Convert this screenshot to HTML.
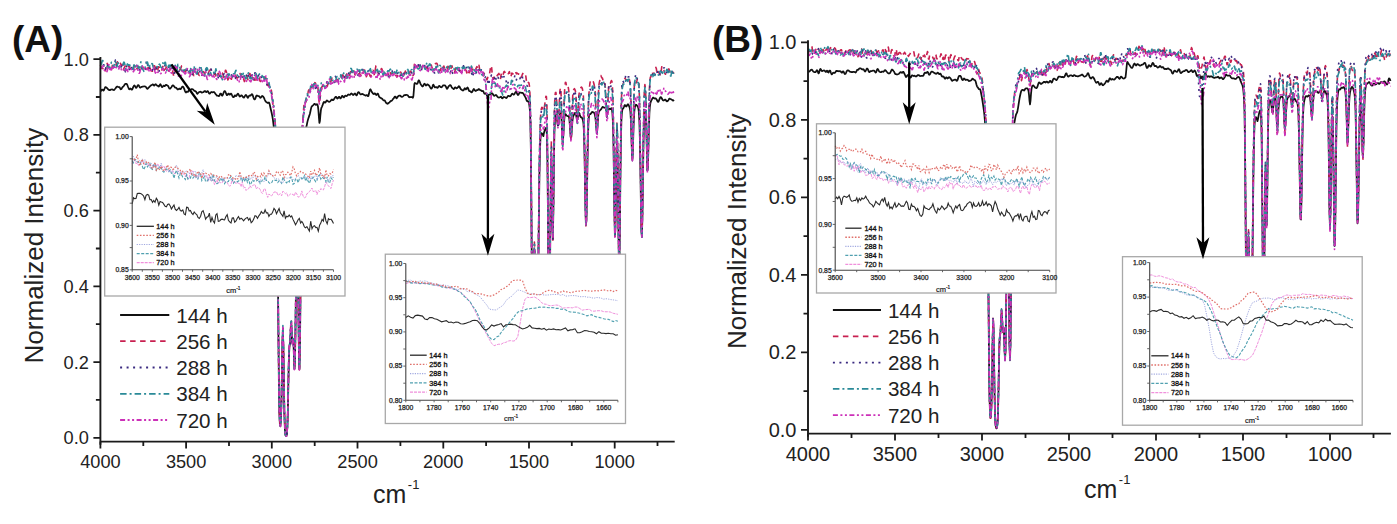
<!DOCTYPE html>
<html><head><meta charset="utf-8"><style>
html,body{margin:0;padding:0;background:#fff;}
body{width:1397px;height:524px;overflow:hidden;}
svg{display:block;}
text{font-family:"Liberation Sans",sans-serif;}
</style></head><body>
<svg width="1397" height="524" viewBox="0 0 1397 524">
<rect width="1397" height="524" fill="#fff"/>
<path d="M100.4,91.2 100.9,91.1 101.4,90.3 101.9,89.5 102.4,89.5 102.9,90.1 103.4,90.6 103.9,90.2 104.4,89.0 104.9,87.8 105.4,87.1 105.9,87.2 106.4,87.6 106.9,88.0 107.4,88.4 107.9,89.1 108.4,89.6 108.9,89.9 109.4,90.1 109.9,90.1 110.4,89.9 110.9,89.6 111.4,89.5 111.9,89.4 112.4,89.4 112.9,89.7 113.4,90.0 113.9,90.1 114.4,89.6 114.9,89.0 115.4,88.5 115.9,87.9 116.4,87.0 116.9,86.5 117.4,86.5 117.9,86.9 118.4,87.0 118.9,87.0 119.4,87.1 119.9,87.8 120.4,88.8 120.9,89.3 121.4,89.0 121.9,88.1 122.4,87.4 122.9,86.8 123.4,86.4 123.9,85.8 124.4,85.0 124.9,84.3 125.4,83.9 125.9,83.8 126.4,83.8 126.9,84.2 127.4,85.2 127.9,86.5 128.4,87.7 128.9,88.8 129.4,89.3 129.9,89.0 130.4,88.5 130.9,88.7 131.4,89.4 131.9,89.7 132.4,89.1 132.9,87.9 133.4,86.7 133.9,85.8 134.4,85.5 134.9,85.9 135.4,86.9 135.9,87.8 136.4,87.8 136.9,87.0 137.4,85.9 137.9,85.2 138.4,85.1 138.9,85.6 139.4,86.6 139.9,87.5 140.4,87.7 140.9,87.2 141.4,86.9 141.9,86.8 142.4,86.7 142.9,86.6 143.4,86.5 143.9,86.4 144.4,86.4 144.9,86.5 145.4,86.6 145.9,86.9 146.4,87.7 146.9,88.5 147.4,88.9 147.9,88.5 148.4,87.9 148.9,87.4 149.4,86.9 149.9,86.4 150.4,85.8 150.9,85.4 151.4,85.3 151.9,85.0 152.4,84.5 152.9,84.3 153.4,84.8 153.9,85.5 154.4,85.5 154.9,84.8 155.4,84.2 155.9,84.4 156.4,85.0 156.9,85.5 157.4,85.5 157.9,85.9 158.4,86.5 158.9,86.6 159.4,85.8 159.9,84.7 160.4,84.3 160.9,85.0 161.4,86.2 161.9,87.1 162.4,87.1 162.9,86.4 163.4,85.7 163.9,85.7 164.4,86.1 164.9,86.1 165.4,85.4 165.9,84.8 166.4,84.9 166.9,85.2 167.4,85.5 167.9,85.8 168.4,86.5 168.9,87.6 169.4,88.5 169.9,88.7 170.4,88.4 170.9,87.8 171.4,87.2 171.9,86.3 172.4,85.6 172.9,85.4 173.4,85.6 173.9,86.1 174.4,86.8 174.9,87.4 175.4,87.6 175.9,87.6 176.4,88.0 176.9,88.6 177.4,89.2 177.9,89.5 178.4,89.3 178.9,88.8 179.4,88.6 179.9,88.9 180.4,89.2 180.9,88.9 181.4,88.0 181.9,87.2 182.4,86.7 182.9,86.6 183.4,87.1 183.9,88.1 184.4,89.4 184.9,90.8 185.4,92.0 185.9,92.5 186.4,92.1 186.9,91.5 187.4,91.7 187.9,91.9 188.4,91.2 188.9,90.1 189.4,89.6 189.9,89.8 190.4,89.9 190.9,89.6 191.4,89.2 191.9,89.1 192.4,89.2 192.9,89.4 193.4,89.7 193.9,90.3 194.4,90.8 194.9,91.1 195.4,91.2 195.9,91.5 196.4,92.3 196.9,93.3 197.4,93.8 197.9,93.4 198.4,92.6 198.9,92.2 199.4,92.0 199.9,91.8 200.4,91.7 200.9,91.9 201.4,92.4 201.9,92.6 202.4,92.5 202.9,92.3 203.4,92.1 203.9,91.7 204.4,91.2 204.9,91.0 205.4,91.4 205.9,92.0 206.4,92.1 206.9,91.7 207.4,91.2 207.9,91.2 208.4,92.0 208.9,93.1 209.4,93.7 209.9,93.6 210.4,92.9 210.9,92.2 211.4,92.0 211.9,92.1 212.4,92.3 212.9,92.3 213.4,92.1 213.9,92.0 214.4,92.4 214.9,93.1 215.4,93.8 215.9,94.3 216.4,95.0 216.9,95.6 217.4,95.7 217.9,95.7 218.4,95.9 218.9,96.1 219.4,95.6 219.9,94.5 220.4,93.5 220.9,93.5 221.4,94.5 221.9,95.5 222.4,95.7 222.9,94.7 223.4,93.3 223.9,92.0 224.4,91.2 224.9,91.1 225.4,91.7 225.9,93.0 226.4,94.4 226.9,95.2 227.4,95.0 227.9,94.2 228.4,93.6 228.9,93.7 229.4,94.4 229.9,94.7 230.4,94.2 230.9,93.6 231.4,93.9 231.9,95.0 232.4,96.1 232.9,96.9 233.4,97.2 233.9,97.0 234.4,96.0 234.9,95.3 235.4,95.5 235.9,96.1 236.4,95.9 236.9,95.0 237.4,94.1 237.9,93.7 238.4,94.2 238.9,95.1 239.4,96.1 239.9,96.6 240.4,96.3 240.9,95.7 241.4,95.3 241.9,95.5 242.4,96.2 242.9,96.9 243.4,97.5 243.9,97.6 244.4,97.0 244.9,96.1 245.4,95.3 245.9,95.0 246.4,95.3 246.9,96.2 247.4,97.3 247.9,97.8 248.4,97.1 248.9,96.0 249.4,95.5 249.9,95.6 250.4,95.7 250.9,95.3 251.4,94.6 251.9,94.1 252.4,94.5 252.9,95.8 253.4,97.5 253.9,98.8 254.4,99.4 254.9,99.4 255.4,98.4 255.9,96.9 256.4,95.7 256.9,95.4 257.4,95.7 257.9,96.0 258.4,96.1 258.9,96.2 259.4,96.7 259.9,97.3 260.4,97.8 260.9,97.5 261.4,96.7 261.9,96.1 262.4,96.0 262.9,96.4 263.4,96.9 263.9,97.7 264.4,98.8 264.9,100.0 265.4,101.1 265.9,101.8 266.4,102.1 266.9,102.3 267.4,102.8 267.9,103.1 268.4,102.8 268.9,102.5 269.4,103.3 269.9,105.2 270.4,107.5 270.9,109.7 271.4,111.8 271.9,114.1 272.4,116.6 272.9,119.6 273.4,123.6 273.9,128.2 274.4,132.9 274.9,138.2 275.4,144.8 275.9,153.5 276.4,165.6 276.9,184.9 277.4,217.9 277.9,269.9 278.4,332.8 278.9,384.7 279.4,413.5 279.9,424.6 280.4,426.3 280.9,420.6 281.4,404.4 281.9,375.4 282.4,344.4 282.9,332.2 283.4,348.8 283.9,383.2 284.4,413.6 284.9,429.4 285.4,434.8 285.9,436.2 286.4,436.0 286.9,433.9 287.4,426.8 287.9,409.3 288.4,382.1 288.9,357.7 289.4,347.0 289.9,343.9 290.4,336.2 290.9,326.1 291.4,325.8 291.9,336.4 292.4,343.7 292.9,340.1 293.4,340.8 293.9,355.4 294.4,368.8 294.9,364.1 295.4,336.6 295.9,294.5 296.4,256.9 296.9,236.6 297.4,237.2 297.9,263.6 298.4,310.9 298.9,353.1 299.4,369.2 299.9,353.0 300.4,304.6 300.9,240.4 301.4,190.4 301.9,164.5 302.4,152.7 302.9,146.2 303.4,141.8 303.9,138.3 304.4,135.2 304.9,132.3 305.4,130.1 305.9,128.7 306.4,126.8 306.9,124.3 307.4,121.9 307.9,119.9 308.4,118.3 308.9,116.9 309.4,115.4 309.9,113.7 310.4,111.5 310.9,109.1 311.4,107.1 311.9,106.3 312.4,105.8 312.9,105.5 313.4,105.0 313.9,104.3 314.4,103.8 314.9,103.9 315.4,104.6 315.9,104.9 316.4,104.5 316.9,104.1 317.4,104.5 317.9,106.2 318.4,110.2 318.9,117.1 319.4,122.9 319.9,121.1 320.4,114.9 320.9,110.1 321.4,107.8 321.9,106.8 322.4,105.7 322.9,104.2 323.4,102.7 323.9,101.9 324.4,102.0 324.9,102.6 325.4,102.6 325.9,101.8 326.4,100.9 326.9,100.5 327.4,100.6 327.9,101.1 328.4,101.5 328.9,101.8 329.4,101.8 329.9,101.5 330.4,101.1 330.9,100.4 331.4,99.7 331.9,99.5 332.4,99.8 332.9,100.2 333.4,100.0 333.9,99.3 334.4,98.5 334.9,97.7 335.4,97.1 335.9,96.8 336.4,97.2 336.9,98.1 337.4,98.6 337.9,98.3 338.4,97.5 338.9,96.8 339.4,96.9 339.9,97.7 340.4,98.4 340.9,98.2 341.4,97.2 341.9,96.1 342.4,95.9 342.9,96.4 343.4,97.2 343.9,97.4 344.4,96.8 344.9,96.0 345.4,95.6 345.9,95.8 346.4,96.1 346.9,96.0 347.4,95.5 347.9,94.8 348.4,94.5 348.9,94.6 349.4,94.8 349.9,94.8 350.4,94.3 350.9,93.7 351.4,93.4 351.9,93.7 352.4,94.4 352.9,94.9 353.4,95.0 353.9,94.4 354.4,93.7 354.9,93.5 355.4,93.9 355.9,94.8 356.4,95.4 356.9,95.1 357.4,93.8 357.9,92.6 358.4,92.1 358.9,92.3 359.4,92.9 359.9,93.7 360.4,94.3 360.9,94.4 361.4,94.2 361.9,93.9 362.4,93.9 362.9,94.2 363.4,94.4 363.9,94.7 364.4,95.0 364.9,95.2 365.4,95.5 365.9,95.5 366.4,95.2 366.9,95.0 367.4,95.5 367.9,96.2 368.4,95.9 368.9,94.1 369.4,91.8 369.9,89.9 370.4,89.3 370.9,90.0 371.4,91.2 371.9,92.1 372.4,92.7 372.9,93.4 373.4,94.0 373.9,94.1 374.4,93.6 374.9,93.3 375.4,93.8 375.9,94.7 376.4,95.0 376.9,94.4 377.4,93.6 377.9,93.6 378.4,94.8 378.9,96.3 379.4,97.1 379.9,97.4 380.4,97.7 380.9,98.1 381.4,98.4 381.9,98.6 382.4,99.0 382.9,99.7 383.4,100.3 383.9,100.4 384.4,100.3 384.9,100.7 385.4,101.7 385.9,102.7 386.4,103.2 386.9,103.4 387.4,103.8 387.9,103.6 388.4,103.2 388.9,102.8 389.4,102.4 389.9,101.9 390.4,101.4 390.9,100.9 391.4,100.9 391.9,100.6 392.4,99.9 392.9,99.1 393.4,98.6 393.9,98.1 394.4,97.3 394.9,96.5 395.4,96.5 395.9,97.4 396.4,98.3 396.9,98.2 397.4,97.3 397.9,96.5 398.4,96.1 398.9,95.8 399.4,95.5 399.9,95.5 400.4,95.8 400.9,96.3 401.4,96.7 401.9,96.9 402.4,96.7 402.9,96.5 403.4,96.0 403.9,95.4 404.4,95.1 404.9,95.2 405.4,95.1 405.9,94.9 406.4,94.9 406.9,95.0 407.4,95.1 407.9,95.5 408.4,96.3 408.9,97.0 409.4,97.3 409.9,97.0 410.4,97.0 410.9,97.2 411.4,97.1 411.9,97.0 412.4,97.4 412.9,97.8 413.4,96.0 413.9,89.9 414.4,83.8 414.9,82.9 415.4,83.2 415.9,83.5 416.4,83.8 416.9,83.9 417.4,83.6 417.9,82.4 418.4,80.9 418.9,80.3 419.4,81.0 419.9,82.3 420.4,83.6 420.9,84.5 421.4,85.2 421.9,86.0 422.4,86.5 422.9,86.3 423.4,85.4 423.9,84.3 424.4,83.7 424.9,84.0 425.4,84.8 425.9,85.5 426.4,85.4 426.9,84.7 427.4,84.3 427.9,84.5 428.4,85.0 428.9,85.4 429.4,86.0 429.9,86.9 430.4,87.8 430.9,88.4 431.4,88.7 431.9,88.2 432.4,86.8 432.9,85.2 433.4,84.7 433.9,85.6 434.4,86.8 434.9,87.4 435.4,87.3 435.9,87.1 436.4,87.2 436.9,87.6 437.4,87.9 437.9,87.5 438.4,86.6 438.9,86.0 439.4,85.9 439.9,86.4 440.4,86.9 440.9,87.2 441.4,87.3 441.9,87.0 442.4,86.4 442.9,85.6 443.4,85.3 443.9,85.3 444.4,85.3 444.9,85.4 445.4,85.8 445.9,86.7 446.4,87.9 446.9,88.8 447.4,88.7 447.9,87.7 448.4,86.6 448.9,86.0 449.4,85.6 449.9,85.2 450.4,85.1 450.9,85.6 451.4,86.7 451.9,87.6 452.4,88.0 452.9,88.5 453.4,89.0 453.9,89.0 454.4,88.2 454.9,87.4 455.4,87.4 455.9,87.9 456.4,88.3 456.9,88.2 457.4,87.8 457.9,87.4 458.4,86.7 458.9,86.2 459.4,86.5 459.9,87.5 460.4,88.5 460.9,89.2 461.4,89.6 461.9,89.9 462.4,90.2 462.9,90.5 463.4,90.4 463.9,89.7 464.4,88.7 464.9,88.3 465.4,89.0 465.9,89.5 466.4,89.0 466.9,88.1 467.4,87.5 467.9,87.9 468.4,89.1 468.9,90.5 469.4,91.2 469.9,91.2 470.4,91.3 470.9,91.8 471.4,92.3 471.9,92.2 472.4,91.5 472.9,90.5 473.4,89.4 473.9,89.0 474.4,89.6 474.9,90.5 475.4,91.0 475.9,90.9 476.4,90.4 476.9,90.1 477.4,90.2 477.9,90.0 478.4,89.2 478.9,89.1 479.4,89.4 479.9,89.9 480.4,90.2 480.9,90.3 481.4,90.7 481.9,91.1 482.4,91.0 482.9,90.9 483.4,91.5 483.9,92.6 484.4,93.6 484.9,93.8 485.4,93.7 485.9,93.1 486.4,93.6 486.9,95.6 487.4,96.3 487.9,95.7 488.4,95.1 488.9,94.6 489.4,94.6 489.9,94.6 490.4,94.4 490.9,93.9 491.4,93.4 491.9,93.2 492.4,93.5 492.9,94.3 493.4,95.1 493.9,95.7 494.4,95.8 494.9,95.5 495.4,95.1 495.9,95.0 496.4,95.3 496.9,96.0 497.4,96.7 497.9,97.2 498.4,97.5 498.9,97.6 499.4,97.5 499.9,97.3 500.4,97.0 500.9,96.7 501.4,97.2 501.9,98.1 502.4,98.3 502.9,97.8 503.4,97.3 503.9,97.0 504.4,97.1 504.9,97.3 505.4,97.5 505.9,97.9 506.4,98.0 506.9,97.6 507.4,96.8 507.9,96.0 508.4,95.8 508.9,96.0 509.4,96.2 509.9,96.3 510.4,96.2 510.9,95.7 511.4,94.7 511.9,93.8 512.4,93.7 512.9,94.1 513.4,94.5 513.9,94.5 514.4,94.1 514.9,93.2 515.4,92.3 515.9,91.7 516.4,92.1 516.9,93.1 517.4,94.3 517.9,95.0 518.4,94.9 518.9,93.9 519.4,92.9 519.9,92.5 520.4,92.6 520.9,92.7 521.4,92.8 521.9,92.8 522.4,92.9 522.9,93.1 523.4,93.7 523.9,94.5 524.4,95.5 524.9,96.4 525.4,97.2 525.9,98.4 526.4,99.8 526.9,101.0 527.4,101.3 527.9,101.1 528.4,101.5 528.9,103.0 529.4,105.6 529.9,110.3 530.4,122.1 530.9,152.6 531.4,211.6 531.9,282.5 532.4,331.1 532.9,341.6 533.4,316.5 533.9,273.1 534.4,249.3 534.9,266.2 535.4,304.7 535.9,339.4 536.4,358.8 536.9,360.2 537.4,343.5 537.9,309.5 538.4,262.7 538.9,214.7 539.4,175.9 539.9,151.5 540.4,139.4 540.9,134.7 541.4,133.2 541.9,133.3 542.4,134.1 542.9,135.2 543.4,136.2 543.9,133.2 544.4,131.2 544.9,129.9 545.4,128.9 545.9,128.0 546.4,128.3 546.9,134.9 547.4,158.5 547.9,208.9 548.4,272.8 548.9,316.5 549.4,321.3 549.9,286.1 550.4,226.4 550.9,175.1 551.4,160.1 551.9,184.9 552.4,225.1 552.9,238.8 553.4,208.1 553.9,163.0 554.4,133.3 554.9,121.3 555.4,116.7 555.9,114.8 556.4,115.2 556.9,118.1 557.4,122.4 557.9,125.6 558.4,124.5 558.9,119.9 559.4,115.8 559.9,113.7 560.4,113.1 560.9,113.8 561.4,117.5 561.9,126.2 562.4,137.7 562.9,141.8 563.4,134.5 563.9,124.6 564.4,117.9 564.9,114.9 565.4,114.1 565.9,114.5 566.4,115.3 566.9,115.8 567.4,116.0 567.9,116.0 568.4,116.1 568.9,116.8 569.4,119.7 569.9,125.9 570.4,133.9 570.9,138.9 571.4,136.1 571.9,128.4 572.4,121.3 572.9,117.4 573.4,115.8 573.9,114.9 574.4,113.8 574.9,113.0 575.4,113.1 575.9,114.3 576.4,116.7 576.9,119.0 577.4,119.3 577.9,117.1 578.4,114.3 578.9,112.8 579.4,113.3 579.9,115.1 580.4,116.6 580.9,117.3 581.4,117.3 581.9,117.7 582.4,118.7 582.9,120.2 583.4,123.0 583.9,130.8 584.4,148.3 584.9,175.9 585.4,205.9 585.9,224.8 586.4,221.0 586.9,197.2 587.4,166.2 587.9,139.8 588.4,123.7 588.9,116.6 589.4,114.5 589.9,114.2 590.4,114.2 590.9,113.7 591.4,112.8 591.9,112.0 592.4,111.9 592.9,112.3 593.4,112.4 593.9,112.4 594.4,113.2 594.9,114.9 595.4,117.8 595.9,122.7 596.4,129.0 596.9,131.8 597.4,127.4 597.9,119.9 598.4,114.2 598.9,111.7 599.4,110.9 599.9,110.5 600.4,110.0 600.9,109.4 601.4,108.7 601.9,107.9 602.4,107.1 602.9,106.9 603.4,107.2 603.9,107.6 604.4,107.6 604.9,107.6 605.4,107.9 605.9,108.9 606.4,110.7 606.9,112.6 607.4,112.9 607.9,111.8 608.4,110.2 608.9,109.0 609.4,108.7 609.9,109.0 610.4,109.1 610.9,108.5 611.4,108.2 611.9,109.4 612.4,113.2 612.9,121.7 613.4,140.4 613.9,173.2 614.4,212.1 614.9,236.4 615.4,228.3 615.9,195.3 616.4,160.9 616.9,143.7 617.4,150.8 617.9,182.7 618.4,228.0 618.9,262.1 619.4,261.5 619.9,225.8 620.4,177.8 620.9,140.6 621.4,120.8 621.9,112.5 622.4,109.5 622.9,108.6 623.4,108.1 623.9,107.0 624.4,105.6 624.9,105.0 625.4,105.5 625.9,106.4 626.4,106.5 626.9,105.7 627.4,104.7 627.9,104.3 628.4,104.6 628.9,105.7 629.4,107.0 629.9,108.5 630.4,111.9 630.9,120.5 631.4,135.8 631.9,152.8 632.4,159.5 632.9,149.2 633.4,131.7 633.9,117.7 634.4,110.4 634.9,107.1 635.4,105.4 635.9,104.7 636.4,104.9 636.9,105.5 637.4,106.1 637.9,106.8 638.4,108.4 638.9,112.5 639.4,121.9 639.9,140.1 640.4,169.1 640.9,203.7 641.4,231.1 641.9,236.9 642.4,216.9 642.9,182.2 643.4,147.9 643.9,124.4 644.4,113.1 644.9,109.8 645.4,111.0 645.9,117.6 646.4,132.4 646.9,153.5 647.4,170.0 647.9,167.6 648.4,148.4 648.9,127.2 649.4,113.1 649.9,106.2 650.4,103.1 650.9,101.4 651.4,100.3 651.9,99.4 652.4,98.4 652.9,97.7 653.4,97.6 653.9,98.1 654.4,98.5 654.9,98.4 655.4,98.3 655.9,98.6 656.4,99.2 656.9,100.0 657.4,101.0 657.9,101.8 658.4,101.8 658.9,100.8 659.4,99.4 659.9,98.1 660.4,97.3 660.9,97.1 661.4,97.7 661.9,98.5 662.4,99.5 662.9,100.2 663.4,100.5 663.9,100.4 664.4,100.0 664.9,99.7 665.4,99.6 665.9,100.2 666.4,101.0 666.9,101.4 667.4,101.2 667.9,100.8 668.4,100.2 668.9,99.3 669.4,98.6 669.9,98.7 670.4,99.0 670.9,99.2 671.4,99.4 671.9,99.7 672.4,100.1 672.9,100.5 673.4,100.5 673.9,99.8" fill="none" stroke="#111" stroke-width="1.75" stroke-linejoin="round"/>
<path d="M100.4,65.1 100.9,66.6 101.4,67.9 101.9,68.2 102.4,68.1 102.9,68.6 103.4,69.6 103.9,69.0 104.4,67.5 104.9,69.1 105.4,70.8 105.9,68.0 106.4,64.0 106.9,62.7 107.4,64.0 107.9,66.6 108.4,67.5 108.9,67.3 109.4,68.2 109.9,68.6 110.4,68.8 110.9,69.9 111.4,70.4 111.9,68.1 112.4,65.2 112.9,64.4 113.4,65.5 113.9,66.0 114.4,65.3 114.9,65.4 115.4,65.3 115.9,64.7 116.4,64.0 116.9,62.6 117.4,61.8 117.9,62.7 118.4,63.8 118.9,65.0 119.4,65.6 119.9,64.7 120.4,63.3 120.9,64.3 121.4,66.2 121.9,65.4 122.4,64.8 122.9,67.9 123.4,69.8 123.9,68.2 124.4,67.5 124.9,66.7 125.4,65.2 125.9,65.4 126.4,65.9 126.9,65.0 127.4,64.7 127.9,65.5 128.4,66.3 128.9,65.5 129.4,66.1 129.9,68.3 130.4,68.7 130.9,67.3 131.4,66.0 131.9,66.1 132.4,66.5 132.9,67.3 133.4,68.8 133.9,67.3 134.4,65.0 134.9,64.6 135.4,64.7 135.9,65.8 136.4,67.4 136.9,68.8 137.4,69.3 137.9,68.2 138.4,66.6 138.9,65.6 139.4,67.4 139.9,68.9 140.4,68.5 140.9,68.1 141.4,68.5 141.9,68.7 142.4,67.4 142.9,67.0 143.4,69.0 143.9,71.0 144.4,71.0 144.9,70.1 145.4,70.1 145.9,69.7 146.4,68.8 146.9,68.3 147.4,68.4 147.9,68.9 148.4,67.6 148.9,65.5 149.4,65.3 149.9,66.8 150.4,69.2 150.9,70.7 151.4,70.7 151.9,71.1 152.4,71.2 152.9,69.3 153.4,66.6 153.9,65.7 154.4,65.8 154.9,66.5 155.4,67.8 155.9,69.4 156.4,70.7 156.9,72.0 157.4,72.2 157.9,69.6 158.4,66.7 158.9,67.0 159.4,67.3 159.9,66.9 160.4,68.0 160.9,70.0 161.4,70.8 161.9,69.9 162.4,67.4 162.9,66.4 163.4,69.4 163.9,71.3 164.4,70.0 164.9,69.0 165.4,69.0 165.9,68.2 166.4,66.6 166.9,66.2 167.4,66.9 167.9,67.4 168.4,69.6 168.9,71.1 169.4,70.9 169.9,69.3 170.4,68.5 170.9,69.4 171.4,69.0 171.9,67.8 172.4,69.8 172.9,72.5 173.4,74.7 173.9,76.7 174.4,75.8 174.9,72.3 175.4,69.8 175.9,68.8 176.4,69.0 176.9,70.0 177.4,70.3 177.9,70.3 178.4,70.9 178.9,71.3 179.4,70.6 179.9,69.7 180.4,69.5 180.9,68.1 181.4,66.4 181.9,65.9 182.4,65.8 182.9,66.0 183.4,67.1 183.9,68.5 184.4,69.8 184.9,71.5 185.4,71.9 185.9,70.9 186.4,70.4 186.9,70.4 187.4,70.7 187.9,70.9 188.4,70.1 188.9,68.9 189.4,69.8 189.9,72.8 190.4,74.6 190.9,73.5 191.4,71.2 191.9,70.3 192.4,70.0 192.9,71.9 193.4,74.7 193.9,75.6 194.4,74.9 194.9,73.2 195.4,72.9 195.9,72.9 196.4,72.3 196.9,72.5 197.4,72.2 197.9,72.2 198.4,73.6 198.9,75.1 199.4,75.5 199.9,74.6 200.4,73.9 200.9,73.7 201.4,72.9 201.9,72.8 202.4,72.6 202.9,72.0 203.4,71.7 203.9,72.7 204.4,73.5 204.9,73.2 205.4,72.5 205.9,71.3 206.4,70.1 206.9,70.2 207.4,71.4 207.9,72.2 208.4,72.4 208.9,71.6 209.4,70.5 209.9,70.2 210.4,69.8 210.9,69.5 211.4,70.7 211.9,72.6 212.4,72.9 212.9,72.5 213.4,73.4 213.9,74.0 214.4,74.4 214.9,73.8 215.4,73.8 215.9,76.4 216.4,77.7 216.9,75.9 217.4,74.5 217.9,73.5 218.4,73.4 218.9,75.1 219.4,75.9 219.9,74.2 220.4,72.5 220.9,72.4 221.4,73.0 221.9,73.2 222.4,73.0 222.9,74.1 223.4,76.0 223.9,77.4 224.4,76.7 224.9,73.2 225.4,70.4 225.9,70.4 226.4,71.9 226.9,74.5 227.4,77.8 227.9,80.0 228.4,79.0 228.9,76.2 229.4,75.6 229.9,76.7 230.4,77.5 230.9,78.8 231.4,79.2 231.9,77.2 232.4,75.2 232.9,75.5 233.4,76.5 233.9,76.7 234.4,75.7 234.9,75.1 235.4,75.0 235.9,75.8 236.4,77.3 236.9,77.9 237.4,78.0 237.9,77.6 238.4,75.1 238.9,73.1 239.4,72.9 239.9,73.3 240.4,74.5 240.9,75.6 241.4,75.2 241.9,76.7 242.4,79.8 242.9,79.5 243.4,78.5 243.9,80.1 244.4,81.6 244.9,80.2 245.4,78.3 245.9,78.7 246.4,77.4 246.9,75.6 247.4,77.4 247.9,79.8 248.4,78.7 248.9,75.9 249.4,73.8 249.9,73.5 250.4,76.4 250.9,79.2 251.4,80.1 251.9,79.5 252.4,78.1 252.9,77.7 253.4,77.9 253.9,78.1 254.4,79.9 254.9,81.9 255.4,83.0 255.9,80.7 256.4,76.9 256.9,76.5 257.4,78.1 257.9,78.4 258.4,77.1 258.9,76.8 259.4,78.2 259.9,80.8 260.4,81.5 260.9,80.2 261.4,78.5 261.9,77.8 262.4,77.7 262.9,77.2 263.4,77.4 263.9,78.0 264.4,77.5 264.9,77.2 265.4,78.0 265.9,77.9 266.4,79.5 266.9,83.2 267.4,85.4 267.9,84.1 268.4,83.9 268.9,86.5 269.4,89.0 269.9,89.5 270.4,89.3 270.9,89.2 271.4,90.6 271.9,94.6 272.4,100.0 272.9,104.2 273.4,107.6 273.9,110.6 274.4,114.8 274.9,119.8 275.4,125.3 275.9,134.8 276.4,149.9 276.9,171.6 277.4,207.1 277.9,262.1 278.4,328.3 278.9,382.8 279.4,412.8 279.9,424.4 280.4,426.1 280.9,420.3 281.4,403.2 281.9,372.6 282.4,340.3 282.9,327.4 283.4,344.3 283.9,380.4 284.4,412.7 284.9,429.2 285.4,434.8 285.9,436.2 286.4,436.0 286.9,433.8 287.4,426.3 287.9,408.0 288.4,379.5 288.9,354.9 289.4,345.7 289.9,344.0 290.4,335.0 290.9,321.9 291.4,321.1 291.9,334.2 292.4,342.6 292.9,337.9 293.4,337.8 293.9,353.8 294.4,368.7 294.9,363.8 295.4,333.8 295.9,287.3 296.4,245.5 296.9,223.0 297.4,225.1 297.9,256.6 298.4,308.4 298.9,353.0 299.4,369.7 299.9,352.3 300.4,299.3 300.9,226.7 301.4,169.6 301.9,140.0 302.4,126.1 302.9,118.4 303.4,112.1 303.9,105.8 304.4,101.8 304.9,101.7 305.4,103.0 305.9,101.8 306.4,98.7 306.9,96.3 307.4,94.6 307.9,93.0 308.4,90.9 308.9,89.8 309.4,91.5 309.9,92.5 310.4,90.1 310.9,87.5 311.4,87.2 311.9,87.1 312.4,86.4 312.9,87.8 313.4,89.0 313.9,86.5 314.4,83.8 314.9,82.7 315.4,83.0 315.9,84.7 316.4,86.3 316.9,85.9 317.4,85.9 317.9,87.6 318.4,92.9 318.9,100.1 319.4,103.7 319.9,100.6 320.4,95.3 320.9,91.7 321.4,89.1 321.9,86.8 322.4,85.8 322.9,86.1 323.4,85.7 323.9,84.5 324.4,84.2 324.9,84.5 325.4,84.6 325.9,84.7 326.4,85.7 326.9,86.6 327.4,86.1 327.9,83.1 328.4,80.5 328.9,81.1 329.4,82.0 329.9,81.7 330.4,81.4 330.9,81.4 331.4,79.7 331.9,78.3 332.4,78.3 332.9,78.5 333.4,78.6 333.9,79.8 334.4,81.3 334.9,81.8 335.4,81.7 335.9,81.1 336.4,80.1 336.9,79.4 337.4,79.5 337.9,79.8 338.4,80.6 338.9,80.7 339.4,78.6 339.9,77.2 340.4,77.2 340.9,77.3 341.4,76.7 341.9,76.0 342.4,75.0 342.9,75.1 343.4,76.4 343.9,78.7 344.4,79.9 344.9,78.7 345.4,76.4 345.9,75.9 346.4,75.2 346.9,73.8 347.4,75.2 347.9,76.8 348.4,76.9 348.9,76.0 349.4,75.2 349.9,73.9 350.4,72.1 350.9,70.8 351.4,71.7 351.9,72.6 352.4,71.8 352.9,71.6 353.4,71.5 353.9,70.9 354.4,72.5 354.9,74.8 355.4,74.9 355.9,74.9 356.4,75.0 356.9,74.4 357.4,75.5 357.9,75.8 358.4,74.0 358.9,73.8 359.4,73.7 359.9,73.8 360.4,75.2 360.9,75.7 361.4,73.2 361.9,71.0 362.4,71.5 362.9,72.7 363.4,73.0 363.9,71.7 364.4,70.1 364.9,70.2 365.4,71.5 365.9,74.5 366.4,76.7 366.9,75.3 367.4,72.9 367.9,71.3 368.4,72.1 368.9,73.7 369.4,74.2 369.9,75.6 370.4,76.5 370.9,76.0 371.4,74.3 371.9,72.0 372.4,70.9 372.9,70.4 373.4,70.6 373.9,73.0 374.4,75.3 374.9,73.0 375.4,68.9 375.9,65.9 376.4,65.6 376.9,68.1 377.4,70.6 377.9,72.2 378.4,73.8 378.9,74.5 379.4,74.1 379.9,73.7 380.4,72.6 380.9,70.1 381.4,68.5 381.9,68.9 382.4,70.4 382.9,71.0 383.4,71.9 383.9,73.0 384.4,73.5 384.9,74.9 385.4,75.6 385.9,75.5 386.4,74.8 386.9,74.2 387.4,73.4 387.9,73.7 388.4,74.6 388.9,73.1 389.4,70.9 389.9,71.2 390.4,73.2 390.9,74.3 391.4,73.7 391.9,73.2 392.4,73.4 392.9,73.6 393.4,74.3 393.9,73.7 394.4,72.6 394.9,73.2 395.4,75.3 395.9,75.4 396.4,75.4 396.9,77.0 397.4,76.2 397.9,74.6 398.4,74.7 398.9,75.2 399.4,74.8 399.9,73.2 400.4,72.1 400.9,72.2 401.4,73.9 401.9,75.1 402.4,73.9 402.9,72.1 403.4,72.0 403.9,73.8 404.4,74.4 404.9,72.5 405.4,71.1 405.9,72.9 406.4,74.1 406.9,73.6 407.4,73.1 407.9,73.0 408.4,72.9 408.9,73.7 409.4,74.0 409.9,72.5 410.4,71.2 410.9,71.4 411.4,71.8 411.9,71.3 412.4,72.4 412.9,75.6 413.4,75.3 413.9,69.4 414.4,64.4 414.9,65.0 415.4,67.2 415.9,68.7 416.4,69.0 416.9,68.8 417.4,68.0 417.9,66.1 418.4,65.5 418.9,66.1 419.4,65.3 419.9,66.2 420.4,69.0 420.9,70.6 421.4,69.4 421.9,67.3 422.4,66.3 422.9,66.2 423.4,65.8 423.9,63.9 424.4,63.7 424.9,65.4 425.4,66.9 425.9,67.9 426.4,68.0 426.9,67.6 427.4,68.4 427.9,68.9 428.4,67.0 428.9,64.9 429.4,65.4 429.9,65.8 430.4,64.9 430.9,64.7 431.4,65.4 431.9,67.0 432.4,68.0 432.9,67.1 433.4,65.4 433.9,64.4 434.4,64.0 434.9,63.7 435.4,63.5 435.9,63.6 436.4,63.3 436.9,63.3 437.4,64.5 437.9,67.3 438.4,70.4 438.9,71.7 439.4,70.9 439.9,70.9 440.4,70.6 440.9,68.4 441.4,68.6 441.9,70.7 442.4,69.9 442.9,68.0 443.4,66.6 443.9,66.1 444.4,67.9 444.9,70.5 445.4,70.7 445.9,69.7 446.4,69.5 446.9,69.5 447.4,68.2 447.9,66.4 448.4,66.5 448.9,68.1 449.4,69.5 449.9,70.2 450.4,70.3 450.9,68.8 451.4,66.9 451.9,65.8 452.4,67.5 452.9,70.2 453.4,70.9 453.9,71.1 454.4,72.4 454.9,71.7 455.4,68.1 455.9,66.9 456.4,66.8 456.9,66.0 457.4,67.2 457.9,68.8 458.4,69.3 458.9,70.2 459.4,71.0 459.9,71.3 460.4,70.7 460.9,70.0 461.4,69.8 461.9,69.6 462.4,69.7 462.9,69.3 463.4,69.5 463.9,69.5 464.4,68.7 464.9,69.0 465.4,69.6 465.9,70.2 466.4,71.3 466.9,73.6 467.4,75.4 467.9,75.0 468.4,72.8 468.9,72.1 469.4,72.7 469.9,71.3 470.4,67.9 470.9,65.7 471.4,66.9 471.9,69.6 472.4,70.0 472.9,67.8 473.4,67.4 473.9,68.8 474.4,69.7 474.9,70.0 475.4,69.9 475.9,69.0 476.4,67.6 476.9,66.6 477.4,67.5 477.9,68.7 478.4,66.6 478.9,65.2 479.4,67.9 479.9,70.8 480.4,71.1 480.9,71.1 481.4,71.6 481.9,71.7 482.4,72.9 482.9,75.1 483.4,75.8 483.9,74.5 484.4,73.4 484.9,73.7 485.4,74.7 485.9,75.7 486.4,77.8 486.9,79.9 487.4,78.7 487.9,76.8 488.4,75.8 488.9,76.2 489.4,74.9 489.9,71.6 490.4,68.3 490.9,65.9 491.4,65.5 491.9,70.4 492.4,76.8 492.9,78.7 493.4,79.4 493.9,78.3 494.4,76.5 494.9,77.1 495.4,78.2 495.9,77.4 496.4,76.5 496.9,75.9 497.4,75.1 497.9,74.7 498.4,74.1 498.9,73.4 499.4,75.4 499.9,78.8 500.4,79.3 500.9,75.9 501.4,73.3 501.9,74.0 502.4,75.8 502.9,75.7 503.4,73.8 503.9,71.8 504.4,71.4 504.9,72.2 505.4,73.4 505.9,73.7 506.4,73.0 506.9,72.8 507.4,72.1 507.9,72.4 508.4,73.8 508.9,72.6 509.4,71.7 509.9,74.0 510.4,77.0 510.9,77.1 511.4,74.7 511.9,73.1 512.4,73.4 512.9,74.0 513.4,73.5 513.9,72.4 514.4,72.0 514.9,71.1 515.4,70.8 515.9,72.6 516.4,73.8 516.9,73.6 517.4,73.2 517.9,73.7 518.4,74.2 518.9,74.0 519.4,75.0 519.9,76.6 520.4,78.0 520.9,78.0 521.4,76.6 521.9,75.6 522.4,74.4 522.9,73.3 523.4,72.5 523.9,72.6 524.4,73.6 524.9,74.3 525.4,74.3 525.9,76.6 526.4,80.8 526.9,81.2 527.4,79.7 527.9,81.0 528.4,82.7 528.9,82.8 529.4,85.6 529.9,93.1 530.4,108.7 530.9,142.5 531.4,205.5 531.9,280.6 532.4,331.2 532.9,342.1 533.4,315.8 533.9,268.8 534.4,242.1 534.9,260.7 535.4,302.2 535.9,338.9 536.4,359.2 536.9,360.6 537.4,342.7 537.9,306.4 538.4,255.1 538.9,201.1 539.4,159.5 539.9,133.7 540.4,119.2 540.9,112.1 541.4,108.6 541.9,107.3 542.4,107.7 542.9,109.3 543.4,110.9 543.9,109.3 544.4,106.9 544.9,103.6 545.4,99.8 545.9,96.4 546.4,96.5 546.9,105.9 547.4,136.3 547.9,195.1 548.4,265.9 548.9,314.3 549.4,320.6 549.9,283.3 550.4,216.7 550.9,156.8 551.4,141.2 551.9,174.5 552.4,223.8 552.9,240.3 553.4,204.2 553.9,148.6 554.4,110.9 554.9,96.6 555.4,92.7 555.9,92.4 556.4,96.0 556.9,104.6 557.4,116.9 557.9,126.7 558.4,125.1 558.9,113.3 559.4,100.2 559.9,91.1 560.4,87.7 560.9,90.6 561.4,101.3 561.9,120.6 562.4,142.6 562.9,147.8 563.4,129.0 563.9,106.9 564.4,93.8 564.9,86.5 565.4,82.4 565.9,82.6 566.4,85.4 566.9,86.7 567.4,85.9 567.9,85.5 568.4,88.1 568.9,92.0 569.4,99.4 569.9,113.1 570.4,129.1 570.9,138.4 571.4,133.0 571.9,118.0 572.4,102.5 572.9,92.8 573.4,90.1 573.9,89.3 574.4,88.7 574.9,89.6 575.4,91.1 575.9,94.3 576.4,104.1 576.9,117.5 577.4,122.3 577.9,115.3 578.4,104.1 578.9,95.4 579.4,91.4 579.9,90.5 580.4,89.2 580.9,87.6 581.4,87.1 581.9,87.6 582.4,88.9 582.9,91.4 583.4,96.7 583.9,109.0 584.4,132.8 584.9,167.8 585.4,204.3 585.9,226.0 586.4,219.7 586.9,189.6 587.4,152.2 587.9,121.9 588.4,103.9 588.9,94.1 589.4,88.3 589.9,83.3 590.4,80.9 590.9,80.8 591.4,80.8 591.9,81.9 592.4,82.8 592.9,82.3 593.4,81.9 593.9,83.8 594.4,86.0 594.9,87.7 595.4,93.8 595.9,108.4 596.4,126.7 596.9,133.2 597.4,123.8 597.9,107.9 598.4,93.4 598.9,85.2 599.4,82.1 599.9,79.9 600.4,77.2 600.9,75.5 601.4,76.8 601.9,77.9 602.4,78.0 602.9,80.0 603.4,83.1 603.9,84.3 604.4,83.3 604.9,83.8 605.4,88.1 605.9,96.0 606.4,108.2 606.9,116.9 607.4,113.2 607.9,102.1 608.4,91.3 608.9,84.7 609.4,82.4 609.9,82.8 610.4,83.1 610.9,81.8 611.4,80.6 611.9,81.3 612.4,86.1 612.9,96.6 613.4,119.3 613.9,159.2 614.4,205.8 614.9,235.1 615.4,226.1 615.9,187.0 616.4,145.3 616.9,123.0 617.4,130.8 617.9,169.9 618.4,223.0 618.9,260.7 619.4,259.8 619.9,220.4 620.4,165.6 620.9,121.7 621.4,98.7 621.9,89.8 622.4,86.0 622.9,84.4 623.4,83.2 623.9,81.1 624.4,79.1 624.9,78.3 625.4,78.8 625.9,80.6 626.4,80.5 626.9,78.8 627.4,78.0 627.9,78.6 628.4,80.0 628.9,80.2 629.4,79.6 629.9,82.2 630.4,87.4 630.9,99.5 631.4,123.3 631.9,149.9 632.4,159.1 632.9,143.2 633.4,118.1 633.9,96.8 634.4,84.1 634.9,81.5 635.4,83.3 635.9,83.5 636.4,82.7 636.9,80.8 637.4,78.6 637.9,78.4 638.4,79.8 638.9,84.2 639.4,96.4 639.9,120.2 640.4,155.4 640.9,195.8 641.4,227.1 641.9,235.0 642.4,214.0 642.9,174.0 643.4,134.1 643.9,105.2 644.4,89.1 644.9,84.6 645.4,87.9 645.9,98.8 646.4,120.2 646.9,149.3 647.4,171.1 647.9,167.4 648.4,140.8 648.9,110.8 649.4,90.2 649.9,80.2 650.4,77.2 650.9,76.8 651.4,74.3 651.9,71.9 652.4,72.3 652.9,74.3 653.4,75.2 653.9,74.0 654.4,72.2 654.9,71.6 655.4,69.9 655.9,67.4 656.4,68.8 656.9,72.9 657.4,74.6 657.9,74.5 658.4,73.3 658.9,71.9 659.4,72.9 659.9,74.5 660.4,75.7 660.9,74.5 661.4,69.4 661.9,66.0 662.4,67.4 662.9,68.8 663.4,69.7 663.9,70.4 664.4,72.0 664.9,73.6 665.4,74.2 665.9,74.0 666.4,73.9 666.9,73.5 667.4,72.2 667.9,70.6 668.4,69.2 668.9,68.9 669.4,70.3 669.9,71.8 670.4,72.8 670.9,73.5 671.4,74.6 671.9,74.9 672.4,73.5 672.9,72.2 673.4,72.6 673.9,73.6" fill="none" stroke="#c82050" stroke-width="1.6" stroke-dasharray="5.5,4.5" stroke-linejoin="round"/>
<path d="M100.4,67.7 100.9,67.4 101.4,68.5 101.9,69.4 102.4,68.9 102.9,66.5 103.4,64.8 103.9,64.9 104.4,65.7 104.9,68.0 105.4,69.4 105.9,67.2 106.4,64.3 106.9,64.0 107.4,64.3 107.9,65.6 108.4,67.4 108.9,67.2 109.4,66.3 109.9,67.5 110.4,69.3 110.9,69.2 111.4,69.1 111.9,70.3 112.4,70.3 112.9,68.6 113.4,67.6 113.9,66.9 114.4,65.2 114.9,62.2 115.4,60.1 115.9,62.3 116.4,65.9 116.9,66.2 117.4,64.7 117.9,63.9 118.4,64.8 118.9,66.0 119.4,67.5 119.9,69.6 120.4,69.2 120.9,67.7 121.4,66.5 121.9,64.3 122.4,62.7 122.9,62.7 123.4,65.6 123.9,68.2 124.4,69.0 124.9,70.2 125.4,71.8 125.9,70.7 126.4,67.4 126.9,65.3 127.4,66.2 127.9,67.5 128.4,68.2 128.9,69.2 129.4,69.5 129.9,68.4 130.4,67.1 130.9,65.5 131.4,66.4 131.9,69.9 132.4,71.7 132.9,70.6 133.4,69.1 133.9,68.7 134.4,67.9 134.9,67.1 135.4,67.9 135.9,67.5 136.4,65.6 136.9,65.3 137.4,67.0 137.9,68.7 138.4,69.7 138.9,70.1 139.4,70.0 139.9,68.9 140.4,67.2 140.9,65.9 141.4,67.0 141.9,68.4 142.4,68.3 142.9,67.1 143.4,66.2 143.9,66.3 144.4,66.9 144.9,68.4 145.4,68.9 145.9,65.9 146.4,61.9 146.9,60.6 147.4,63.6 147.9,67.2 148.4,68.6 148.9,69.6 149.4,68.5 149.9,66.9 150.4,68.0 150.9,69.1 151.4,69.1 151.9,70.1 152.4,70.4 152.9,68.5 153.4,66.4 153.9,67.1 154.4,69.0 154.9,70.2 155.4,69.4 155.9,66.9 156.4,66.8 156.9,69.9 157.4,72.3 157.9,72.1 158.4,71.4 158.9,71.3 159.4,70.8 159.9,70.7 160.4,70.6 160.9,70.9 161.4,71.8 161.9,71.8 162.4,70.4 162.9,68.5 163.4,66.3 163.9,64.6 164.4,64.2 164.9,65.2 165.4,67.0 165.9,68.2 166.4,68.4 166.9,67.9 167.4,68.0 167.9,68.1 168.4,67.1 168.9,67.8 169.4,69.7 169.9,69.7 170.4,67.1 170.9,64.4 171.4,64.2 171.9,67.3 172.4,69.9 172.9,70.3 173.4,69.8 173.9,70.8 174.4,73.5 174.9,74.3 175.4,72.5 175.9,71.3 176.4,70.7 176.9,71.0 177.4,73.3 177.9,74.4 178.4,72.8 178.9,71.2 179.4,70.8 179.9,70.2 180.4,69.7 180.9,69.2 181.4,68.6 181.9,69.3 182.4,70.4 182.9,70.8 183.4,70.8 183.9,71.1 184.4,71.7 184.9,71.8 185.4,71.0 185.9,70.8 186.4,71.6 186.9,70.9 187.4,68.0 187.9,68.0 188.4,70.9 188.9,73.0 189.4,75.0 189.9,75.3 190.4,73.4 190.9,70.7 191.4,70.7 191.9,73.5 192.4,74.6 192.9,73.1 193.4,71.4 193.9,70.5 194.4,70.0 194.9,71.3 195.4,74.2 195.9,74.9 196.4,74.7 196.9,75.1 197.4,73.5 197.9,70.7 198.4,70.0 198.9,71.1 199.4,71.8 199.9,71.3 200.4,70.3 200.9,71.2 201.4,74.0 201.9,75.2 202.4,74.7 202.9,73.7 203.4,72.3 203.9,72.5 204.4,74.4 204.9,75.9 205.4,74.7 205.9,72.0 206.4,69.8 206.9,70.5 207.4,73.8 207.9,74.6 208.4,72.9 208.9,71.6 209.4,70.7 209.9,70.1 210.4,69.5 210.9,68.9 211.4,70.0 211.9,71.5 212.4,72.3 212.9,72.5 213.4,72.4 213.9,72.0 214.4,72.0 214.9,73.7 215.4,74.6 215.9,74.0 216.4,74.6 216.9,75.1 217.4,75.3 217.9,76.5 218.4,78.3 218.9,79.9 219.4,79.4 219.9,76.3 220.4,74.0 220.9,75.7 221.4,77.4 221.9,75.4 222.4,72.9 222.9,73.7 223.4,74.7 223.9,73.9 224.4,73.7 224.9,75.1 225.4,75.7 225.9,75.0 226.4,74.8 226.9,74.5 227.4,74.2 227.9,74.5 228.4,74.9 228.9,74.4 229.4,73.9 229.9,74.6 230.4,76.4 230.9,76.4 231.4,75.6 231.9,74.1 232.4,72.5 232.9,74.0 233.4,77.4 233.9,78.2 234.4,76.8 234.9,77.2 235.4,78.3 235.9,77.2 236.4,75.2 236.9,74.3 237.4,74.8 237.9,75.0 238.4,75.6 238.9,77.0 239.4,78.5 239.9,78.0 240.4,77.0 240.9,77.6 241.4,77.8 241.9,76.8 242.4,77.3 242.9,79.4 243.4,79.5 243.9,77.1 244.4,75.1 244.9,75.2 245.4,76.8 245.9,77.6 246.4,76.2 246.9,73.5 247.4,73.3 247.9,76.2 248.4,76.1 248.9,73.4 249.4,73.7 249.9,76.0 250.4,79.1 250.9,79.4 251.4,77.3 251.9,75.0 252.4,74.8 252.9,77.8 253.4,79.8 253.9,78.5 254.4,75.5 254.9,72.8 255.4,72.7 255.9,73.7 256.4,74.5 256.9,74.6 257.4,75.1 257.9,76.5 258.4,75.5 258.9,74.5 259.4,75.4 259.9,75.4 260.4,74.6 260.9,75.9 261.4,78.1 261.9,80.1 262.4,80.5 262.9,79.5 263.4,79.1 263.9,79.2 264.4,78.8 264.9,78.9 265.4,79.8 265.9,81.0 266.4,82.9 266.9,84.6 267.4,85.6 267.9,85.5 268.4,84.6 268.9,84.2 269.4,85.2 269.9,87.7 270.4,89.8 270.9,90.9 271.4,92.7 271.9,95.7 272.4,98.8 272.9,101.0 273.4,103.5 273.9,108.5 274.4,115.2 274.9,120.9 275.4,127.2 275.9,137.6 276.4,151.5 276.9,170.8 277.4,205.2 277.9,260.7 278.4,327.7 278.9,382.8 279.4,412.8 279.9,424.4 280.4,426.1 280.9,420.2 281.4,403.3 281.9,372.7 282.4,339.4 282.9,326.1 283.4,344.0 283.9,380.7 284.4,412.9 284.9,429.3 285.4,434.8 285.9,436.2 286.4,436.0 286.9,433.8 287.4,426.4 287.9,408.0 288.4,379.2 288.9,354.2 289.4,345.0 289.9,343.9 290.4,336.0 290.9,323.9 291.4,322.8 291.9,335.0 292.4,343.2 292.9,338.8 293.4,338.8 293.9,355.0 294.4,369.9 294.9,364.8 295.4,334.7 295.9,288.1 296.4,245.6 296.9,223.7 297.4,225.2 297.9,254.2 298.4,305.6 298.9,351.5 299.4,368.8 299.9,351.1 300.4,297.6 300.9,225.7 301.4,169.3 301.9,140.4 302.4,128.5 302.9,122.3 303.4,117.7 303.9,113.7 304.4,110.3 304.9,106.6 305.4,102.7 305.9,98.5 306.4,96.7 306.9,97.3 307.4,96.6 307.9,93.9 308.4,93.0 308.9,93.9 309.4,93.4 309.9,92.2 310.4,91.2 310.9,90.5 311.4,90.0 311.9,88.3 312.4,85.8 312.9,84.2 313.4,84.3 313.9,85.5 314.4,86.1 314.9,86.1 315.4,88.4 315.9,90.9 316.4,89.6 316.9,86.6 317.4,87.0 317.9,89.7 318.4,91.8 318.9,96.4 319.4,101.1 319.9,98.9 320.4,92.7 320.9,89.7 321.4,88.4 321.9,86.8 322.4,86.6 322.9,86.7 323.4,84.6 323.9,83.9 324.4,84.3 324.9,83.9 325.4,82.8 325.9,82.4 326.4,82.8 326.9,81.8 327.4,82.2 327.9,85.2 328.4,85.4 328.9,81.8 329.4,80.4 329.9,81.8 330.4,82.9 330.9,83.1 331.4,83.5 331.9,84.9 332.4,84.9 332.9,84.4 333.4,84.8 333.9,83.0 334.4,81.0 334.9,78.7 335.4,76.4 335.9,77.0 336.4,79.7 336.9,81.6 337.4,81.9 337.9,81.8 338.4,80.7 338.9,79.8 339.4,79.5 339.9,78.4 340.4,76.3 340.9,76.0 341.4,75.8 341.9,75.4 342.4,76.2 342.9,77.0 343.4,78.5 343.9,78.5 344.4,76.7 344.9,76.2 345.4,75.7 345.9,74.3 346.4,75.9 346.9,78.5 347.4,78.3 347.9,76.3 348.4,74.3 348.9,73.0 349.4,72.7 349.9,72.4 350.4,71.3 350.9,70.2 351.4,70.3 351.9,72.0 352.4,72.8 352.9,73.0 353.4,73.7 353.9,73.3 354.4,73.2 354.9,73.4 355.4,72.3 355.9,72.0 356.4,72.4 356.9,74.6 357.4,77.0 357.9,76.0 358.4,73.1 358.9,70.8 359.4,70.6 359.9,72.4 360.4,73.1 360.9,71.9 361.4,71.5 361.9,72.1 362.4,70.9 362.9,69.4 363.4,70.5 363.9,72.6 364.4,72.3 364.9,71.8 365.4,72.7 365.9,73.2 366.4,74.0 366.9,74.6 367.4,74.4 367.9,73.5 368.4,71.8 368.9,70.6 369.4,70.3 369.9,70.2 370.4,69.6 370.9,69.2 371.4,70.2 371.9,72.0 372.4,72.7 372.9,72.0 373.4,72.0 373.9,73.0 374.4,72.1 374.9,70.7 375.4,72.0 375.9,72.6 376.4,72.1 376.9,71.7 377.4,70.8 377.9,70.9 378.4,71.1 378.9,72.6 379.4,75.3 379.9,75.7 380.4,74.4 380.9,72.5 381.4,71.9 381.9,71.5 382.4,72.4 382.9,73.7 383.4,73.4 383.9,72.7 384.4,72.3 384.9,73.1 385.4,74.9 385.9,75.4 386.4,75.4 386.9,76.7 387.4,76.9 387.9,76.0 388.4,76.3 388.9,78.7 389.4,79.1 389.9,76.5 390.4,74.3 390.9,73.0 391.4,71.1 391.9,70.5 392.4,71.7 392.9,73.7 393.4,74.8 393.9,73.3 394.4,72.1 394.9,72.2 395.4,72.8 395.9,74.3 396.4,75.5 396.9,74.6 397.4,73.0 397.9,73.0 398.4,75.0 398.9,75.9 399.4,74.8 399.9,74.9 400.4,75.1 400.9,75.2 401.4,75.3 401.9,74.1 402.4,74.1 402.9,75.7 403.4,75.1 403.9,72.2 404.4,70.6 404.9,70.5 405.4,71.2 405.9,72.0 406.4,72.8 406.9,73.8 407.4,75.1 407.9,75.1 408.4,72.7 408.9,70.1 409.4,69.6 409.9,70.1 410.4,70.0 410.9,70.2 411.4,71.9 411.9,73.9 412.4,74.6 412.9,75.6 413.4,76.2 413.9,72.4 414.4,66.3 414.9,64.0 415.4,64.0 415.9,65.4 416.4,66.6 416.9,66.5 417.4,64.1 417.9,63.0 418.4,65.2 418.9,66.0 419.4,64.0 419.9,63.0 420.4,65.8 420.9,70.0 421.4,70.4 421.9,67.3 422.4,66.2 422.9,67.0 423.4,67.2 423.9,66.3 424.4,65.7 424.9,65.5 425.4,66.6 425.9,68.5 426.4,68.6 426.9,67.6 427.4,66.8 427.9,66.2 428.4,66.2 428.9,65.9 429.4,66.5 429.9,68.5 430.4,69.6 430.9,69.2 431.4,69.5 431.9,69.2 432.4,68.5 432.9,69.7 433.4,70.9 433.9,71.8 434.4,73.0 434.9,72.7 435.4,70.3 435.9,68.1 436.4,67.1 436.9,67.6 437.4,68.2 437.9,67.6 438.4,67.3 438.9,69.3 439.4,71.9 439.9,71.7 440.4,70.7 440.9,70.8 441.4,70.4 441.9,69.9 442.4,68.3 442.9,66.9 443.4,66.2 443.9,66.3 444.4,66.8 444.9,68.7 445.4,71.7 445.9,72.2 446.4,71.2 446.9,71.6 447.4,72.4 447.9,71.1 448.4,69.5 448.9,69.2 449.4,70.3 449.9,71.7 450.4,71.9 450.9,70.6 451.4,69.0 451.9,70.0 452.4,72.8 452.9,73.8 453.4,72.7 453.9,71.7 454.4,71.5 454.9,70.7 455.4,70.7 455.9,72.6 456.4,73.5 456.9,72.5 457.4,71.9 457.9,71.8 458.4,70.7 458.9,70.4 459.4,70.4 459.9,69.6 460.4,68.4 460.9,68.9 461.4,71.5 461.9,72.4 462.4,70.6 462.9,67.7 463.4,65.9 463.9,65.8 464.4,66.8 464.9,68.3 465.4,69.2 465.9,68.7 466.4,67.4 466.9,68.2 467.4,69.7 467.9,69.2 468.4,68.1 468.9,67.2 469.4,68.1 469.9,71.1 470.4,72.0 470.9,72.1 471.4,72.8 471.9,74.6 472.4,77.1 472.9,76.6 473.4,73.5 473.9,72.1 474.4,71.8 474.9,71.3 475.4,72.1 475.9,73.3 476.4,72.1 476.9,70.1 477.4,69.7 477.9,69.1 478.4,68.5 478.9,70.2 479.4,72.6 479.9,72.8 480.4,72.7 480.9,71.6 481.4,68.7 481.9,69.1 482.4,71.2 482.9,71.7 483.4,73.2 483.9,76.2 484.4,78.2 484.9,77.6 485.4,76.9 485.9,77.9 486.4,79.2 486.9,79.0 487.4,79.2 487.9,82.1 488.4,85.0 488.9,84.2 489.4,80.9 489.9,78.2 490.4,77.3 490.9,76.6 491.4,75.1 491.9,76.5 492.4,77.9 492.9,78.6 493.4,79.0 493.9,78.9 494.4,78.2 494.9,75.9 495.4,75.4 495.9,78.6 496.4,80.6 496.9,79.4 497.4,77.4 497.9,77.2 498.4,78.3 498.9,79.0 499.4,79.6 499.9,79.7 500.4,78.7 500.9,78.2 501.4,77.3 501.9,76.6 502.4,77.7 502.9,79.7 503.4,79.0 503.9,76.5 504.4,76.9 504.9,77.1 505.4,76.8 505.9,79.6 506.4,82.8 506.9,85.0 507.4,85.0 507.9,83.0 508.4,81.8 508.9,81.3 509.4,81.9 509.9,81.9 510.4,81.6 510.9,81.6 511.4,80.9 511.9,81.0 512.4,81.6 512.9,80.0 513.4,79.4 513.9,79.9 514.4,77.4 514.9,75.1 515.4,75.9 515.9,78.6 516.4,79.9 516.9,78.3 517.4,77.2 517.9,77.8 518.4,78.4 518.9,78.4 519.4,78.3 519.9,78.7 520.4,77.6 520.9,75.7 521.4,75.1 521.9,75.0 522.4,76.8 522.9,80.9 523.4,82.0 523.9,80.9 524.4,81.9 524.9,84.5 525.4,85.6 525.9,85.2 526.4,85.3 526.9,85.5 527.4,86.3 527.9,89.1 528.4,91.6 528.9,91.0 529.4,90.8 529.9,96.3 530.4,108.7 530.9,141.4 531.4,207.1 531.9,283.1 532.4,332.9 532.9,342.7 533.4,315.3 533.9,268.9 534.4,244.5 534.9,262.6 535.4,302.2 535.9,338.0 536.4,358.4 536.9,360.2 537.4,342.7 537.9,306.7 538.4,256.5 538.9,204.3 539.4,162.5 539.9,135.7 540.4,121.0 540.9,113.9 541.4,111.0 541.9,110.6 542.4,112.4 542.9,114.2 543.4,115.3 543.9,112.5 544.4,109.1 544.9,105.9 545.4,104.3 545.9,104.1 546.4,105.8 546.9,113.5 547.4,140.3 547.9,197.2 548.4,267.8 548.9,315.4 549.4,320.7 549.9,282.7 550.4,217.8 550.9,162.1 551.4,147.0 551.9,178.3 552.4,225.6 552.9,240.3 553.4,203.8 553.9,149.6 554.4,113.6 554.9,99.8 555.4,95.6 555.9,96.3 556.4,100.8 556.9,108.4 557.4,118.5 557.9,127.3 558.4,127.7 558.9,118.3 559.4,106.2 559.9,96.5 560.4,91.9 560.9,94.0 561.4,103.1 561.9,122.0 562.4,142.9 562.9,146.5 563.4,129.4 563.9,109.7 564.4,97.7 564.9,93.6 565.4,93.8 565.9,94.3 566.4,92.5 566.9,91.1 567.4,92.0 567.9,93.3 568.4,93.3 568.9,95.3 569.4,101.8 569.9,113.9 570.4,128.6 570.9,136.5 571.4,130.2 571.9,116.3 572.4,104.0 572.9,97.9 573.4,96.1 573.9,93.3 574.4,90.5 574.9,91.0 575.4,93.7 575.9,98.4 576.4,108.5 576.9,120.6 577.4,124.2 577.9,116.2 578.4,105.1 578.9,97.2 579.4,94.5 579.9,93.5 580.4,92.3 580.9,93.2 581.4,95.6 581.9,97.0 582.4,96.7 582.9,97.9 583.4,102.2 583.9,113.1 584.4,134.5 584.9,167.2 585.4,202.4 585.9,224.0 586.4,218.3 586.9,188.8 587.4,151.4 587.9,121.1 588.4,104.0 588.9,95.8 589.4,91.8 589.9,89.6 590.4,89.4 590.9,91.0 591.4,92.4 591.9,92.7 592.4,91.4 592.9,88.9 593.4,87.1 593.9,85.7 594.4,86.2 594.9,90.0 595.4,98.9 595.9,113.5 596.4,129.4 596.9,135.9 597.4,126.5 597.9,109.2 598.4,94.7 598.9,87.3 599.4,84.7 599.9,85.0 600.4,85.9 600.9,85.1 601.4,83.5 601.9,82.8 602.4,82.9 602.9,82.5 603.4,82.0 603.9,81.5 604.4,81.5 604.9,84.8 605.4,91.0 605.9,99.5 606.4,110.5 606.9,118.4 607.4,114.5 607.9,101.8 608.4,90.0 608.9,84.4 609.4,84.6 609.9,86.3 610.4,86.5 610.9,86.1 611.4,86.1 611.9,86.1 612.4,89.3 612.9,99.4 613.4,121.1 613.9,159.8 614.4,205.2 614.9,233.7 615.4,226.0 615.9,188.6 616.4,148.1 616.9,126.6 617.4,132.2 617.9,168.7 618.4,222.4 618.9,261.0 619.4,260.4 619.9,220.6 620.4,164.2 620.9,118.7 621.4,95.3 621.9,85.7 622.4,81.9 622.9,80.9 623.4,82.0 623.9,82.4 624.4,80.6 624.9,79.1 625.4,77.2 625.9,74.6 626.4,74.6 626.9,76.3 627.4,76.8 627.9,76.9 628.4,77.0 628.9,76.9 629.4,78.3 629.9,81.4 630.4,86.6 630.9,99.9 631.4,123.9 631.9,150.0 632.4,160.7 632.9,146.7 633.4,120.0 633.9,97.4 634.4,85.4 634.9,79.5 635.4,76.1 635.9,74.2 636.4,74.8 636.9,77.9 637.4,79.4 637.9,79.7 638.4,82.5 638.9,88.7 639.4,98.3 639.9,118.4 640.4,154.8 640.9,197.5 641.4,229.8 641.9,236.9 642.4,214.4 642.9,176.0 643.4,136.9 643.9,108.2 644.4,93.7 644.9,87.8 645.4,89.1 645.9,99.5 646.4,120.4 646.9,148.5 647.4,170.4 647.9,168.2 648.4,144.0 648.9,115.8 649.4,94.9 649.9,83.0 650.4,77.5 650.9,75.5 651.4,75.2 651.9,75.2 652.4,74.3 652.9,74.1 653.4,73.7 653.9,72.3 654.4,73.0 654.9,75.0 655.4,73.7 655.9,70.9 656.4,70.8 656.9,72.2 657.4,72.2 657.9,71.5 658.4,72.3 658.9,74.3 659.4,75.5 659.9,73.9 660.4,71.0 660.9,70.0 661.4,70.9 661.9,72.6 662.4,72.9 662.9,72.0 663.4,69.9 663.9,67.7 664.4,67.9 664.9,69.4 665.4,69.2 665.9,69.1 666.4,72.0 666.9,74.9 667.4,75.0 667.9,72.8 668.4,71.1 668.9,71.2 669.4,72.5 669.9,73.2 670.4,73.1 670.9,72.8 671.4,73.4 671.9,73.0 672.4,71.6 672.9,71.8 673.4,72.4 673.9,71.8" fill="none" stroke="#3a2a80" stroke-width="1.6" stroke-dasharray="2,4.5" stroke-linejoin="round"/>
<path d="M100.4,64.9 100.9,64.6 101.4,63.9 101.9,62.2 102.4,60.6 102.9,60.6 103.4,62.9 103.9,65.6 104.4,66.5 104.9,66.4 105.4,67.1 105.9,67.5 106.4,66.6 106.9,66.6 107.4,67.7 107.9,68.3 108.4,67.5 108.9,66.8 109.4,67.2 109.9,67.5 110.4,66.5 110.9,64.3 111.4,62.3 111.9,62.4 112.4,63.4 112.9,65.8 113.4,67.7 113.9,66.2 114.4,63.5 114.9,61.5 115.4,61.3 115.9,63.7 116.4,66.5 116.9,66.7 117.4,64.5 117.9,62.7 118.4,64.1 118.9,65.2 119.4,64.5 119.9,65.4 120.4,66.8 120.9,66.4 121.4,65.9 121.9,66.1 122.4,66.2 122.9,65.2 123.4,63.2 123.9,62.1 124.4,62.8 124.9,64.6 125.4,67.1 125.9,69.2 126.4,68.5 126.9,65.6 127.4,63.9 127.9,64.5 128.4,65.3 128.9,64.7 129.4,64.9 129.9,65.7 130.4,65.3 130.9,65.5 131.4,66.7 131.9,69.2 132.4,71.3 132.9,70.7 133.4,67.5 133.9,65.0 134.4,65.3 134.9,67.5 135.4,68.3 135.9,66.5 136.4,65.4 136.9,64.2 137.4,64.1 137.9,66.8 138.4,68.2 138.9,67.8 139.4,67.9 139.9,67.2 140.4,64.0 140.9,61.9 141.4,63.3 141.9,66.5 142.4,68.9 142.9,69.4 143.4,70.4 143.9,71.3 144.4,70.4 144.9,68.6 145.4,66.1 145.9,63.7 146.4,62.9 146.9,62.4 147.4,62.0 147.9,64.0 148.4,66.8 148.9,68.0 149.4,67.2 149.9,65.5 150.4,65.5 150.9,66.3 151.4,65.3 151.9,63.6 152.4,63.7 152.9,66.0 153.4,67.4 153.9,67.7 154.4,67.7 154.9,67.0 155.4,66.5 155.9,66.8 156.4,67.4 156.9,66.6 157.4,66.8 157.9,67.7 158.4,66.7 158.9,65.0 159.4,64.1 159.9,64.6 160.4,66.3 160.9,67.2 161.4,67.6 161.9,67.1 162.4,64.7 162.9,62.8 163.4,63.6 163.9,65.5 164.4,65.2 164.9,62.4 165.4,62.4 165.9,64.9 166.4,68.1 166.9,70.6 167.4,69.7 167.9,67.7 168.4,65.9 168.9,65.1 169.4,65.6 169.9,66.5 170.4,65.0 170.9,63.0 171.4,63.9 171.9,65.0 172.4,65.4 172.9,66.3 173.4,68.1 173.9,69.2 174.4,67.5 174.9,65.6 175.4,65.3 175.9,67.6 176.4,72.2 176.9,72.7 177.4,68.0 177.9,64.3 178.4,64.7 178.9,65.4 179.4,66.0 179.9,67.5 180.4,69.9 180.9,71.2 181.4,70.3 181.9,69.9 182.4,71.0 182.9,71.6 183.4,70.7 183.9,70.0 184.4,70.8 184.9,72.1 185.4,71.7 185.9,69.6 186.4,68.5 186.9,68.7 187.4,69.4 187.9,69.9 188.4,70.3 188.9,71.5 189.4,72.1 189.9,72.1 190.4,70.4 190.9,67.5 191.4,67.4 191.9,69.8 192.4,71.4 192.9,73.0 193.4,73.4 193.9,70.4 194.4,66.7 194.9,65.7 195.4,67.1 195.9,70.6 196.4,74.0 196.9,73.4 197.4,71.0 197.9,70.1 198.4,71.1 198.9,71.2 199.4,68.9 199.9,66.6 200.4,65.7 200.9,66.7 201.4,68.9 201.9,70.8 202.4,72.0 202.9,72.7 203.4,74.0 203.9,75.4 204.4,75.7 204.9,74.2 205.4,70.9 205.9,68.5 206.4,68.0 206.9,67.7 207.4,68.5 207.9,70.5 208.4,71.7 208.9,73.9 209.4,76.4 209.9,75.0 210.4,72.3 210.9,73.6 211.4,75.3 211.9,73.7 212.4,72.2 212.9,72.0 213.4,72.2 213.9,73.2 214.4,74.5 214.9,74.2 215.4,70.9 215.9,68.8 216.4,71.2 216.9,74.7 217.4,75.2 217.9,74.4 218.4,74.0 218.9,73.7 219.4,73.7 219.9,73.9 220.4,75.0 220.9,76.4 221.4,77.5 221.9,78.5 222.4,79.7 222.9,79.3 223.4,77.4 223.9,76.4 224.4,76.5 224.9,76.9 225.4,76.6 225.9,75.8 226.4,75.2 226.9,75.6 227.4,77.0 227.9,77.1 228.4,75.1 228.9,73.7 229.4,74.8 229.9,75.5 230.4,74.5 230.9,74.2 231.4,75.2 231.9,76.4 232.4,77.0 232.9,75.7 233.4,73.9 233.9,73.7 234.4,73.9 234.9,73.2 235.4,71.3 235.9,70.3 236.4,72.2 236.9,74.4 237.4,75.2 237.9,75.9 238.4,75.5 238.9,74.8 239.4,75.1 239.9,76.1 240.4,77.2 240.9,75.8 241.4,73.7 241.9,74.4 242.4,76.3 242.9,75.4 243.4,73.0 243.9,72.6 244.4,74.2 244.9,76.4 245.4,78.5 245.9,78.8 246.4,77.9 246.9,77.9 247.4,76.3 247.9,74.0 248.4,72.8 248.9,73.9 249.4,76.8 249.9,78.3 250.4,78.8 250.9,78.6 251.4,77.8 251.9,77.9 252.4,78.9 252.9,78.3 253.4,77.5 253.9,77.5 254.4,76.6 254.9,74.2 255.4,72.3 255.9,73.2 256.4,75.0 256.9,75.8 257.4,76.9 257.9,78.5 258.4,78.0 258.9,75.4 259.4,73.9 259.9,75.0 260.4,75.9 260.9,75.3 261.4,75.1 261.9,75.5 262.4,76.0 262.9,77.2 263.4,77.2 263.9,76.7 264.4,77.3 264.9,78.8 265.4,80.7 265.9,80.7 266.4,79.2 266.9,78.9 267.4,79.0 267.9,79.6 268.4,80.8 268.9,82.2 269.4,84.9 269.9,88.2 270.4,89.3 270.9,91.0 271.4,95.1 271.9,98.4 272.4,99.5 272.9,100.6 273.4,104.4 273.9,110.3 274.4,116.5 274.9,120.7 275.4,125.4 275.9,134.3 276.4,147.7 276.9,168.4 277.4,204.2 277.9,260.4 278.4,327.3 278.9,382.2 279.4,412.6 279.9,424.5 280.4,426.3 280.9,420.5 281.4,403.7 281.9,373.1 282.4,339.6 282.9,325.6 283.4,342.9 283.9,379.9 284.4,412.4 284.9,429.1 285.4,434.8 285.9,436.2 286.4,436.0 286.9,433.8 287.4,426.3 287.9,407.7 288.4,378.6 288.9,353.8 289.4,344.9 289.9,343.0 290.4,334.0 290.9,321.6 291.4,321.0 291.9,334.0 292.4,343.1 292.9,338.9 293.4,338.7 293.9,354.2 294.4,368.5 294.9,363.2 295.4,333.2 295.9,286.9 296.4,244.3 296.9,221.0 297.4,221.9 297.9,253.3 298.4,307.2 298.9,352.6 299.4,369.0 299.9,351.4 300.4,298.6 300.9,225.3 301.4,167.3 301.9,139.1 302.4,127.9 302.9,122.4 303.4,117.6 303.9,110.7 304.4,105.0 304.9,103.2 305.4,102.2 305.9,99.7 306.4,96.6 306.9,94.3 307.4,93.9 307.9,94.8 308.4,94.0 308.9,92.2 309.4,91.2 309.9,90.0 310.4,87.7 310.9,84.8 311.4,83.8 311.9,86.5 312.4,88.9 312.9,87.6 313.4,85.1 313.9,83.7 314.4,83.8 314.9,84.0 315.4,84.0 315.9,84.6 316.4,85.6 316.9,86.3 317.4,85.8 317.9,85.3 318.4,88.0 318.9,94.7 319.4,98.9 319.9,95.7 320.4,89.9 320.9,85.0 321.4,82.7 321.9,82.7 322.4,82.9 322.9,84.2 323.4,85.4 323.9,85.6 324.4,86.5 324.9,87.6 325.4,88.1 325.9,87.1 326.4,84.8 326.9,84.0 327.4,84.4 327.9,83.3 328.4,82.4 328.9,82.7 329.4,82.8 329.9,80.6 330.4,76.7 330.9,76.9 331.4,80.4 331.9,81.4 332.4,80.6 332.9,80.2 333.4,80.6 333.9,80.2 334.4,79.7 334.9,81.2 335.4,81.7 335.9,79.7 336.4,77.4 336.9,76.8 337.4,76.3 337.9,76.1 338.4,78.1 338.9,79.1 339.4,77.3 339.9,75.4 340.4,75.0 340.9,74.9 341.4,76.2 341.9,78.3 342.4,78.8 342.9,76.3 343.4,73.8 343.9,72.9 344.4,72.3 344.9,72.4 345.4,73.7 345.9,75.0 346.4,76.5 346.9,78.0 347.4,77.7 347.9,76.5 348.4,75.2 348.9,74.5 349.4,74.9 349.9,73.8 350.4,70.9 350.9,68.4 351.4,68.7 351.9,70.7 352.4,71.0 352.9,70.7 353.4,71.5 353.9,72.7 354.4,74.5 354.9,74.4 355.4,72.7 355.9,70.7 356.4,69.4 356.9,69.3 357.4,69.3 357.9,70.0 358.4,71.3 358.9,70.8 359.4,69.9 359.9,71.1 360.4,72.3 360.9,70.9 361.4,69.6 361.9,70.2 362.4,70.9 362.9,71.3 363.4,72.0 363.9,72.0 364.4,71.0 364.9,70.7 365.4,72.9 365.9,75.3 366.4,75.0 366.9,73.9 367.4,72.5 367.9,70.9 368.4,70.6 368.9,71.5 369.4,71.8 369.9,69.6 370.4,68.6 370.9,70.9 371.4,73.5 371.9,74.7 372.4,73.3 372.9,71.1 373.4,71.2 373.9,71.9 374.4,71.8 374.9,71.6 375.4,71.4 375.9,71.0 376.4,70.5 376.9,69.8 377.4,69.4 377.9,71.3 378.4,73.6 378.9,73.3 379.4,71.5 379.9,71.1 380.4,71.2 380.9,71.1 381.4,71.2 381.9,71.4 382.4,72.4 382.9,74.5 383.4,75.3 383.9,73.0 384.4,70.9 384.9,71.8 385.4,74.1 385.9,75.0 386.4,74.5 386.9,73.7 387.4,71.8 387.9,70.7 388.4,70.8 388.9,71.1 389.4,70.9 389.9,69.4 390.4,69.1 390.9,70.4 391.4,72.5 391.9,73.2 392.4,71.6 392.9,71.7 393.4,73.2 393.9,73.6 394.4,72.9 394.9,72.4 395.4,73.1 395.9,73.0 396.4,72.1 396.9,70.3 397.4,69.3 397.9,70.2 398.4,71.7 398.9,72.9 399.4,73.5 399.9,72.7 400.4,72.3 400.9,72.7 401.4,72.9 401.9,74.6 402.4,75.6 402.9,76.3 403.4,76.0 403.9,74.0 404.4,72.5 404.9,72.6 405.4,72.6 405.9,72.7 406.4,73.8 406.9,72.8 407.4,69.8 407.9,69.4 408.4,72.2 408.9,73.8 409.4,73.5 409.9,72.2 410.4,71.2 410.9,70.6 411.4,69.7 411.9,69.6 412.4,71.2 412.9,73.2 413.4,73.3 413.9,70.3 414.4,66.3 414.9,64.9 415.4,66.1 415.9,68.3 416.4,69.0 416.9,68.0 417.4,67.8 417.9,68.8 418.4,69.0 418.9,68.7 419.4,68.3 419.9,66.0 420.4,65.1 420.9,67.3 421.4,67.9 421.9,65.7 422.4,64.9 422.9,66.1 423.4,66.2 423.9,66.1 424.4,67.4 424.9,69.1 425.4,69.4 425.9,67.4 426.4,64.2 426.9,62.5 427.4,62.6 427.9,64.1 428.4,65.8 428.9,65.9 429.4,64.1 429.9,63.9 430.4,64.9 430.9,66.1 431.4,66.8 431.9,69.3 432.4,72.1 432.9,71.9 433.4,70.3 433.9,68.9 434.4,69.0 434.9,69.1 435.4,68.9 435.9,67.5 436.4,65.3 436.9,64.4 437.4,64.9 437.9,68.8 438.4,72.9 438.9,71.4 439.4,67.7 439.9,65.3 440.4,65.7 440.9,65.9 441.4,65.3 441.9,66.9 442.4,68.5 442.9,67.8 443.4,68.9 443.9,71.0 444.4,71.0 444.9,69.9 445.4,69.7 445.9,69.3 446.4,67.8 446.9,66.8 447.4,67.7 447.9,68.9 448.4,69.7 448.9,69.3 449.4,67.4 449.9,65.9 450.4,65.6 450.9,66.2 451.4,67.2 451.9,67.4 452.4,67.2 452.9,67.0 453.4,67.3 453.9,68.6 454.4,70.3 454.9,70.6 455.4,69.1 455.9,67.9 456.4,67.8 456.9,69.1 457.4,69.8 457.9,67.5 458.4,65.6 458.9,66.8 459.4,68.2 459.9,67.3 460.4,66.7 460.9,66.5 461.4,66.0 461.9,66.6 462.4,68.3 462.9,68.7 463.4,68.3 463.9,67.3 464.4,66.9 464.9,68.0 465.4,69.0 465.9,69.2 466.4,68.5 466.9,68.0 467.4,67.7 467.9,67.1 468.4,67.5 468.9,67.3 469.4,66.6 469.9,67.6 470.4,69.4 470.9,68.6 471.4,66.1 471.9,67.5 472.4,71.7 472.9,73.2 473.4,71.4 473.9,69.7 474.4,70.1 474.9,71.0 475.4,71.2 475.9,71.7 476.4,71.0 476.9,69.6 477.4,69.7 477.9,70.4 478.4,70.4 478.9,69.8 479.4,69.6 479.9,69.8 480.4,69.9 480.9,70.5 481.4,72.7 481.9,74.7 482.4,75.4 482.9,74.9 483.4,73.6 483.9,74.8 484.4,78.3 484.9,80.3 485.4,80.9 485.9,85.4 486.4,90.7 486.9,93.1 487.4,95.6 487.9,100.3 488.4,100.2 488.9,96.3 489.4,93.9 489.9,93.4 490.4,92.6 490.9,91.9 491.4,88.0 491.9,84.3 492.4,83.4 492.9,84.6 493.4,85.2 493.9,84.8 494.4,82.9 494.9,80.8 495.4,83.6 495.9,86.3 496.4,85.6 496.9,86.0 497.4,85.8 497.9,84.6 498.4,85.1 498.9,85.9 499.4,87.0 499.9,89.7 500.4,90.2 500.9,89.2 501.4,90.1 501.9,92.3 502.4,94.2 502.9,95.2 503.4,94.7 503.9,92.4 504.4,89.5 504.9,87.7 505.4,86.8 505.9,85.9 506.4,85.2 506.9,86.2 507.4,86.7 507.9,85.9 508.4,87.3 508.9,89.0 509.4,89.3 509.9,89.5 510.4,88.5 510.9,84.3 511.4,80.5 511.9,80.4 512.4,81.9 512.9,82.1 513.4,82.7 513.9,83.6 514.4,84.2 514.9,84.8 515.4,85.9 515.9,87.2 516.4,87.5 516.9,87.4 517.4,86.8 517.9,85.6 518.4,85.6 518.9,85.2 519.4,85.2 519.9,85.5 520.4,85.4 520.9,85.2 521.4,85.2 521.9,84.9 522.4,84.6 522.9,86.5 523.4,88.3 523.9,86.8 524.4,85.6 524.9,86.0 525.4,87.0 525.9,89.4 526.4,91.6 526.9,91.7 527.4,92.2 527.9,93.3 528.4,93.3 528.9,91.5 529.4,92.6 529.9,100.0 530.4,113.8 530.9,145.1 531.4,207.4 531.9,281.8 532.4,331.6 532.9,341.5 533.4,314.6 533.9,269.2 534.4,244.2 534.9,262.3 535.4,302.6 535.9,338.4 536.4,358.6 536.9,360.0 537.4,341.8 537.9,305.4 538.4,256.5 538.9,206.8 539.4,165.4 539.9,137.9 540.4,123.7 540.9,116.9 541.4,115.0 541.9,116.2 542.4,116.9 542.9,116.9 543.4,118.1 543.9,115.4 544.4,110.7 544.9,106.5 545.4,105.3 545.9,105.6 546.4,108.6 546.9,118.1 547.4,143.5 547.9,198.1 548.4,268.6 548.9,316.0 549.4,321.5 549.9,284.4 550.4,219.8 550.9,163.3 551.4,147.8 551.9,176.9 552.4,221.8 552.9,237.4 553.4,204.0 553.9,152.2 554.4,117.1 554.9,104.1 555.4,102.2 555.9,101.8 556.4,102.2 556.9,107.2 557.4,116.1 557.9,123.9 558.4,125.2 558.9,118.2 559.4,108.3 559.9,102.1 560.4,100.3 560.9,101.4 561.4,108.5 561.9,124.3 562.4,143.7 562.9,147.4 563.4,130.1 563.9,111.7 564.4,101.0 564.9,95.3 565.4,93.6 565.9,93.0 566.4,92.3 566.9,92.0 567.4,92.0 567.9,92.8 568.4,94.5 568.9,97.8 569.4,104.0 569.9,114.4 570.4,127.7 570.9,136.0 571.4,131.7 571.9,120.0 572.4,108.9 572.9,102.1 573.4,99.5 573.9,98.5 574.4,97.0 574.9,96.6 575.4,99.3 575.9,104.2 576.4,110.3 576.9,118.8 577.4,123.4 577.9,118.8 578.4,109.7 578.9,102.5 579.4,99.1 579.9,97.0 580.4,95.2 580.9,95.6 581.4,96.4 581.9,96.5 582.4,96.7 582.9,98.3 583.4,103.4 583.9,114.7 584.4,136.5 584.9,168.9 585.4,203.6 585.9,224.9 586.4,220.1 586.9,192.2 587.4,155.9 587.9,125.8 588.4,108.0 588.9,99.1 589.4,95.1 589.9,94.4 590.4,95.6 590.9,95.5 591.4,92.6 591.9,88.8 592.4,86.2 592.9,86.1 593.4,88.0 593.9,89.3 594.4,90.3 594.9,93.7 595.4,101.7 595.9,114.0 596.4,127.9 596.9,134.1 597.4,126.8 597.9,113.6 598.4,100.9 598.9,91.4 599.4,86.7 599.9,84.9 600.4,83.8 600.9,83.8 601.4,84.4 601.9,84.9 602.4,84.0 602.9,82.8 603.4,82.3 603.9,82.4 604.4,83.5 604.9,87.2 605.4,93.7 605.9,102.3 606.4,111.4 606.9,115.6 607.4,110.4 607.9,100.5 608.4,93.2 608.9,91.5 609.4,91.0 609.9,89.9 610.4,88.8 610.9,88.8 611.4,89.1 611.9,91.1 612.4,94.8 612.9,101.7 613.4,121.8 613.9,160.3 614.4,206.1 614.9,234.8 615.4,225.2 615.9,185.2 616.4,143.8 616.9,123.1 617.4,132.2 617.9,171.1 618.4,224.0 618.9,262.2 619.4,261.8 619.9,222.7 620.4,169.5 620.9,128.4 621.4,105.4 621.9,93.9 622.4,87.8 622.9,84.6 623.4,84.5 623.9,84.1 624.4,81.6 624.9,80.8 625.4,81.2 625.9,79.8 626.4,78.0 626.9,78.4 627.4,81.0 627.9,81.4 628.4,79.6 628.9,79.2 629.4,81.0 629.9,82.6 630.4,88.1 630.9,102.7 631.4,125.1 631.9,149.7 632.4,159.6 632.9,143.1 633.4,116.4 633.9,97.2 634.4,87.0 634.9,81.1 635.4,77.8 635.9,77.0 636.4,78.6 636.9,80.8 637.4,82.1 637.9,82.4 638.4,82.8 638.9,85.7 639.4,94.8 639.9,115.9 640.4,152.1 640.9,195.8 641.4,230.6 641.9,239.2 642.4,215.9 642.9,175.0 643.4,136.6 643.9,108.9 644.4,92.8 644.9,87.3 645.4,88.8 645.9,98.1 646.4,119.8 646.9,149.5 647.4,170.7 647.9,165.6 648.4,138.6 648.9,110.3 649.4,92.0 649.9,83.2 650.4,78.6 650.9,75.7 651.4,73.9 651.9,74.5 652.4,76.2 652.9,76.6 653.4,74.6 653.9,73.6 654.4,74.9 654.9,75.4 655.4,75.4 655.9,75.7 656.4,75.3 656.9,75.2 657.4,76.0 657.9,75.4 658.4,74.8 658.9,75.8 659.4,75.1 659.9,71.9 660.4,70.9 660.9,71.8 661.4,71.7 661.9,71.9 662.4,72.8 662.9,74.2 663.4,74.7 663.9,73.5 664.4,72.2 664.9,71.1 665.4,71.7 665.9,72.4 666.4,71.1 666.9,69.2 667.4,70.0 667.9,72.4 668.4,72.5 668.9,70.6 669.4,69.8 669.9,72.4 670.4,75.8 670.9,76.1 671.4,73.2 671.9,70.3 672.4,70.6 672.9,73.1 673.4,73.1 673.9,72.7" fill="none" stroke="#2a8a98" stroke-width="1.6" stroke-dasharray="6.5,3,2,3" stroke-linejoin="round"/>
<path d="M100.4,69.6 100.9,67.5 101.4,67.6 101.9,67.9 102.4,66.0 102.9,64.5 103.4,65.4 103.9,68.5 104.4,70.4 104.9,70.8 105.4,71.9 105.9,72.7 106.4,72.1 106.9,71.7 107.4,70.4 107.9,67.2 108.4,64.7 108.9,64.5 109.4,66.3 109.9,69.0 110.4,71.5 110.9,70.4 111.4,68.6 111.9,68.2 112.4,68.3 112.9,67.6 113.4,65.3 113.9,65.7 114.4,68.3 114.9,69.2 115.4,68.2 115.9,67.5 116.4,67.7 116.9,68.5 117.4,69.1 117.9,69.5 118.4,69.8 118.9,68.7 119.4,67.2 119.9,65.8 120.4,65.5 120.9,67.9 121.4,69.7 121.9,68.9 122.4,68.6 122.9,69.5 123.4,70.0 123.9,69.7 124.4,68.7 124.9,68.5 125.4,69.6 125.9,70.6 126.4,70.2 126.9,69.2 127.4,70.1 127.9,71.6 128.4,69.9 128.9,67.9 129.4,68.6 129.9,70.1 130.4,70.5 130.9,69.8 131.4,68.8 131.9,68.7 132.4,69.0 132.9,70.3 133.4,71.8 133.9,70.8 134.4,69.4 134.9,69.6 135.4,69.5 135.9,68.1 136.4,66.6 136.9,65.7 137.4,67.0 137.9,70.4 138.4,72.9 138.9,73.2 139.4,73.1 139.9,72.1 140.4,69.9 140.9,68.5 141.4,68.6 141.9,67.6 142.4,66.6 142.9,65.7 143.4,65.7 143.9,67.2 144.4,69.2 144.9,70.2 145.4,70.4 145.9,69.7 146.4,68.9 146.9,68.8 147.4,69.4 147.9,69.8 148.4,69.7 148.9,70.3 149.4,71.6 149.9,72.3 150.4,71.3 150.9,70.3 151.4,70.0 151.9,69.5 152.4,69.6 152.9,70.2 153.4,69.0 153.9,67.3 154.4,68.1 154.9,71.4 155.4,73.1 155.9,72.1 156.4,70.7 156.9,70.9 157.4,71.9 157.9,72.4 158.4,72.0 158.9,71.9 159.4,71.7 159.9,72.0 160.4,73.4 160.9,73.7 161.4,72.5 161.9,70.4 162.4,68.6 162.9,68.3 163.4,69.9 163.9,70.7 164.4,70.9 164.9,72.2 165.4,73.0 165.9,72.1 166.4,70.2 166.9,68.8 167.4,68.9 167.9,70.5 168.4,72.0 168.9,72.1 169.4,70.4 169.9,68.5 170.4,70.0 170.9,72.3 171.4,73.1 171.9,73.3 172.4,72.1 172.9,70.7 173.4,70.0 173.9,68.3 174.4,66.2 174.9,66.9 175.4,68.5 175.9,67.0 176.4,65.4 176.9,67.7 177.4,72.1 177.9,75.4 178.4,76.1 178.9,74.5 179.4,74.0 179.9,75.7 180.4,77.3 180.9,77.2 181.4,75.3 181.9,72.5 182.4,70.5 182.9,69.7 183.4,71.2 183.9,72.5 184.4,73.0 184.9,73.9 185.4,73.7 185.9,73.1 186.4,71.5 186.9,69.4 187.4,68.7 187.9,70.0 188.4,72.3 188.9,75.2 189.4,76.7 189.9,76.1 190.4,74.7 190.9,72.3 191.4,69.5 191.9,69.3 192.4,71.8 192.9,72.8 193.4,70.9 193.9,68.9 194.4,68.9 194.9,71.2 195.4,72.6 195.9,72.2 196.4,71.0 196.9,69.8 197.4,69.4 197.9,70.8 198.4,71.3 198.9,70.2 199.4,69.3 199.9,68.6 200.4,69.1 200.9,71.4 201.4,73.2 201.9,73.6 202.4,75.2 202.9,77.3 203.4,76.9 203.9,75.4 204.4,73.4 204.9,72.1 205.4,71.8 205.9,72.3 206.4,74.7 206.9,78.2 207.4,79.5 207.9,78.2 208.4,76.5 208.9,75.9 209.4,75.7 209.9,73.9 210.4,73.2 210.9,75.6 211.4,77.7 211.9,77.1 212.4,76.2 212.9,76.1 213.4,75.6 213.9,76.4 214.4,77.6 214.9,78.4 215.4,78.1 215.9,77.6 216.4,78.9 216.9,79.5 217.4,77.6 217.9,76.1 218.4,75.2 218.9,72.8 219.4,71.3 219.9,72.4 220.4,73.7 220.9,74.5 221.4,76.6 221.9,78.1 222.4,78.0 222.9,77.6 223.4,78.5 223.9,78.7 224.4,78.2 224.9,79.7 225.4,80.7 225.9,78.4 226.4,75.1 226.9,75.3 227.4,76.6 227.9,75.9 228.4,76.0 228.9,77.5 229.4,78.0 229.9,77.2 230.4,76.0 230.9,76.2 231.4,77.7 231.9,78.0 232.4,77.4 232.9,76.3 233.4,75.0 233.9,75.5 234.4,76.7 234.9,76.5 235.4,76.2 235.9,77.0 236.4,77.8 236.9,78.6 237.4,80.1 237.9,80.4 238.4,79.2 238.9,80.1 239.4,82.0 239.9,82.1 240.4,79.5 240.9,76.1 241.4,76.1 241.9,77.2 242.4,76.5 242.9,76.7 243.4,77.2 243.9,77.6 244.4,78.5 244.9,79.1 245.4,79.5 245.9,80.6 246.4,81.4 246.9,80.4 247.4,80.4 247.9,80.9 248.4,80.4 248.9,80.5 249.4,80.6 249.9,80.7 250.4,81.7 250.9,81.7 251.4,79.7 251.9,76.9 252.4,75.2 252.9,76.5 253.4,78.6 253.9,77.9 254.4,76.0 254.9,75.5 255.4,75.2 255.9,76.1 256.4,78.7 256.9,81.0 257.4,81.4 257.9,79.7 258.4,79.3 258.9,79.8 259.4,79.1 259.9,77.0 260.4,77.0 260.9,79.1 261.4,80.6 261.9,81.0 262.4,81.7 262.9,81.2 263.4,80.4 263.9,82.3 264.4,82.7 264.9,80.1 265.4,76.9 265.9,76.0 266.4,78.1 266.9,81.5 267.4,84.0 267.9,84.8 268.4,85.8 268.9,86.9 269.4,87.7 269.9,89.4 270.4,92.3 270.9,94.4 271.4,94.7 271.9,96.5 272.4,101.3 272.9,105.6 273.4,107.8 273.9,110.9 274.4,117.0 274.9,122.7 275.4,129.5 275.9,138.5 276.4,149.7 276.9,170.6 277.4,207.3 277.9,262.8 278.4,328.8 278.9,383.0 279.4,412.9 279.9,424.5 280.4,426.2 280.9,420.4 281.4,403.8 281.9,373.7 282.4,340.8 282.9,327.3 283.4,344.3 283.9,380.6 284.4,412.8 284.9,429.3 285.4,434.8 285.9,436.2 286.4,436.0 286.9,433.9 287.4,426.4 287.9,408.0 288.4,379.2 288.9,354.2 289.4,345.0 289.9,343.5 290.4,334.8 290.9,322.5 291.4,322.1 291.9,335.2 292.4,344.1 292.9,339.5 293.4,339.2 293.9,355.1 294.4,369.6 294.9,364.5 295.4,335.2 295.9,289.4 296.4,246.7 296.9,222.9 297.4,223.7 297.9,255.0 298.4,308.2 298.9,353.3 299.4,369.9 299.9,352.4 300.4,299.2 300.9,226.5 301.4,170.0 301.9,141.3 302.4,128.9 302.9,121.6 303.4,115.3 303.9,111.5 304.4,109.6 304.9,105.9 305.4,101.4 305.9,99.5 306.4,100.2 306.9,100.3 307.4,99.1 307.9,98.9 308.4,99.0 308.9,97.5 309.4,95.3 309.9,92.6 310.4,89.9 310.9,87.9 311.4,86.0 311.9,84.4 312.4,85.2 312.9,88.1 313.4,88.7 313.9,87.2 314.4,85.7 314.9,85.4 315.4,86.6 315.9,86.2 316.4,85.1 316.9,84.4 317.4,84.4 317.9,87.9 318.4,94.5 318.9,101.2 319.4,103.9 319.9,98.4 320.4,91.3 320.9,89.4 321.4,89.9 321.9,88.6 322.4,85.9 322.9,84.5 323.4,84.8 323.9,85.5 324.4,87.1 324.9,88.5 325.4,88.0 325.9,87.2 326.4,87.4 326.9,85.2 327.4,81.7 327.9,81.0 328.4,80.8 328.9,80.2 329.4,79.0 329.9,79.8 330.4,82.9 330.9,84.1 331.4,83.3 331.9,83.3 332.4,83.3 332.9,82.5 333.4,83.1 333.9,83.6 334.4,81.9 334.9,80.2 335.4,79.0 335.9,79.5 336.4,81.6 336.9,81.3 337.4,79.4 337.9,80.1 338.4,82.8 338.9,84.3 339.4,84.1 339.9,82.7 340.4,81.3 340.9,81.4 341.4,80.5 341.9,79.1 342.4,78.1 342.9,77.4 343.4,77.5 343.9,80.3 344.4,82.0 344.9,79.1 345.4,76.7 345.9,77.6 346.4,78.6 346.9,77.3 347.4,75.5 347.9,74.6 348.4,75.4 348.9,77.3 349.4,78.4 349.9,78.1 350.4,76.3 350.9,74.5 351.4,74.6 351.9,76.3 352.4,77.5 352.9,77.6 353.4,78.4 353.9,78.4 354.4,75.0 354.9,71.9 355.4,72.7 355.9,75.5 356.4,75.1 356.9,71.5 357.4,69.5 357.9,71.4 358.4,73.1 358.9,74.6 359.4,76.4 359.9,75.5 360.4,75.3 360.9,76.3 361.4,75.9 361.9,74.1 362.4,72.1 362.9,70.6 363.4,71.5 363.9,73.8 364.4,75.3 364.9,75.1 365.4,74.6 365.9,74.5 366.4,75.2 366.9,74.7 367.4,72.7 367.9,71.6 368.4,72.4 368.9,73.8 369.4,74.1 369.9,74.7 370.4,76.1 370.9,77.1 371.4,76.6 371.9,74.8 372.4,72.5 372.9,72.4 373.4,73.4 373.9,71.5 374.4,70.2 374.9,72.5 375.4,74.9 375.9,77.2 376.4,79.2 376.9,78.3 377.4,76.1 377.9,74.7 378.4,74.7 378.9,75.2 379.4,76.0 379.9,78.2 380.4,79.9 380.9,78.0 381.4,73.4 381.9,70.5 382.4,72.9 382.9,76.5 383.4,77.3 383.9,76.5 384.4,76.3 384.9,75.9 385.4,73.8 385.9,72.9 386.4,74.4 386.9,75.3 387.4,74.2 387.9,72.9 388.4,73.4 388.9,75.6 389.4,77.9 389.9,78.4 390.4,76.6 390.9,74.7 391.4,73.3 391.9,73.4 392.4,74.7 392.9,75.6 393.4,74.9 393.9,73.7 394.4,73.8 394.9,74.7 395.4,74.3 395.9,74.6 396.4,76.4 396.9,77.2 397.4,77.1 397.9,76.8 398.4,77.1 398.9,77.5 399.4,75.6 399.9,74.5 400.4,76.4 400.9,78.1 401.4,78.8 401.9,78.6 402.4,76.8 402.9,74.4 403.4,74.9 403.9,77.7 404.4,80.1 404.9,80.5 405.4,79.0 405.9,78.3 406.4,78.4 406.9,78.1 407.4,76.9 407.9,76.4 408.4,77.3 408.9,78.2 409.4,76.2 409.9,72.9 410.4,73.2 410.9,76.7 411.4,79.3 411.9,79.9 412.4,78.3 412.9,76.5 413.4,75.8 413.9,73.4 414.4,68.1 414.9,65.0 415.4,64.9 415.9,67.6 416.4,68.7 416.9,66.6 417.4,66.2 417.9,67.4 418.4,68.5 418.9,69.1 419.4,70.0 419.9,70.4 420.4,70.5 420.9,70.6 421.4,70.6 421.9,69.2 422.4,67.0 422.9,65.4 423.4,66.2 423.9,67.8 424.4,67.5 424.9,66.7 425.4,67.0 425.9,66.4 426.4,66.6 426.9,69.6 427.4,72.5 427.9,72.7 428.4,70.9 428.9,68.6 429.4,66.9 429.9,66.6 430.4,67.5 430.9,67.9 431.4,67.2 431.9,68.3 432.4,70.5 432.9,71.4 433.4,72.2 433.9,72.7 434.4,71.3 434.9,69.8 435.4,69.3 435.9,68.9 436.4,69.1 436.9,69.9 437.4,71.9 437.9,72.7 438.4,71.7 438.9,70.0 439.4,70.3 439.9,72.5 440.4,73.6 440.9,74.2 441.4,74.1 441.9,70.8 442.4,68.1 442.9,67.6 443.4,67.3 443.9,68.5 444.4,71.0 444.9,72.9 445.4,72.5 445.9,70.2 446.4,69.4 446.9,71.1 447.4,71.4 447.9,69.5 448.4,69.8 448.9,71.0 449.4,70.8 449.9,72.3 450.4,73.7 450.9,73.7 451.4,72.9 451.9,71.1 452.4,70.6 452.9,70.7 453.4,70.9 453.9,72.1 454.4,72.6 454.9,73.1 455.4,72.6 455.9,71.7 456.4,72.0 456.9,73.0 457.4,72.9 457.9,71.1 458.4,69.1 458.9,68.7 459.4,69.6 459.9,69.7 460.4,70.5 460.9,73.1 461.4,74.8 461.9,72.3 462.4,69.3 462.9,69.7 463.4,70.8 463.9,70.7 464.4,70.4 464.9,70.3 465.4,70.0 465.9,70.0 466.4,70.8 466.9,71.1 467.4,70.9 467.9,71.5 468.4,71.0 468.9,70.7 469.4,70.5 469.9,68.7 470.4,68.0 470.9,69.7 471.4,71.3 471.9,70.9 472.4,70.2 472.9,71.2 473.4,72.4 473.9,73.1 474.4,73.2 474.9,71.9 475.4,69.9 475.9,70.2 476.4,72.0 476.9,71.9 477.4,70.6 477.9,69.9 478.4,71.3 478.9,74.4 479.4,75.1 479.9,72.4 480.4,70.4 480.9,71.7 481.4,72.3 481.9,70.9 482.4,70.6 482.9,72.4 483.4,74.8 483.9,78.7 484.4,82.1 484.9,81.9 485.4,81.1 485.9,84.9 486.4,90.9 486.9,97.7 487.4,102.6 487.9,105.6 488.4,108.4 488.9,106.7 489.4,103.1 489.9,102.0 490.4,102.1 490.9,101.0 491.4,92.0 491.9,83.3 492.4,79.4 492.9,78.7 493.4,79.5 493.9,81.6 494.4,83.6 494.9,85.4 495.4,87.0 495.9,87.4 496.4,86.5 496.9,84.7 497.4,83.8 497.9,85.1 498.4,87.3 498.9,87.6 499.4,86.1 499.9,86.1 500.4,89.3 500.9,92.6 501.4,93.1 501.9,90.7 502.4,88.3 502.9,87.2 503.4,85.9 503.9,86.7 504.4,89.9 504.9,90.9 505.4,91.1 505.9,92.3 506.4,92.9 506.9,91.1 507.4,88.4 507.9,87.1 508.4,87.1 508.9,86.8 509.4,86.8 509.9,87.1 510.4,88.0 510.9,89.1 511.4,88.7 511.9,87.4 512.4,85.8 512.9,84.5 513.4,84.6 513.9,87.0 514.4,88.4 514.9,88.3 515.4,88.8 515.9,89.2 516.4,90.9 516.9,93.0 517.4,92.6 517.9,91.8 518.4,91.5 518.9,90.0 519.4,88.0 519.9,87.6 520.4,88.1 520.9,88.5 521.4,88.9 521.9,89.3 522.4,89.0 522.9,87.5 523.4,86.0 523.9,85.7 524.4,87.7 524.9,91.0 525.4,93.7 525.9,95.7 526.4,96.8 526.9,96.3 527.4,95.6 527.9,95.9 528.4,97.9 528.9,101.3 529.4,104.0 529.9,107.8 530.4,120.0 530.9,152.3 531.4,212.3 531.9,283.7 532.4,332.5 532.9,342.9 533.4,317.2 533.9,273.3 534.4,249.3 534.9,265.9 535.4,305.2 535.9,340.2 536.4,359.7 536.9,361.3 537.4,344.5 537.9,309.7 538.4,261.1 538.9,211.5 539.4,171.7 539.9,146.8 540.4,134.2 540.9,129.1 541.4,126.4 541.9,124.9 542.4,126.2 542.9,127.6 543.4,129.1 543.9,128.1 544.4,126.0 544.9,120.7 545.4,116.8 545.9,116.3 546.4,119.3 546.9,128.4 547.4,154.2 547.9,207.2 548.4,273.5 548.9,318.3 549.4,322.9 549.9,285.9 550.4,223.4 550.9,169.2 551.4,152.7 551.9,180.3 552.4,224.3 552.9,238.4 553.4,206.1 553.9,159.1 554.4,127.0 554.9,113.6 555.4,110.5 555.9,110.9 556.4,112.6 556.9,116.5 557.4,123.0 557.9,127.8 558.4,126.7 558.9,120.8 559.4,115.1 559.9,112.1 560.4,111.1 560.9,111.7 561.4,118.8 561.9,133.3 562.4,148.0 562.9,149.7 563.4,135.8 563.9,120.8 564.4,113.5 564.9,112.3 565.4,112.1 565.9,110.8 566.4,107.9 566.9,105.6 567.4,105.4 567.9,106.1 568.4,107.3 568.9,109.9 569.4,115.0 569.9,124.5 570.4,135.7 570.9,140.9 571.4,136.7 571.9,127.5 572.4,118.3 572.9,111.7 573.4,107.8 573.9,106.3 574.4,105.6 574.9,106.4 575.4,109.1 575.9,111.8 576.4,116.3 576.9,120.9 577.4,122.4 577.9,119.3 578.4,114.9 578.9,112.4 579.4,110.5 579.9,106.6 580.4,103.7 580.9,104.2 581.4,107.0 581.9,109.0 582.4,109.1 582.9,109.3 583.4,113.6 583.9,124.4 584.4,144.4 584.9,174.4 585.4,205.9 585.9,224.8 586.4,221.1 586.9,197.2 587.4,165.6 587.9,138.4 588.4,120.8 588.9,112.0 589.4,108.7 589.9,108.3 590.4,108.4 590.9,106.3 591.4,103.6 591.9,102.9 592.4,103.2 592.9,104.6 593.4,105.7 593.9,105.3 594.4,105.2 594.9,106.4 595.4,110.2 595.9,119.1 596.4,131.2 596.9,137.8 597.4,132.2 597.9,120.1 598.4,110.1 598.9,103.7 599.4,100.9 599.9,100.8 600.4,100.4 600.9,99.8 601.4,99.1 601.9,98.8 602.4,99.5 602.9,99.7 603.4,100.7 603.9,101.8 604.4,101.0 604.9,100.8 605.4,103.7 605.9,109.4 606.4,116.2 606.9,121.5 607.4,120.1 607.9,114.2 608.4,108.6 608.9,104.5 609.4,101.5 609.9,99.5 610.4,97.8 610.9,97.6 611.4,100.8 611.9,104.8 612.4,108.3 612.9,114.8 613.4,133.1 613.9,167.5 614.4,210.1 614.9,238.6 615.4,230.9 615.9,194.9 616.4,156.9 616.9,137.4 617.4,144.6 617.9,178.0 618.4,226.3 618.9,262.1 619.4,260.5 619.9,222.1 620.4,171.2 620.9,132.3 621.4,111.2 621.9,102.5 622.4,100.5 622.9,101.0 623.4,99.4 623.9,96.2 624.4,95.2 624.9,96.1 625.4,96.0 625.9,96.0 626.4,96.2 626.9,94.6 627.4,92.1 627.9,91.5 628.4,93.7 628.9,96.6 629.4,97.7 629.9,97.1 630.4,100.1 630.9,112.3 631.4,132.5 631.9,152.7 632.4,160.8 632.9,149.0 633.4,127.8 633.9,111.1 634.4,102.9 634.9,99.1 635.4,98.2 635.9,100.1 636.4,101.1 636.9,99.1 637.4,96.6 637.9,96.8 638.4,98.8 638.9,102.0 639.4,111.1 639.9,130.3 640.4,162.0 640.9,200.3 641.4,229.9 641.9,237.1 642.4,217.3 642.9,180.5 643.4,144.9 643.9,121.3 644.4,107.8 644.9,102.1 645.4,105.1 645.9,115.7 646.4,132.9 646.9,155.2 647.4,172.7 647.9,169.3 648.4,146.1 648.9,121.7 649.4,106.6 649.9,98.9 650.4,95.2 650.9,92.9 651.4,92.0 651.9,92.2 652.4,93.5 652.9,94.7 653.4,93.4 653.9,91.6 654.4,91.5 654.9,92.5 655.4,93.2 655.9,93.4 656.4,94.1 656.9,93.9 657.4,91.0 657.9,89.5 658.4,91.3 658.9,92.7 659.4,92.1 659.9,90.9 660.4,89.4 660.9,90.6 661.4,93.9 661.9,93.9 662.4,91.1 662.9,90.3 663.4,90.2 663.9,88.2 664.4,88.1 664.9,90.4 665.4,91.0 665.9,91.7 666.4,92.9 666.9,93.0 667.4,93.6 667.9,94.4 668.4,93.7 668.9,93.1 669.4,92.4 669.9,92.0 670.4,93.7 670.9,94.5 671.4,93.0 671.9,92.7 672.4,91.8 672.9,90.4 673.4,92.3 673.9,94.8" fill="none" stroke="#cc30b8" stroke-width="1.6" stroke-dasharray="5,2.5,2,2.5,2,2.5" stroke-linejoin="round"/>
<path d="M100.4,57.1 V444.8 M100.4,441.6 H674.7" fill="none" stroke="#1a1a1a" stroke-width="1.9"/>
<path d="M93.4,437.8 H100.4 M95.9,399.9 H100.4 M93.4,362.1 H100.4 M95.9,324.2 H100.4 M93.4,286.3 H100.4 M95.9,248.5 H100.4 M93.4,210.6 H100.4 M95.9,172.7 H100.4 M93.4,134.8 H100.4 M95.9,97.0 H100.4 M93.4,59.1 H100.4 M100.4,441.6 V448.6 M143.3,441.6 V446.1 M186.1,441.6 V448.6 M229.0,441.6 V446.1 M271.8,441.6 V448.6 M314.7,441.6 V446.1 M357.5,441.6 V448.6 M400.4,441.6 V446.1 M443.3,441.6 V448.6 M486.1,441.6 V446.1 M529.0,441.6 V448.6 M571.8,441.6 V446.1 M614.7,441.6 V448.6 M657.5,441.6 V446.1" fill="none" stroke="#1a1a1a" stroke-width="1.8"/>
<text x="88.9" y="444.261" font-size="18.2" text-anchor="end" font-weight="normal" fill="#222" >0.0</text>
<text x="88.9" y="368.521" font-size="18.2" text-anchor="end" font-weight="normal" fill="#222" >0.2</text>
<text x="88.9" y="292.78100000000006" font-size="18.2" text-anchor="end" font-weight="normal" fill="#222" >0.4</text>
<text x="88.9" y="217.04100000000003" font-size="18.2" text-anchor="end" font-weight="normal" fill="#222" >0.6</text>
<text x="88.9" y="141.30100000000004" font-size="18.2" text-anchor="end" font-weight="normal" fill="#222" >0.8</text>
<text x="88.9" y="65.56100000000002" font-size="18.2" text-anchor="end" font-weight="normal" fill="#222" >1.0</text>
<text x="100.4" y="468.3" font-size="18.2" text-anchor="middle" font-weight="normal" fill="#222" >4000</text>
<text x="186.115" y="468.3" font-size="18.2" text-anchor="middle" font-weight="normal" fill="#222" >3500</text>
<text x="271.83000000000004" y="468.3" font-size="18.2" text-anchor="middle" font-weight="normal" fill="#222" >3000</text>
<text x="357.54499999999996" y="468.3" font-size="18.2" text-anchor="middle" font-weight="normal" fill="#222" >2500</text>
<text x="443.26" y="468.3" font-size="18.2" text-anchor="middle" font-weight="normal" fill="#222" >2000</text>
<text x="528.975" y="468.3" font-size="18.2" text-anchor="middle" font-weight="normal" fill="#222" >1500</text>
<text x="614.6899999999999" y="468.3" font-size="18.2" text-anchor="middle" font-weight="normal" fill="#222" >1000</text>
<path d="M808.0,71.5 808.5,71.5 809.0,71.6 809.5,71.4 810.0,70.9 810.5,70.3 811.0,69.9 811.5,69.7 812.0,69.7 812.5,70.3 813.0,71.2 813.5,71.8 814.0,72.0 814.5,72.1 815.0,72.2 815.5,72.1 816.0,71.6 816.5,70.7 817.0,70.2 817.5,70.8 818.0,72.3 818.5,73.4 819.0,72.9 819.5,71.1 820.0,69.4 820.5,68.9 821.0,69.6 821.5,70.7 822.0,71.2 822.5,71.0 823.0,70.7 823.5,70.5 824.0,70.4 824.5,70.5 825.0,71.1 825.5,71.8 826.0,71.9 826.5,71.2 827.0,70.7 827.5,71.2 828.0,72.3 828.5,72.5 829.0,71.5 829.5,70.5 830.0,70.5 830.5,71.5 831.0,73.0 831.5,74.3 832.0,74.4 832.5,73.6 833.0,72.8 833.5,72.7 834.0,72.9 834.5,73.0 835.0,72.8 835.5,72.0 836.0,71.2 836.5,70.8 837.0,70.9 837.5,71.1 838.0,71.1 838.5,71.2 839.0,71.3 839.5,71.2 840.0,71.2 840.5,71.3 841.0,71.9 841.5,72.6 842.0,72.7 842.5,72.0 843.0,71.4 843.5,71.6 844.0,72.6 844.5,73.6 845.0,74.1 845.5,73.8 846.0,72.8 846.5,71.7 847.0,70.8 847.5,70.3 848.0,70.3 848.5,70.5 849.0,70.9 849.5,71.4 850.0,71.7 850.5,71.8 851.0,71.9 851.5,72.1 852.0,72.2 852.5,72.1 853.0,71.9 853.5,71.8 854.0,71.8 854.5,72.0 855.0,72.3 855.5,72.5 856.0,72.1 856.5,71.1 857.0,70.0 857.5,69.7 858.0,69.9 858.5,69.6 859.0,68.8 859.5,68.3 860.0,68.3 860.5,68.3 861.0,68.5 861.5,69.0 862.0,69.4 862.5,69.5 863.0,69.2 863.5,69.3 864.0,70.0 864.5,70.9 865.0,71.5 865.5,71.1 866.0,70.1 866.5,69.0 867.0,68.5 867.5,68.7 868.0,69.6 868.5,70.9 869.0,71.9 869.5,72.1 870.0,71.7 870.5,71.2 871.0,71.1 871.5,71.1 872.0,71.0 872.5,70.7 873.0,70.5 873.5,70.5 874.0,70.6 874.5,71.0 875.0,71.8 875.5,72.6 876.0,72.5 876.5,71.2 877.0,69.7 877.5,68.9 878.0,69.3 878.5,70.2 879.0,71.2 879.5,71.8 880.0,72.0 880.5,72.1 881.0,72.2 881.5,71.9 882.0,71.5 882.5,71.5 883.0,71.7 883.5,71.8 884.0,71.2 884.5,70.5 885.0,70.1 885.5,70.3 886.0,70.9 886.5,71.5 887.0,72.0 887.5,72.6 888.0,73.1 888.5,73.4 889.0,73.5 889.5,73.4 890.0,73.0 890.5,72.2 891.0,71.1 891.5,70.1 892.0,69.5 892.5,69.7 893.0,70.4 893.5,71.0 894.0,71.5 894.5,72.6 895.0,73.7 895.5,74.1 896.0,74.2 896.5,74.3 897.0,74.5 897.5,74.4 898.0,74.2 898.5,74.0 899.0,73.7 899.5,73.2 900.0,72.6 900.5,72.0 901.0,72.0 901.5,72.5 902.0,72.9 902.5,72.5 903.0,71.8 903.5,71.9 904.0,72.8 904.5,73.9 905.0,75.0 905.5,76.1 906.0,77.0 906.5,76.9 907.0,76.0 907.5,75.2 908.0,74.9 908.5,75.2 909.0,75.5 909.5,76.1 910.0,77.0 910.5,77.6 911.0,77.2 911.5,76.0 912.0,75.3 912.5,75.3 913.0,75.8 913.5,76.0 914.0,75.8 914.5,75.7 915.0,76.0 915.5,76.4 916.0,76.5 916.5,76.2 917.0,75.8 917.5,75.3 918.0,75.0 918.5,75.0 919.0,75.3 919.5,75.7 920.0,76.0 920.5,76.0 921.0,75.9 921.5,75.8 922.0,75.8 922.5,75.8 923.0,75.8 923.5,75.3 924.0,74.2 924.5,73.1 925.0,72.6 925.5,72.8 926.0,73.1 926.5,72.8 927.0,72.2 927.5,71.8 928.0,72.3 928.5,73.6 929.0,74.6 929.5,74.8 930.0,74.2 930.5,73.2 931.0,72.2 931.5,71.6 932.0,71.6 932.5,71.8 933.0,72.1 933.5,72.4 934.0,72.7 934.5,73.0 935.0,73.4 935.5,73.6 936.0,73.8 936.5,73.7 937.0,73.3 937.5,72.7 938.0,72.7 938.5,73.3 939.0,74.0 939.5,74.0 940.0,73.6 940.5,73.7 941.0,74.5 941.5,75.7 942.0,76.5 942.5,76.6 943.0,76.4 943.5,76.5 944.0,77.2 944.5,78.2 945.0,78.8 945.5,78.4 946.0,77.6 946.5,77.3 947.0,77.9 947.5,78.5 948.0,78.3 948.5,77.6 949.0,77.2 949.5,77.3 950.0,77.8 950.5,78.4 951.0,79.1 951.5,80.1 952.0,80.8 952.5,80.8 953.0,80.2 953.5,80.0 954.0,80.0 954.5,79.8 955.0,79.6 955.5,79.6 956.0,80.0 956.5,80.7 957.0,80.9 957.5,80.1 958.0,78.6 958.5,77.0 959.0,76.1 959.5,75.8 960.0,75.8 960.5,76.1 961.0,76.8 961.5,78.1 962.0,79.4 962.5,80.1 963.0,80.0 963.5,79.2 964.0,78.5 964.5,78.6 965.0,79.4 965.5,80.0 966.0,79.9 966.5,79.7 967.0,79.7 967.5,79.8 968.0,80.0 968.5,80.6 969.0,81.1 969.5,81.0 970.0,80.7 970.5,80.6 971.0,80.5 971.5,80.0 972.0,79.2 972.5,78.7 973.0,78.8 973.5,79.3 974.0,79.8 974.5,80.0 975.0,80.3 975.5,81.1 976.0,82.8 976.5,84.7 977.0,86.3 977.5,87.2 978.0,87.7 978.5,88.5 979.0,89.2 979.5,89.2 980.0,89.1 980.5,90.3 981.0,92.7 981.5,95.3 982.0,98.0 982.5,101.0 983.0,104.4 983.5,107.8 984.0,111.4 984.5,116.0 985.0,122.1 985.5,130.0 986.0,138.8 986.5,149.3 987.0,164.7 987.5,191.8 988.0,237.8 988.5,299.9 989.0,358.8 989.5,396.4 990.0,413.2 990.5,418.1 991.0,415.6 991.5,404.3 992.0,380.5 992.5,347.7 993.0,324.1 993.5,327.2 994.0,355.7 994.5,390.9 995.0,414.6 995.5,424.6 996.0,427.7 996.5,428.3 997.0,427.4 997.5,423.8 998.0,412.9 998.5,390.4 999.0,361.7 999.5,341.8 1000.0,335.5 1000.5,331.9 1001.0,321.8 1001.5,312.6 1002.0,315.7 1002.5,327.3 1003.0,332.1 1003.5,328.0 1004.0,332.4 1004.5,348.8 1005.0,360.0 1005.5,351.3 1006.0,320.5 1006.5,277.7 1007.0,241.6 1007.5,223.3 1008.0,226.2 1008.5,255.4 1009.0,304.1 1009.5,345.6 1010.0,360.3 1010.5,342.9 1011.0,293.4 1011.5,228.1 1012.0,177.0 1012.5,150.4 1013.0,138.1 1013.5,130.9 1014.0,125.7 1014.5,122.0 1015.0,119.3 1015.5,116.7 1016.0,114.6 1016.5,113.6 1017.0,112.7 1017.5,110.7 1018.0,108.1 1018.5,104.9 1019.0,101.7 1019.5,98.6 1020.0,96.0 1020.5,93.8 1021.0,91.7 1021.5,90.6 1022.0,90.1 1022.5,89.8 1023.0,89.9 1023.5,90.3 1024.0,90.6 1024.5,90.2 1025.0,89.2 1025.5,88.5 1026.0,88.4 1026.5,88.3 1027.0,88.3 1027.5,88.5 1028.0,89.2 1028.5,90.9 1029.0,94.8 1029.5,100.9 1030.0,104.5 1030.5,100.9 1031.0,94.1 1031.5,89.1 1032.0,86.7 1032.5,85.7 1033.0,85.4 1033.5,85.6 1034.0,86.2 1034.5,86.8 1035.0,87.5 1035.5,87.8 1036.0,88.0 1036.5,88.0 1037.0,87.6 1037.5,86.4 1038.0,84.7 1038.5,83.2 1039.0,82.4 1039.5,82.5 1040.0,83.1 1040.5,83.8 1041.0,84.0 1041.5,83.7 1042.0,83.3 1042.5,83.0 1043.0,82.6 1043.5,82.2 1044.0,81.8 1044.5,81.8 1045.0,82.2 1045.5,82.5 1046.0,82.1 1046.5,81.5 1047.0,81.5 1047.5,82.2 1048.0,82.7 1048.5,82.6 1049.0,82.2 1049.5,81.5 1050.0,80.9 1050.5,80.9 1051.0,81.7 1051.5,82.6 1052.0,82.5 1052.5,81.1 1053.0,79.6 1053.5,78.8 1054.0,78.6 1054.5,78.7 1055.0,79.0 1055.5,79.5 1056.0,80.0 1056.5,80.1 1057.0,79.5 1057.5,78.6 1058.0,77.6 1058.5,76.7 1059.0,76.5 1059.5,76.6 1060.0,76.7 1060.5,76.7 1061.0,76.9 1061.5,77.1 1062.0,77.1 1062.5,76.9 1063.0,77.0 1063.5,77.3 1064.0,77.2 1064.5,76.7 1065.0,75.7 1065.5,74.4 1066.0,73.3 1066.5,73.4 1067.0,74.6 1067.5,75.7 1068.0,76.4 1068.5,76.6 1069.0,76.2 1069.5,75.7 1070.0,75.4 1070.5,75.3 1071.0,75.3 1071.5,75.4 1072.0,75.7 1072.5,76.1 1073.0,76.2 1073.5,75.6 1074.0,75.0 1074.5,75.0 1075.0,75.5 1075.5,75.9 1076.0,76.1 1076.5,76.2 1077.0,76.2 1077.5,76.3 1078.0,76.4 1078.5,76.2 1079.0,75.9 1079.5,75.7 1080.0,75.7 1080.5,75.5 1081.0,75.1 1081.5,74.7 1082.0,74.5 1082.5,74.8 1083.0,75.4 1083.5,76.0 1084.0,76.5 1084.5,76.7 1085.0,76.5 1085.5,76.2 1086.0,75.9 1086.5,75.5 1087.0,74.6 1087.5,73.5 1088.0,73.1 1088.5,73.8 1089.0,75.2 1089.5,76.6 1090.0,77.6 1090.5,78.2 1091.0,78.5 1091.5,78.1 1092.0,77.4 1092.5,77.1 1093.0,77.2 1093.5,77.7 1094.0,78.5 1094.5,79.5 1095.0,80.6 1095.5,81.6 1096.0,82.5 1096.5,82.8 1097.0,82.5 1097.5,81.9 1098.0,81.8 1098.5,82.5 1099.0,83.7 1099.5,84.8 1100.0,84.7 1100.5,84.0 1101.0,83.2 1101.5,83.3 1102.0,84.2 1102.5,85.1 1103.0,85.3 1103.5,85.0 1104.0,84.5 1104.5,83.9 1105.0,83.3 1105.5,82.5 1106.0,81.6 1106.5,80.8 1107.0,80.7 1107.5,81.3 1108.0,81.9 1108.5,81.4 1109.0,80.0 1109.5,78.6 1110.0,78.2 1110.5,78.8 1111.0,79.6 1111.5,79.7 1112.0,79.3 1112.5,79.0 1113.0,79.2 1113.5,79.5 1114.0,79.7 1114.5,79.4 1115.0,79.0 1115.5,78.4 1116.0,77.8 1116.5,77.2 1117.0,76.8 1117.5,76.8 1118.0,77.2 1118.5,77.7 1119.0,78.4 1119.5,78.8 1120.0,78.3 1120.5,77.3 1121.0,76.6 1121.5,76.8 1122.0,77.4 1122.5,78.0 1123.0,78.4 1123.5,78.5 1124.0,78.5 1124.5,78.2 1125.0,77.8 1125.5,77.4 1126.0,73.1 1126.5,67.8 1127.0,62.8 1127.5,61.9 1128.0,62.8 1128.5,63.8 1129.0,64.5 1129.5,65.0 1130.0,65.8 1130.5,66.7 1131.0,67.3 1131.5,67.8 1132.0,68.0 1132.5,67.4 1133.0,66.3 1133.5,65.0 1134.0,64.0 1134.5,63.5 1135.0,64.0 1135.5,65.0 1136.0,65.5 1136.5,65.1 1137.0,64.3 1137.5,64.1 1138.0,64.3 1138.5,64.7 1139.0,65.0 1139.5,65.4 1140.0,65.6 1140.5,65.6 1141.0,65.3 1141.5,64.9 1142.0,64.7 1142.5,64.6 1143.0,64.4 1143.5,63.9 1144.0,63.3 1144.5,62.8 1145.0,62.9 1145.5,63.9 1146.0,65.6 1146.5,67.1 1147.0,68.0 1147.5,67.8 1148.0,66.8 1148.5,65.7 1149.0,65.2 1149.5,65.5 1150.0,66.1 1150.5,66.6 1151.0,66.4 1151.5,65.5 1152.0,64.2 1152.5,63.1 1153.0,62.9 1153.5,63.6 1154.0,64.9 1154.5,65.9 1155.0,66.2 1155.5,65.9 1156.0,65.8 1156.5,66.3 1157.0,67.0 1157.5,67.5 1158.0,67.5 1158.5,67.4 1159.0,67.0 1159.5,66.4 1160.0,66.0 1160.5,66.3 1161.0,67.0 1161.5,67.5 1162.0,67.4 1162.5,67.1 1163.0,67.1 1163.5,67.8 1164.0,68.6 1164.5,69.0 1165.0,68.9 1165.5,68.9 1166.0,69.1 1166.5,69.2 1167.0,68.8 1167.5,68.5 1168.0,68.4 1168.5,68.6 1169.0,69.0 1169.5,69.5 1170.0,69.7 1170.5,69.8 1171.0,70.3 1171.5,71.5 1172.0,72.8 1172.5,73.7 1173.0,73.5 1173.5,72.4 1174.0,71.2 1174.5,70.6 1175.0,70.7 1175.5,71.1 1176.0,71.5 1176.5,71.8 1177.0,71.8 1177.5,71.3 1178.0,70.3 1178.5,69.4 1179.0,69.2 1179.5,70.1 1180.0,71.7 1180.5,73.0 1181.0,73.1 1181.5,72.6 1182.0,72.2 1182.5,71.8 1183.0,71.5 1183.5,71.2 1184.0,71.2 1184.5,71.1 1185.0,70.7 1185.5,70.2 1186.0,69.9 1186.5,70.0 1187.0,70.3 1187.5,71.0 1188.0,71.8 1188.5,72.2 1189.0,72.0 1189.5,71.6 1190.0,71.3 1190.5,70.9 1191.0,70.4 1191.5,70.1 1192.0,70.9 1192.5,71.9 1193.0,72.2 1193.5,71.7 1194.0,71.0 1194.5,70.5 1195.0,70.8 1195.5,71.7 1196.0,73.2 1196.5,75.0 1197.0,76.0 1197.5,75.9 1198.0,75.4 1198.5,75.3 1199.0,75.1 1199.5,74.8 1200.0,76.1 1200.5,78.0 1201.0,78.4 1201.5,77.4 1202.0,76.3 1202.5,77.6 1203.0,79.5 1203.5,78.8 1204.0,77.4 1204.5,75.3 1205.0,73.2 1205.5,73.2 1206.0,74.6 1206.5,75.6 1207.0,76.4 1207.5,76.8 1208.0,76.4 1208.5,76.2 1209.0,76.4 1209.5,76.8 1210.0,76.7 1210.5,76.6 1211.0,76.2 1211.5,76.4 1212.0,76.7 1212.5,77.1 1213.0,77.4 1213.5,77.4 1214.0,77.9 1214.5,77.9 1215.0,77.7 1215.5,77.4 1216.0,77.3 1216.5,77.3 1217.0,77.4 1217.5,77.0 1218.0,76.7 1218.5,77.0 1219.0,77.8 1219.5,78.3 1220.0,78.2 1220.5,77.7 1221.0,77.4 1221.5,77.6 1222.0,78.1 1222.5,78.8 1223.0,79.2 1223.5,78.9 1224.0,78.3 1224.5,77.6 1225.0,76.4 1225.5,75.1 1226.0,74.5 1226.5,74.9 1227.0,75.5 1227.5,75.7 1228.0,75.6 1228.5,75.5 1229.0,75.5 1229.5,75.4 1230.0,75.8 1230.5,76.6 1231.0,77.5 1231.5,78.0 1232.0,78.3 1232.5,78.4 1233.0,78.3 1233.5,78.3 1234.0,78.4 1234.5,78.7 1235.0,78.9 1235.5,79.0 1236.0,78.8 1236.5,78.3 1237.0,77.7 1237.5,77.2 1238.0,76.9 1238.5,76.9 1239.0,77.3 1239.5,78.0 1240.0,79.2 1240.5,80.6 1241.0,81.9 1241.5,83.1 1242.0,84.1 1242.5,85.3 1243.0,87.7 1243.5,92.0 1244.0,98.4 1244.5,111.5 1245.0,144.2 1245.5,205.4 1246.0,276.1 1246.5,322.6 1247.0,331.3 1247.5,304.9 1248.0,261.0 1248.5,236.7 1249.0,253.2 1249.5,292.1 1250.0,327.8 1250.5,348.6 1251.0,351.6 1251.5,336.3 1252.0,303.8 1252.5,258.3 1253.0,209.8 1253.5,168.5 1254.0,140.5 1254.5,125.5 1255.0,119.3 1255.5,117.3 1256.0,117.2 1256.5,118.1 1257.0,119.6 1257.5,121.1 1258.0,119.0 1258.5,116.1 1259.0,113.6 1259.5,111.6 1260.0,110.5 1260.5,110.9 1261.0,114.9 1261.5,130.2 1262.0,169.8 1262.5,233.0 1263.0,289.8 1263.5,313.6 1264.0,296.2 1264.5,245.5 1265.0,190.4 1265.5,171.6 1266.0,196.7 1266.5,226.0 1267.0,216.6 1267.5,173.8 1268.0,132.2 1268.5,110.1 1269.0,102.5 1269.5,100.5 1270.0,100.2 1270.5,100.7 1271.0,102.6 1271.5,106.2 1272.0,110.4 1272.5,112.5 1273.0,110.0 1273.5,105.2 1274.0,101.3 1274.5,99.2 1275.0,98.2 1275.5,98.8 1276.0,103.2 1276.5,113.2 1277.0,124.7 1277.5,126.9 1278.0,118.3 1278.5,108.6 1279.0,102.5 1279.5,99.5 1280.0,98.1 1280.5,97.3 1281.0,96.8 1281.5,96.6 1282.0,96.7 1282.5,96.9 1283.0,98.6 1283.5,104.3 1284.0,114.4 1284.5,125.1 1285.0,129.2 1285.5,123.6 1286.0,113.7 1286.5,105.4 1287.0,100.5 1287.5,98.3 1288.0,97.4 1288.5,96.8 1289.0,96.2 1289.5,95.6 1290.0,95.5 1290.5,96.6 1291.0,98.9 1291.5,102.0 1292.0,103.9 1292.5,103.1 1293.0,101.0 1293.5,99.4 1294.0,98.7 1294.5,98.5 1295.0,99.1 1295.5,100.2 1296.0,101.1 1296.5,101.6 1297.0,102.1 1297.5,103.4 1298.0,107.1 1298.5,116.4 1299.0,135.0 1299.5,163.6 1300.0,195.9 1300.5,218.9 1301.0,219.5 1301.5,197.4 1302.0,165.0 1302.5,135.6 1303.0,116.2 1303.5,106.6 1304.0,102.3 1304.5,99.9 1305.0,97.9 1305.5,96.7 1306.0,96.2 1306.5,96.2 1307.0,96.4 1307.5,96.6 1308.0,96.1 1308.5,95.4 1309.0,95.3 1309.5,96.0 1310.0,97.8 1310.5,101.5 1311.0,107.6 1311.5,114.1 1312.0,115.8 1312.5,110.7 1313.0,103.2 1313.5,97.3 1314.0,93.8 1314.5,91.8 1315.0,91.0 1315.5,91.1 1316.0,91.4 1316.5,91.5 1317.0,91.6 1317.5,92.2 1318.0,92.8 1318.5,92.8 1319.0,92.3 1319.5,91.4 1320.0,90.6 1320.5,90.6 1321.0,92.1 1321.5,94.8 1322.0,97.2 1322.5,97.4 1323.0,95.5 1323.5,93.2 1324.0,91.5 1324.5,90.8 1325.0,91.2 1325.5,92.2 1326.0,93.2 1326.5,94.4 1327.0,96.2 1327.5,100.1 1328.0,110.2 1328.5,133.7 1329.0,171.9 1329.5,211.2 1330.0,228.8 1330.5,211.8 1331.0,173.9 1331.5,138.2 1332.0,118.4 1332.5,116.5 1333.0,132.8 1333.5,168.9 1334.0,214.5 1334.5,245.8 1335.0,241.7 1335.5,205.1 1336.0,159.0 1336.5,124.1 1337.0,105.8 1337.5,97.5 1338.0,93.0 1338.5,90.3 1339.0,89.3 1339.5,89.3 1340.0,89.5 1340.5,89.1 1341.0,88.2 1341.5,87.6 1342.0,87.6 1342.5,87.9 1343.0,87.7 1343.5,87.2 1344.0,87.2 1344.5,88.1 1345.0,89.6 1345.5,92.7 1346.0,99.9 1346.5,113.8 1347.0,131.3 1347.5,142.1 1348.0,136.8 1348.5,120.9 1349.0,105.9 1349.5,96.8 1350.0,92.4 1350.5,90.2 1351.0,88.5 1351.5,87.3 1352.0,86.8 1352.5,87.2 1353.0,88.2 1353.5,89.6 1354.0,91.4 1354.5,93.9 1355.0,98.9 1355.5,110.3 1356.0,133.0 1356.5,166.9 1357.0,202.1 1357.5,223.3 1358.0,219.0 1358.5,192.8 1359.0,158.7 1359.5,129.6 1360.0,111.0 1360.5,102.6 1361.0,103.3 1361.5,113.8 1362.0,132.9 1362.5,152.1 1363.0,157.1 1363.5,142.6 1364.0,120.9 1364.5,103.2 1365.0,93.0 1365.5,88.0 1366.0,85.6 1366.5,84.3 1367.0,83.7 1367.5,83.4 1368.0,83.0 1368.5,82.5 1369.0,82.0 1369.5,82.2 1370.0,83.2 1370.5,84.2 1371.0,84.9 1371.5,85.4 1372.0,85.6 1372.5,85.4 1373.0,84.6 1373.5,83.8 1374.0,83.4 1374.5,83.7 1375.0,84.3 1375.5,84.6 1376.0,84.3 1376.5,83.9 1377.0,83.4 1377.5,83.0 1378.0,83.0 1378.5,83.4 1379.0,83.9 1379.5,83.8 1380.0,83.2 1380.5,82.4 1381.0,82.0 1381.5,81.9 1382.0,82.0 1382.5,82.5 1383.0,82.9 1383.5,82.5 1384.0,81.6 1384.5,81.3 1385.0,81.9 1385.5,82.6 1386.0,83.4 1386.5,84.2 1387.0,84.5 1387.5,83.8 1388.0,82.0 1388.5,79.8 1389.0,78.4 1389.5,78.5 1390.0,79.6 1390.5,81.0" fill="none" stroke="#111" stroke-width="1.75" stroke-linejoin="round"/>
<path d="M808.0,53.6 808.5,52.7 809.0,51.2 809.5,50.8 810.0,51.3 810.5,50.4 811.0,48.1 811.5,46.0 812.0,46.9 812.5,51.2 813.0,54.1 813.5,53.1 814.0,52.4 814.5,53.2 815.0,52.9 815.5,50.7 816.0,48.8 816.5,47.9 817.0,47.7 817.5,49.2 818.0,50.2 818.5,49.1 819.0,49.9 819.5,51.8 820.0,53.1 820.5,52.4 821.0,50.8 821.5,51.3 822.0,52.5 822.5,51.6 823.0,49.5 823.5,50.0 824.0,52.5 824.5,52.3 825.0,49.4 825.5,49.9 826.0,50.2 826.5,48.9 827.0,48.7 827.5,49.0 828.0,49.5 828.5,51.8 829.0,53.4 829.5,51.7 830.0,48.6 830.5,47.6 831.0,48.5 831.5,49.4 832.0,49.6 832.5,48.7 833.0,47.7 833.5,47.7 834.0,47.8 834.5,48.0 835.0,48.3 835.5,49.0 836.0,50.6 836.5,51.5 837.0,50.9 837.5,51.4 838.0,53.1 838.5,53.6 839.0,52.2 839.5,51.2 840.0,50.7 840.5,50.1 841.0,49.8 841.5,49.9 842.0,51.5 842.5,53.2 843.0,52.8 843.5,51.8 844.0,52.0 844.5,53.2 845.0,53.8 845.5,52.6 846.0,50.2 846.5,48.9 847.0,48.6 847.5,48.4 848.0,49.8 848.5,50.8 849.0,50.2 849.5,50.0 850.0,49.8 850.5,50.1 851.0,51.7 851.5,53.3 852.0,53.1 852.5,51.1 853.0,50.1 853.5,51.6 854.0,53.3 854.5,53.3 855.0,53.6 855.5,54.0 856.0,53.5 856.5,53.0 857.0,53.1 857.5,55.4 858.0,56.8 858.5,54.8 859.0,53.4 859.5,53.0 860.0,51.7 860.5,49.8 861.0,48.6 861.5,48.8 862.0,50.4 862.5,53.3 863.0,55.0 863.5,54.7 864.0,54.0 864.5,54.3 865.0,54.7 865.5,54.2 866.0,54.0 866.5,54.0 867.0,53.3 867.5,52.4 868.0,50.6 868.5,50.3 869.0,51.9 869.5,53.0 870.0,52.4 870.5,50.9 871.0,50.5 871.5,51.3 872.0,52.6 872.5,53.4 873.0,53.3 873.5,52.3 874.0,51.7 874.5,51.9 875.0,51.8 875.5,50.6 876.0,50.2 876.5,51.3 877.0,51.9 877.5,52.3 878.0,51.3 878.5,50.8 879.0,51.8 879.5,53.0 880.0,53.0 880.5,52.6 881.0,52.3 881.5,51.7 882.0,51.5 882.5,50.2 883.0,49.8 883.5,51.8 884.0,52.7 884.5,50.2 885.0,48.5 885.5,50.2 886.0,52.3 886.5,51.5 887.0,49.7 887.5,47.7 888.0,46.3 888.5,48.0 889.0,51.4 889.5,54.0 890.0,54.9 890.5,54.1 891.0,52.4 891.5,50.1 892.0,49.7 892.5,50.8 893.0,52.6 893.5,55.2 894.0,56.1 894.5,56.0 895.0,54.2 895.5,51.0 896.0,49.0 896.5,50.7 897.0,54.9 897.5,57.4 898.0,56.3 898.5,53.8 899.0,52.7 899.5,52.6 900.0,52.6 900.5,53.2 901.0,53.9 901.5,52.8 902.0,51.3 902.5,51.8 903.0,53.3 903.5,54.0 904.0,53.2 904.5,52.3 905.0,53.0 905.5,54.0 906.0,54.9 906.5,53.8 907.0,53.1 907.5,53.8 908.0,55.6 908.5,56.3 909.0,55.1 909.5,54.6 910.0,53.9 910.5,52.8 911.0,52.9 911.5,53.0 912.0,52.8 912.5,53.0 913.0,51.9 913.5,51.1 914.0,52.6 914.5,55.8 915.0,57.7 915.5,56.8 916.0,56.1 916.5,56.7 917.0,57.8 917.5,57.7 918.0,56.5 918.5,54.9 919.0,53.3 919.5,52.9 920.0,55.4 920.5,58.3 921.0,59.4 921.5,56.6 922.0,54.0 922.5,54.8 923.0,55.9 923.5,56.3 924.0,55.6 924.5,55.0 925.0,56.5 925.5,58.4 926.0,57.7 926.5,55.8 927.0,53.8 927.5,51.5 928.0,53.9 928.5,58.8 929.0,59.2 929.5,55.9 930.0,54.7 930.5,55.9 931.0,56.7 931.5,56.7 932.0,56.7 932.5,56.7 933.0,57.9 933.5,59.0 934.0,59.6 934.5,58.6 935.0,55.6 935.5,54.0 936.0,55.0 936.5,57.8 937.0,59.0 937.5,57.0 938.0,56.2 938.5,57.2 939.0,56.9 939.5,56.3 940.0,56.7 940.5,55.5 941.0,53.8 941.5,55.4 942.0,59.2 942.5,59.8 943.0,57.5 943.5,57.4 944.0,60.6 944.5,61.9 945.0,58.5 945.5,55.3 946.0,55.0 946.5,56.2 947.0,57.4 947.5,56.9 948.0,55.9 948.5,57.5 949.0,61.3 949.5,62.4 950.0,59.6 950.5,55.5 951.0,54.6 951.5,56.9 952.0,58.2 952.5,58.4 953.0,59.8 953.5,60.2 954.0,58.4 954.5,56.9 955.0,56.2 955.5,55.3 956.0,55.9 956.5,57.6 957.0,58.4 957.5,58.9 958.0,60.5 958.5,60.6 959.0,57.8 959.5,55.3 960.0,55.2 960.5,56.4 961.0,57.4 961.5,58.0 962.0,58.9 962.5,59.7 963.0,59.5 963.5,59.5 964.0,60.9 964.5,62.3 965.0,63.1 965.5,61.9 966.0,60.1 966.5,58.8 967.0,58.6 967.5,58.9 968.0,58.7 968.5,58.9 969.0,60.3 969.5,61.9 970.0,63.7 970.5,65.3 971.0,65.9 971.5,65.6 972.0,63.3 972.5,61.8 973.0,62.6 973.5,62.4 974.0,60.9 974.5,61.6 975.0,63.3 975.5,65.6 976.0,68.9 976.5,72.2 977.0,74.0 977.5,71.6 978.0,68.3 978.5,68.7 979.0,71.2 979.5,72.4 980.0,72.8 980.5,75.4 981.0,77.3 981.5,77.1 982.0,78.1 982.5,82.2 983.0,88.7 983.5,93.4 984.0,96.6 984.5,101.9 985.0,107.6 985.5,113.3 986.0,120.8 986.5,131.7 987.0,148.7 987.5,177.3 988.0,226.6 988.5,293.7 989.0,356.6 989.5,396.1 990.0,413.4 990.5,418.2 991.0,415.5 991.5,403.6 992.0,378.3 992.5,343.5 993.0,318.2 993.5,321.6 994.0,352.4 994.5,389.6 995.0,414.2 995.5,424.5 996.0,427.7 996.5,428.3 997.0,427.4 997.5,423.6 998.0,412.3 998.5,388.7 999.0,359.2 999.5,339.8 1000.0,334.8 1000.5,331.5 1001.0,319.9 1001.5,309.6 1002.0,313.7 1002.5,327.4 1003.0,332.5 1003.5,326.5 1004.0,329.9 1004.5,347.9 1005.0,360.3 1005.5,351.2 1006.0,317.7 1006.5,269.6 1007.0,228.1 1007.5,207.6 1008.0,211.6 1008.5,244.2 1009.0,297.9 1009.5,343.7 1010.0,359.8 1010.5,340.8 1011.0,286.4 1011.5,213.6 1012.0,156.2 1012.5,126.0 1013.0,111.9 1013.5,105.7 1014.0,100.9 1014.5,94.3 1015.0,89.9 1015.5,89.2 1016.0,88.4 1016.5,86.9 1017.0,85.4 1017.5,82.6 1018.0,80.1 1018.5,79.1 1019.0,79.2 1019.5,78.2 1020.0,75.7 1020.5,74.4 1021.0,77.5 1021.5,80.6 1022.0,78.6 1022.5,75.1 1023.0,74.0 1023.5,73.6 1024.0,72.5 1024.5,71.0 1025.0,71.6 1025.5,75.2 1026.0,76.2 1026.5,72.2 1027.0,69.6 1027.5,71.1 1028.0,73.0 1028.5,75.6 1029.0,79.9 1029.5,84.3 1030.0,85.6 1030.5,82.5 1031.0,78.2 1031.5,75.2 1032.0,74.6 1032.5,74.0 1033.0,74.3 1033.5,75.0 1034.0,74.0 1034.5,73.3 1035.0,74.8 1035.5,75.4 1036.0,73.5 1036.5,71.9 1037.0,71.8 1037.5,72.9 1038.0,73.4 1038.5,72.1 1039.0,70.4 1039.5,71.0 1040.0,72.4 1040.5,72.7 1041.0,71.7 1041.5,72.1 1042.0,73.3 1042.5,75.1 1043.0,77.6 1043.5,75.6 1044.0,70.5 1044.5,68.7 1045.0,70.2 1045.5,72.3 1046.0,72.4 1046.5,70.6 1047.0,68.5 1047.5,68.5 1048.0,68.5 1048.5,65.1 1049.0,63.6 1049.5,65.9 1050.0,68.5 1050.5,68.3 1051.0,68.0 1051.5,66.3 1052.0,65.2 1052.5,65.3 1053.0,65.2 1053.5,65.7 1054.0,67.0 1054.5,66.7 1055.0,65.9 1055.5,65.9 1056.0,67.5 1056.5,69.5 1057.0,70.3 1057.5,69.2 1058.0,65.9 1058.5,62.0 1059.0,61.3 1059.5,64.2 1060.0,65.1 1060.5,63.1 1061.0,61.1 1061.5,61.9 1062.0,64.2 1062.5,65.3 1063.0,65.1 1063.5,63.2 1064.0,62.1 1064.5,64.2 1065.0,65.4 1065.5,62.9 1066.0,60.3 1066.5,59.8 1067.0,60.7 1067.5,61.2 1068.0,60.7 1068.5,61.1 1069.0,62.0 1069.5,63.4 1070.0,64.5 1070.5,62.2 1071.0,59.8 1071.5,59.3 1072.0,59.0 1072.5,58.4 1073.0,58.1 1073.5,60.6 1074.0,63.6 1074.5,64.4 1075.0,63.4 1075.5,61.8 1076.0,58.6 1076.5,56.2 1077.0,57.3 1077.5,60.0 1078.0,62.7 1078.5,62.2 1079.0,59.9 1079.5,58.9 1080.0,58.7 1080.5,57.9 1081.0,58.9 1081.5,61.1 1082.0,62.2 1082.5,61.9 1083.0,61.7 1083.5,62.5 1084.0,62.1 1084.5,60.7 1085.0,60.5 1085.5,61.1 1086.0,61.7 1086.5,60.0 1087.0,56.6 1087.5,55.8 1088.0,57.6 1088.5,58.7 1089.0,58.8 1089.5,61.0 1090.0,64.1 1090.5,65.6 1091.0,64.4 1091.5,60.5 1092.0,56.6 1092.5,55.5 1093.0,57.5 1093.5,59.7 1094.0,60.7 1094.5,60.6 1095.0,60.6 1095.5,59.0 1096.0,57.5 1096.5,58.1 1097.0,58.3 1097.5,57.2 1098.0,56.4 1098.5,55.6 1099.0,56.6 1099.5,59.2 1100.0,60.5 1100.5,62.5 1101.0,64.2 1101.5,62.4 1102.0,59.8 1102.5,58.7 1103.0,58.4 1103.5,59.0 1104.0,59.7 1104.5,57.8 1105.0,55.7 1105.5,57.3 1106.0,59.3 1106.5,58.4 1107.0,58.6 1107.5,59.8 1108.0,60.6 1108.5,61.6 1109.0,62.5 1109.5,62.2 1110.0,61.4 1110.5,61.2 1111.0,61.9 1111.5,64.2 1112.0,64.0 1112.5,60.0 1113.0,56.5 1113.5,54.8 1114.0,56.0 1114.5,58.9 1115.0,60.6 1115.5,59.7 1116.0,58.3 1116.5,58.9 1117.0,59.2 1117.5,59.1 1118.0,59.2 1118.5,58.2 1119.0,57.9 1119.5,59.3 1120.0,61.0 1120.5,60.8 1121.0,60.5 1121.5,61.0 1122.0,61.4 1122.5,61.2 1123.0,60.2 1123.5,58.5 1124.0,57.9 1124.5,58.1 1125.0,56.9 1125.5,56.0 1126.0,55.0 1126.5,54.8 1127.0,54.7 1127.5,54.7 1128.0,53.4 1128.5,53.7 1129.0,54.9 1129.5,52.3 1130.0,50.2 1130.5,52.2 1131.0,53.7 1131.5,53.0 1132.0,52.3 1132.5,52.0 1133.0,52.2 1133.5,53.7 1134.0,54.6 1134.5,53.9 1135.0,52.8 1135.5,53.1 1136.0,54.0 1136.5,54.3 1137.0,54.4 1137.5,54.0 1138.0,52.6 1138.5,49.1 1139.0,46.2 1139.5,47.5 1140.0,50.5 1140.5,51.4 1141.0,50.9 1141.5,50.8 1142.0,49.5 1142.5,48.4 1143.0,49.6 1143.5,49.0 1144.0,46.9 1144.5,46.4 1145.0,49.5 1145.5,52.9 1146.0,54.8 1146.5,55.1 1147.0,55.1 1147.5,55.4 1148.0,54.0 1148.5,52.1 1149.0,52.3 1149.5,51.9 1150.0,52.0 1150.5,53.1 1151.0,54.4 1151.5,55.5 1152.0,55.5 1152.5,54.7 1153.0,51.9 1153.5,50.1 1154.0,50.7 1154.5,51.7 1155.0,51.7 1155.5,50.7 1156.0,49.9 1156.5,49.5 1157.0,50.0 1157.5,51.0 1158.0,51.0 1158.5,50.1 1159.0,49.6 1159.5,49.6 1160.0,49.8 1160.5,51.2 1161.0,53.2 1161.5,55.3 1162.0,55.5 1162.5,52.5 1163.0,49.8 1163.5,47.3 1164.0,46.2 1164.5,49.3 1165.0,54.3 1165.5,57.2 1166.0,55.8 1166.5,54.2 1167.0,55.0 1167.5,56.1 1168.0,56.9 1168.5,56.6 1169.0,54.2 1169.5,52.6 1170.0,53.1 1170.5,54.0 1171.0,54.1 1171.5,54.7 1172.0,56.1 1172.5,56.2 1173.0,54.1 1173.5,52.8 1174.0,52.1 1174.5,52.4 1175.0,54.3 1175.5,54.5 1176.0,54.1 1176.5,54.5 1177.0,53.0 1177.5,51.3 1178.0,52.6 1178.5,55.3 1179.0,57.0 1179.5,56.0 1180.0,52.3 1180.5,49.7 1181.0,51.7 1181.5,54.6 1182.0,54.9 1182.5,53.8 1183.0,53.6 1183.5,53.3 1184.0,53.1 1184.5,54.6 1185.0,56.1 1185.5,56.2 1186.0,55.6 1186.5,55.1 1187.0,53.9 1187.5,53.4 1188.0,53.6 1188.5,54.1 1189.0,56.7 1189.5,57.7 1190.0,56.4 1190.5,53.5 1191.0,49.6 1191.5,47.6 1192.0,48.6 1192.5,51.9 1193.0,54.0 1193.5,53.0 1194.0,52.8 1194.5,54.6 1195.0,56.7 1195.5,59.0 1196.0,59.6 1196.5,59.4 1197.0,57.8 1197.5,55.9 1198.0,56.0 1198.5,59.4 1199.0,64.5 1199.5,69.1 1200.0,70.8 1200.5,69.7 1201.0,67.9 1201.5,67.8 1202.0,65.9 1202.5,63.5 1203.0,61.6 1203.5,59.2 1204.0,57.0 1204.5,60.1 1205.0,64.6 1205.5,67.1 1206.0,68.8 1206.5,72.3 1207.0,70.1 1207.5,65.7 1208.0,62.3 1208.5,61.3 1209.0,63.1 1209.5,63.3 1210.0,61.4 1210.5,60.1 1211.0,60.0 1211.5,60.0 1212.0,60.2 1212.5,61.7 1213.0,63.5 1213.5,65.3 1214.0,66.4 1214.5,65.4 1215.0,64.0 1215.5,64.2 1216.0,64.4 1216.5,64.6 1217.0,64.6 1217.5,64.1 1218.0,63.2 1218.5,63.4 1219.0,64.0 1219.5,63.0 1220.0,61.9 1220.5,61.5 1221.0,59.9 1221.5,58.3 1222.0,58.7 1222.5,59.8 1223.0,59.6 1223.5,59.6 1224.0,58.5 1224.5,56.8 1225.0,56.1 1225.5,57.1 1226.0,58.6 1226.5,61.4 1227.0,64.7 1227.5,64.6 1228.0,61.3 1228.5,59.5 1229.0,59.3 1229.5,59.3 1230.0,60.2 1230.5,62.3 1231.0,62.1 1231.5,60.0 1232.0,59.4 1232.5,59.4 1233.0,58.9 1233.5,58.5 1234.0,58.4 1234.5,58.7 1235.0,60.0 1235.5,61.0 1236.0,60.7 1236.5,60.6 1237.0,62.0 1237.5,63.4 1238.0,63.2 1238.5,62.1 1239.0,61.7 1239.5,61.7 1240.0,62.9 1240.5,64.8 1241.0,64.6 1241.5,65.1 1242.0,66.7 1242.5,67.3 1243.0,69.0 1243.5,72.8 1244.0,79.9 1244.5,94.8 1245.0,130.9 1245.5,197.9 1246.0,273.7 1246.5,322.6 1247.0,331.6 1247.5,303.8 1248.0,256.6 1248.5,229.8 1249.0,247.9 1249.5,290.1 1250.0,327.6 1250.5,348.9 1251.0,351.6 1251.5,335.1 1252.0,300.3 1252.5,251.2 1253.0,197.0 1253.5,151.8 1254.0,123.5 1254.5,109.2 1255.0,101.0 1255.5,96.0 1256.0,95.1 1256.5,96.1 1257.0,96.8 1257.5,98.4 1258.0,96.1 1258.5,91.9 1259.0,88.4 1259.5,86.5 1260.0,85.0 1260.5,85.4 1261.0,91.9 1261.5,111.3 1262.0,156.2 1262.5,225.9 1263.0,287.5 1263.5,313.3 1264.0,295.4 1264.5,242.0 1265.0,183.7 1265.5,164.7 1266.0,194.6 1266.5,227.7 1267.0,216.5 1267.5,165.7 1268.0,115.5 1268.5,89.5 1269.0,80.9 1269.5,78.2 1270.0,77.9 1270.5,80.3 1271.0,85.4 1271.5,93.4 1272.0,104.4 1272.5,112.7 1273.0,110.0 1273.5,98.9 1274.0,88.0 1274.5,81.1 1275.0,78.8 1275.5,80.9 1276.0,91.3 1276.5,112.5 1277.0,132.8 1277.5,132.9 1278.0,112.3 1278.5,90.7 1279.0,77.8 1279.5,73.0 1280.0,74.1 1280.5,76.6 1281.0,76.4 1281.5,75.8 1282.0,76.1 1282.5,76.7 1283.0,79.6 1283.5,89.1 1284.0,106.6 1284.5,125.6 1285.0,133.1 1285.5,123.2 1286.0,104.1 1286.5,88.1 1287.0,80.3 1287.5,77.4 1288.0,76.4 1288.5,76.9 1289.0,76.9 1289.5,74.8 1290.0,74.5 1290.5,80.9 1291.0,91.8 1291.5,103.1 1292.0,108.5 1292.5,104.4 1293.0,94.3 1293.5,84.5 1294.0,79.4 1294.5,78.5 1295.0,77.7 1295.5,76.8 1296.0,76.9 1296.5,77.1 1297.0,78.1 1297.5,80.5 1298.0,84.1 1298.5,95.6 1299.0,119.0 1299.5,152.4 1300.0,190.1 1300.5,216.7 1301.0,217.5 1301.5,192.5 1302.0,155.4 1302.5,121.5 1303.0,99.0 1303.5,85.8 1304.0,78.5 1304.5,74.6 1305.0,72.9 1305.5,71.6 1306.0,71.5 1306.5,73.1 1307.0,73.6 1307.5,71.2 1308.0,69.4 1308.5,69.8 1309.0,70.5 1309.5,71.0 1310.0,75.8 1310.5,86.7 1311.0,100.5 1311.5,114.4 1312.0,119.0 1312.5,110.0 1313.0,95.1 1313.5,82.7 1314.0,76.4 1314.5,72.7 1315.0,70.5 1315.5,68.7 1316.0,66.7 1316.5,67.6 1317.0,68.5 1317.5,67.9 1318.0,69.0 1318.5,71.4 1319.0,70.4 1319.5,68.4 1320.0,69.2 1320.5,74.8 1321.0,84.3 1321.5,93.8 1322.0,99.1 1322.5,96.3 1323.0,88.9 1323.5,81.0 1324.0,74.7 1324.5,70.6 1325.0,66.8 1325.5,65.7 1326.0,67.2 1326.5,69.6 1327.0,73.6 1327.5,80.0 1328.0,92.9 1328.5,119.1 1329.0,161.4 1329.5,206.7 1330.0,227.9 1330.5,209.2 1331.0,165.3 1331.5,122.4 1332.0,99.1 1332.5,95.8 1333.0,114.5 1333.5,157.9 1334.0,210.5 1334.5,245.2 1335.0,240.9 1335.5,200.0 1336.0,146.6 1336.5,106.3 1337.0,85.4 1337.5,76.0 1338.0,73.4 1338.5,72.8 1339.0,69.7 1339.5,67.5 1340.0,66.6 1340.5,65.0 1341.0,64.0 1341.5,64.4 1342.0,66.0 1342.5,65.9 1343.0,65.3 1343.5,65.6 1344.0,66.1 1344.5,66.5 1345.0,69.0 1345.5,74.6 1346.0,86.0 1346.5,107.0 1347.0,132.8 1347.5,147.3 1348.0,135.0 1348.5,107.4 1349.0,86.1 1349.5,74.2 1350.0,67.3 1350.5,64.7 1351.0,65.6 1351.5,67.6 1352.0,69.6 1352.5,70.5 1353.0,69.6 1353.5,68.7 1354.0,68.2 1354.5,69.6 1355.0,76.5 1355.5,93.3 1356.0,121.6 1356.5,158.6 1357.0,197.1 1357.5,221.0 1358.0,216.0 1358.5,185.2 1359.0,144.6 1359.5,110.3 1360.0,88.0 1360.5,77.8 1361.0,81.7 1361.5,99.5 1362.0,126.3 1362.5,151.7 1363.0,159.3 1363.5,140.8 1364.0,109.8 1364.5,83.9 1365.0,70.2 1365.5,65.1 1366.0,63.1 1366.5,61.6 1367.0,58.2 1367.5,55.4 1368.0,56.0 1368.5,58.1 1369.0,59.9 1369.5,61.3 1370.0,62.1 1370.5,61.5 1371.0,60.6 1371.5,60.2 1372.0,58.5 1372.5,55.9 1373.0,56.4 1373.5,58.0 1374.0,57.3 1374.5,54.4 1375.0,52.9 1375.5,55.9 1376.0,59.1 1376.5,58.7 1377.0,56.0 1377.5,54.2 1378.0,55.0 1378.5,56.6 1379.0,55.5 1379.5,53.8 1380.0,54.5 1380.5,54.8 1381.0,52.3 1381.5,50.1 1382.0,51.3 1382.5,54.2 1383.0,56.5 1383.5,56.7 1384.0,57.1 1384.5,59.4 1385.0,60.8 1385.5,60.4 1386.0,58.4 1386.5,55.6 1387.0,54.1 1387.5,55.5 1388.0,57.3 1388.5,58.3 1389.0,58.0 1389.5,55.7 1390.0,54.1 1390.5,53.5" fill="none" stroke="#c82050" stroke-width="1.6" stroke-dasharray="5.5,4.5" stroke-linejoin="round"/>
<path d="M808.0,51.4 808.5,51.6 809.0,50.8 809.5,51.0 810.0,50.4 810.5,50.0 811.0,50.3 811.5,50.5 812.0,52.5 812.5,54.1 813.0,53.5 813.5,52.5 814.0,53.3 814.5,54.1 815.0,52.7 815.5,52.2 816.0,53.3 816.5,52.6 817.0,50.7 817.5,50.1 818.0,49.3 818.5,48.7 819.0,50.6 819.5,52.6 820.0,52.4 820.5,49.7 821.0,48.0 821.5,49.4 822.0,51.3 822.5,51.9 823.0,51.4 823.5,50.7 824.0,50.7 824.5,52.2 825.0,53.7 825.5,53.8 826.0,53.1 826.5,52.7 827.0,51.9 827.5,51.0 828.0,49.9 828.5,50.0 829.0,51.3 829.5,51.6 830.0,52.4 830.5,54.0 831.0,55.1 831.5,54.7 832.0,52.6 832.5,50.0 833.0,48.3 833.5,48.8 834.0,50.1 834.5,49.0 835.0,49.5 835.5,51.4 836.0,52.8 836.5,54.4 837.0,55.1 837.5,53.3 838.0,50.8 838.5,51.0 839.0,52.9 839.5,54.5 840.0,54.0 840.5,53.7 841.0,53.1 841.5,51.6 842.0,51.9 842.5,52.5 843.0,51.9 843.5,51.5 844.0,51.4 844.5,51.8 845.0,51.7 845.5,51.9 846.0,52.0 846.5,51.4 847.0,50.9 847.5,51.4 848.0,53.1 848.5,53.9 849.0,51.7 849.5,50.4 850.0,52.3 850.5,54.8 851.0,55.5 851.5,52.8 852.0,50.3 852.5,49.6 853.0,49.4 853.5,50.8 854.0,52.7 854.5,53.4 855.0,51.4 855.5,51.0 856.0,52.8 856.5,53.1 857.0,51.5 857.5,50.1 858.0,50.6 858.5,52.1 859.0,53.4 859.5,53.6 860.0,52.3 860.5,51.7 861.0,54.7 861.5,57.0 862.0,55.0 862.5,51.9 863.0,49.7 863.5,51.5 864.0,55.7 864.5,55.7 865.0,51.9 865.5,50.9 866.0,54.7 866.5,57.9 867.0,57.9 867.5,57.2 868.0,56.2 868.5,54.3 869.0,52.2 869.5,50.4 870.0,50.2 870.5,50.0 871.0,51.3 871.5,55.5 872.0,57.4 872.5,56.1 873.0,55.2 873.5,55.0 874.0,55.0 874.5,54.4 875.0,53.8 875.5,54.4 876.0,55.3 876.5,54.2 877.0,52.8 877.5,52.6 878.0,52.5 878.5,54.6 879.0,56.7 879.5,55.9 880.0,54.5 880.5,55.3 881.0,55.7 881.5,54.9 882.0,55.0 882.5,55.0 883.0,54.3 883.5,54.4 884.0,53.5 884.5,54.0 885.0,58.1 885.5,58.4 886.0,54.2 886.5,53.3 887.0,56.2 887.5,58.2 888.0,58.0 888.5,57.9 889.0,57.9 889.5,57.1 890.0,55.5 890.5,55.5 891.0,58.6 891.5,59.9 892.0,59.7 892.5,61.2 893.0,61.1 893.5,59.5 894.0,58.9 894.5,59.0 895.0,58.4 895.5,57.9 896.0,59.6 896.5,60.8 897.0,59.3 897.5,57.8 898.0,58.9 898.5,60.5 899.0,61.3 899.5,60.4 900.0,60.5 900.5,61.5 901.0,61.5 901.5,61.8 902.0,63.5 902.5,64.5 903.0,62.2 903.5,60.3 904.0,60.5 904.5,61.1 905.0,62.0 905.5,62.2 906.0,61.4 906.5,60.2 907.0,60.3 907.5,61.0 908.0,61.8 908.5,62.5 909.0,63.5 909.5,63.9 910.0,63.9 910.5,64.9 911.0,66.3 911.5,65.7 912.0,63.2 912.5,61.2 913.0,60.5 913.5,60.8 914.0,61.8 914.5,62.3 915.0,62.7 915.5,65.1 916.0,67.2 916.5,66.7 917.0,65.1 917.5,65.2 918.0,66.9 918.5,66.8 919.0,65.6 919.5,65.7 920.0,67.0 920.5,67.4 921.0,65.3 921.5,62.2 922.0,60.0 922.5,59.2 923.0,59.3 923.5,60.8 924.0,63.3 924.5,63.9 925.0,62.0 925.5,61.2 926.0,62.4 926.5,65.0 927.0,66.8 927.5,67.0 928.0,65.6 928.5,63.0 929.0,60.2 929.5,59.5 930.0,61.2 930.5,62.9 931.0,63.3 931.5,63.6 932.0,64.9 932.5,67.0 933.0,66.2 933.5,65.0 934.0,64.8 934.5,63.4 935.0,62.4 935.5,63.7 936.0,66.0 936.5,67.3 937.0,66.8 937.5,63.7 938.0,60.5 938.5,62.6 939.0,65.4 939.5,65.0 940.0,63.7 940.5,64.6 941.0,67.4 941.5,70.0 942.0,69.5 942.5,67.6 943.0,67.2 943.5,66.9 944.0,65.5 944.5,63.2 945.0,62.7 945.5,65.2 946.0,65.5 946.5,64.2 947.0,64.6 947.5,65.5 948.0,65.8 948.5,64.5 949.0,63.8 949.5,64.6 950.0,66.7 950.5,69.0 951.0,68.3 951.5,66.2 952.0,66.2 952.5,65.9 953.0,64.4 953.5,63.5 954.0,63.4 954.5,64.6 955.0,67.2 955.5,68.3 956.0,67.5 956.5,66.5 957.0,66.0 957.5,66.6 958.0,66.9 958.5,66.1 959.0,64.0 959.5,62.6 960.0,63.7 960.5,66.1 961.0,68.8 961.5,68.2 962.0,66.0 962.5,64.3 963.0,62.4 963.5,63.2 964.0,66.4 964.5,68.7 965.0,69.0 965.5,68.5 966.0,67.4 966.5,65.6 967.0,64.8 967.5,65.2 968.0,64.9 968.5,62.4 969.0,58.8 969.5,58.8 970.0,62.8 970.5,65.5 971.0,65.6 971.5,65.0 972.0,65.5 972.5,67.7 973.0,69.1 973.5,67.9 974.0,66.8 974.5,67.9 975.0,69.7 975.5,69.4 976.0,67.0 976.5,65.6 977.0,66.3 977.5,67.8 978.0,69.2 978.5,70.6 979.0,72.1 979.5,73.8 980.0,77.2 980.5,80.4 981.0,81.3 981.5,81.0 982.0,82.4 982.5,85.2 983.0,88.9 983.5,93.0 984.0,96.0 984.5,99.1 985.0,105.0 985.5,113.3 986.0,123.0 986.5,134.7 987.0,152.1 987.5,181.1 988.0,229.4 988.5,295.5 989.0,357.4 989.5,396.0 990.0,413.3 990.5,418.2 991.0,415.7 991.5,404.0 992.0,379.1 992.5,344.4 993.0,318.6 993.5,321.6 994.0,352.3 994.5,389.6 995.0,414.3 995.5,424.6 996.0,427.7 996.5,428.2 997.0,427.4 997.5,423.6 998.0,412.4 998.5,389.2 999.0,360.1 999.5,340.3 1000.0,334.9 1000.5,331.6 1001.0,320.4 1001.5,310.2 1002.0,313.7 1002.5,326.9 1003.0,332.0 1003.5,326.7 1004.0,330.7 1004.5,348.5 1005.0,360.1 1005.5,350.2 1006.0,316.9 1006.5,271.2 1007.0,231.7 1007.5,209.9 1008.0,212.4 1008.5,245.5 1009.0,299.6 1009.5,344.6 1010.0,360.3 1010.5,341.9 1011.0,288.8 1011.5,217.0 1012.0,156.9 1012.5,124.0 1013.0,110.2 1013.5,101.8 1014.0,96.2 1014.5,93.4 1015.0,90.2 1015.5,86.3 1016.0,84.8 1016.5,84.3 1017.0,84.6 1017.5,85.2 1018.0,84.2 1018.5,81.2 1019.0,77.9 1019.5,74.5 1020.0,75.1 1020.5,77.9 1021.0,78.0 1021.5,75.3 1022.0,73.5 1022.5,73.5 1023.0,73.3 1023.5,73.6 1024.0,74.3 1024.5,73.5 1025.0,70.5 1025.5,70.2 1026.0,72.9 1026.5,74.3 1027.0,74.6 1027.5,75.3 1028.0,74.7 1028.5,73.1 1029.0,75.1 1029.5,80.2 1030.0,83.7 1030.5,82.1 1031.0,79.2 1031.5,77.1 1032.0,73.5 1032.5,70.6 1033.0,69.3 1033.5,70.9 1034.0,72.3 1034.5,72.0 1035.0,71.8 1035.5,71.2 1036.0,69.4 1036.5,68.4 1037.0,70.0 1037.5,71.3 1038.0,70.7 1038.5,70.6 1039.0,70.5 1039.5,71.5 1040.0,73.0 1040.5,72.5 1041.0,71.2 1041.5,71.8 1042.0,74.3 1042.5,75.9 1043.0,75.5 1043.5,73.7 1044.0,72.6 1044.5,72.8 1045.0,73.4 1045.5,73.1 1046.0,70.1 1046.5,65.6 1047.0,62.6 1047.5,63.1 1048.0,66.2 1048.5,68.2 1049.0,68.6 1049.5,67.7 1050.0,66.8 1050.5,67.0 1051.0,67.0 1051.5,66.4 1052.0,64.4 1052.5,62.2 1053.0,61.9 1053.5,62.4 1054.0,63.8 1054.5,65.2 1055.0,65.9 1055.5,68.1 1056.0,70.0 1056.5,70.3 1057.0,69.5 1057.5,67.7 1058.0,66.9 1058.5,65.1 1059.0,62.9 1059.5,63.0 1060.0,63.2 1060.5,61.9 1061.0,62.3 1061.5,64.7 1062.0,63.1 1062.5,59.9 1063.0,58.9 1063.5,59.8 1064.0,60.4 1064.5,62.3 1065.0,64.0 1065.5,64.0 1066.0,62.7 1066.5,61.5 1067.0,61.2 1067.5,60.7 1068.0,60.9 1068.5,61.6 1069.0,61.6 1069.5,62.3 1070.0,62.9 1070.5,62.1 1071.0,61.2 1071.5,60.8 1072.0,60.9 1072.5,61.4 1073.0,61.0 1073.5,60.0 1074.0,60.3 1074.5,60.6 1075.0,61.5 1075.5,64.1 1076.0,64.7 1076.5,61.6 1077.0,57.9 1077.5,57.0 1078.0,58.7 1078.5,60.9 1079.0,62.9 1079.5,61.7 1080.0,59.4 1080.5,59.0 1081.0,60.2 1081.5,61.0 1082.0,61.4 1082.5,61.3 1083.0,60.7 1083.5,58.9 1084.0,55.9 1084.5,54.4 1085.0,56.1 1085.5,60.6 1086.0,63.3 1086.5,63.0 1087.0,61.9 1087.5,60.7 1088.0,59.5 1088.5,58.4 1089.0,58.0 1089.5,57.9 1090.0,57.9 1090.5,59.0 1091.0,60.9 1091.5,62.0 1092.0,61.8 1092.5,59.9 1093.0,58.1 1093.5,58.7 1094.0,59.9 1094.5,60.6 1095.0,60.9 1095.5,60.9 1096.0,60.4 1096.5,60.3 1097.0,60.3 1097.5,61.6 1098.0,63.2 1098.5,63.3 1099.0,63.7 1099.5,63.8 1100.0,62.3 1100.5,60.6 1101.0,59.0 1101.5,59.9 1102.0,62.9 1102.5,63.9 1103.0,63.0 1103.5,63.6 1104.0,60.5 1104.5,54.7 1105.0,53.6 1105.5,54.6 1106.0,56.2 1106.5,59.2 1107.0,59.0 1107.5,57.2 1108.0,57.2 1108.5,58.0 1109.0,58.3 1109.5,58.0 1110.0,58.3 1110.5,59.2 1111.0,59.5 1111.5,59.7 1112.0,58.8 1112.5,57.5 1113.0,58.4 1113.5,60.4 1114.0,61.1 1114.5,59.7 1115.0,59.2 1115.5,60.7 1116.0,61.2 1116.5,59.6 1117.0,58.5 1117.5,58.7 1118.0,59.0 1118.5,60.4 1119.0,60.2 1119.5,57.8 1120.0,57.2 1120.5,59.5 1121.0,58.9 1121.5,54.6 1122.0,52.6 1122.5,53.5 1123.0,55.1 1123.5,56.3 1124.0,57.3 1124.5,57.3 1125.0,57.0 1125.5,58.0 1126.0,57.5 1126.5,55.2 1127.0,50.7 1127.5,48.7 1128.0,49.3 1128.5,48.5 1129.0,46.6 1129.5,46.8 1130.0,49.4 1130.5,52.0 1131.0,53.1 1131.5,53.2 1132.0,54.0 1132.5,54.3 1133.0,54.4 1133.5,54.4 1134.0,53.5 1134.5,52.4 1135.0,53.4 1135.5,55.3 1136.0,55.2 1136.5,53.7 1137.0,52.2 1137.5,50.6 1138.0,49.3 1138.5,49.9 1139.0,50.6 1139.5,52.0 1140.0,51.3 1140.5,48.7 1141.0,47.6 1141.5,48.2 1142.0,49.6 1142.5,49.3 1143.0,49.0 1143.5,50.5 1144.0,52.8 1144.5,54.0 1145.0,53.7 1145.5,53.0 1146.0,53.1 1146.5,52.9 1147.0,52.2 1147.5,52.1 1148.0,53.3 1148.5,53.9 1149.0,53.5 1149.5,55.1 1150.0,57.2 1150.5,56.9 1151.0,54.7 1151.5,52.2 1152.0,51.2 1152.5,51.8 1153.0,52.3 1153.5,50.9 1154.0,49.9 1154.5,50.6 1155.0,51.3 1155.5,53.1 1156.0,56.4 1156.5,58.0 1157.0,56.0 1157.5,52.0 1158.0,49.9 1158.5,50.2 1159.0,50.6 1159.5,50.1 1160.0,49.4 1160.5,50.2 1161.0,51.1 1161.5,50.9 1162.0,49.4 1162.5,47.9 1163.0,50.1 1163.5,53.6 1164.0,53.2 1164.5,51.5 1165.0,52.1 1165.5,52.9 1166.0,51.8 1166.5,51.3 1167.0,52.1 1167.5,53.1 1168.0,55.2 1168.5,55.3 1169.0,52.7 1169.5,52.3 1170.0,54.4 1170.5,55.2 1171.0,54.5 1171.5,53.5 1172.0,53.4 1172.5,54.1 1173.0,53.2 1173.5,52.7 1174.0,53.3 1174.5,52.5 1175.0,50.9 1175.5,51.4 1176.0,52.0 1176.5,52.6 1177.0,53.8 1177.5,54.9 1178.0,55.0 1178.5,54.9 1179.0,56.2 1179.5,57.6 1180.0,57.8 1180.5,57.5 1181.0,57.7 1181.5,57.4 1182.0,56.3 1182.5,57.0 1183.0,58.5 1183.5,59.3 1184.0,58.7 1184.5,56.6 1185.0,54.3 1185.5,53.3 1186.0,54.6 1186.5,56.9 1187.0,58.7 1187.5,59.6 1188.0,59.3 1188.5,58.2 1189.0,57.9 1189.5,58.5 1190.0,58.1 1190.5,56.9 1191.0,56.6 1191.5,59.4 1192.0,61.9 1192.5,60.0 1193.0,57.1 1193.5,57.0 1194.0,57.9 1194.5,58.0 1195.0,57.1 1195.5,58.1 1196.0,60.8 1196.5,61.4 1197.0,61.0 1197.5,62.0 1198.0,71.2 1198.5,81.7 1199.0,90.7 1199.5,96.5 1200.0,96.4 1200.5,96.6 1201.0,95.7 1201.5,91.0 1202.0,85.5 1202.5,82.5 1203.0,79.6 1203.5,74.2 1204.0,66.9 1204.5,61.8 1205.0,61.0 1205.5,63.8 1206.0,66.0 1206.5,65.5 1207.0,63.4 1207.5,61.2 1208.0,60.5 1208.5,61.3 1209.0,62.2 1209.5,62.7 1210.0,63.6 1210.5,62.7 1211.0,59.5 1211.5,57.3 1212.0,58.6 1212.5,60.5 1213.0,59.5 1213.5,59.6 1214.0,62.1 1214.5,63.3 1215.0,61.5 1215.5,61.3 1216.0,62.9 1216.5,63.6 1217.0,63.0 1217.5,62.2 1218.0,60.9 1218.5,59.2 1219.0,58.4 1219.5,59.0 1220.0,60.2 1220.5,60.5 1221.0,61.0 1221.5,62.0 1222.0,62.1 1222.5,59.6 1223.0,58.1 1223.5,57.7 1224.0,57.4 1224.5,57.7 1225.0,58.3 1225.5,60.1 1226.0,60.0 1226.5,58.7 1227.0,58.3 1227.5,58.2 1228.0,58.7 1228.5,59.7 1229.0,58.9 1229.5,58.3 1230.0,59.3 1230.5,58.0 1231.0,55.9 1231.5,56.6 1232.0,58.5 1232.5,59.3 1233.0,58.6 1233.5,57.8 1234.0,58.8 1234.5,59.0 1235.0,59.0 1235.5,60.5 1236.0,60.7 1236.5,60.5 1237.0,61.7 1237.5,62.4 1238.0,61.8 1238.5,62.2 1239.0,63.0 1239.5,62.7 1240.0,63.1 1240.5,64.8 1241.0,66.1 1241.5,66.9 1242.0,68.8 1242.5,71.9 1243.0,73.3 1243.5,75.0 1244.0,81.7 1244.5,97.4 1245.0,132.4 1245.5,197.9 1246.0,273.9 1246.5,323.3 1247.0,332.5 1247.5,304.0 1248.0,256.4 1248.5,230.2 1249.0,247.7 1249.5,288.6 1250.0,326.0 1250.5,348.1 1251.0,351.5 1251.5,335.4 1252.0,300.2 1252.5,249.3 1253.0,194.7 1253.5,150.7 1254.0,123.5 1254.5,108.1 1255.0,99.5 1255.5,97.5 1256.0,98.4 1256.5,98.0 1257.0,96.9 1257.5,97.0 1258.0,95.6 1258.5,93.5 1259.0,91.0 1259.5,89.6 1260.0,87.2 1260.5,83.9 1261.0,89.1 1261.5,111.1 1262.0,157.1 1262.5,225.9 1263.0,287.7 1263.5,313.3 1264.0,295.0 1264.5,240.8 1265.0,180.4 1265.5,160.8 1266.0,192.2 1266.5,225.9 1267.0,214.7 1267.5,164.7 1268.0,114.6 1268.5,87.6 1269.0,78.2 1269.5,75.7 1270.0,75.9 1270.5,78.6 1271.0,84.0 1271.5,92.7 1272.0,105.2 1272.5,113.4 1273.0,108.9 1273.5,96.5 1274.0,85.3 1274.5,79.2 1275.0,78.4 1275.5,80.9 1276.0,90.6 1276.5,111.6 1277.0,132.6 1277.5,133.0 1278.0,112.4 1278.5,90.7 1279.0,80.9 1279.5,79.4 1280.0,78.2 1280.5,77.0 1281.0,76.0 1281.5,74.7 1282.0,74.0 1282.5,74.8 1283.0,79.3 1283.5,90.4 1284.0,107.3 1284.5,124.6 1285.0,131.0 1285.5,120.7 1286.0,103.6 1286.5,89.9 1287.0,81.3 1287.5,76.7 1288.0,75.4 1288.5,74.7 1289.0,74.3 1289.5,76.3 1290.0,80.1 1290.5,85.2 1291.0,94.2 1291.5,104.3 1292.0,108.4 1292.5,104.4 1293.0,94.7 1293.5,83.2 1294.0,75.6 1294.5,75.7 1295.0,78.3 1295.5,77.7 1296.0,76.6 1296.5,77.5 1297.0,76.5 1297.5,77.7 1298.0,84.5 1298.5,97.6 1299.0,120.6 1299.5,154.7 1300.0,191.8 1300.5,217.2 1301.0,217.1 1301.5,191.7 1302.0,155.2 1302.5,121.9 1303.0,99.3 1303.5,86.0 1304.0,79.2 1304.5,76.7 1305.0,75.8 1305.5,75.3 1306.0,75.9 1306.5,76.5 1307.0,74.5 1307.5,69.6 1308.0,67.6 1308.5,69.6 1309.0,72.0 1309.5,74.3 1310.0,77.3 1310.5,85.6 1311.0,100.1 1311.5,114.8 1312.0,120.0 1312.5,109.7 1313.0,93.4 1313.5,80.4 1314.0,72.4 1314.5,69.6 1315.0,69.7 1315.5,70.3 1316.0,69.0 1316.5,67.3 1317.0,67.5 1317.5,68.3 1318.0,66.9 1318.5,64.9 1319.0,66.3 1319.5,68.7 1320.0,71.3 1320.5,76.8 1321.0,85.7 1321.5,96.6 1322.0,104.0 1322.5,101.3 1323.0,90.9 1323.5,81.6 1324.0,76.2 1324.5,71.0 1325.0,68.5 1325.5,69.4 1326.0,69.8 1326.5,70.1 1327.0,71.7 1327.5,77.9 1328.0,92.9 1328.5,121.1 1329.0,164.3 1329.5,208.1 1330.0,227.5 1330.5,208.1 1331.0,164.1 1331.5,122.4 1332.0,98.9 1332.5,96.7 1333.0,117.1 1333.5,160.3 1334.0,212.5 1334.5,246.8 1335.0,241.3 1335.5,198.9 1336.0,143.7 1336.5,101.2 1337.0,79.3 1337.5,70.6 1338.0,66.6 1338.5,64.2 1339.0,62.8 1339.5,61.9 1340.0,60.9 1340.5,59.5 1341.0,59.6 1341.5,62.2 1342.0,65.7 1342.5,67.3 1343.0,65.0 1343.5,61.9 1344.0,62.0 1344.5,63.1 1345.0,64.2 1345.5,69.0 1346.0,80.2 1346.5,101.3 1347.0,127.8 1347.5,144.3 1348.0,135.8 1348.5,109.4 1349.0,84.0 1349.5,70.0 1350.0,65.2 1350.5,63.9 1351.0,62.9 1351.5,62.2 1352.0,62.0 1352.5,62.1 1353.0,61.5 1353.5,61.7 1354.0,63.5 1354.5,67.4 1355.0,74.8 1355.5,89.5 1356.0,116.9 1356.5,156.6 1357.0,196.9 1357.5,221.1 1358.0,216.6 1358.5,185.5 1359.0,143.4 1359.5,107.8 1360.0,85.0 1360.5,75.6 1361.0,78.0 1361.5,92.9 1362.0,120.0 1362.5,148.7 1363.0,159.0 1363.5,141.6 1364.0,110.4 1364.5,82.8 1365.0,67.2 1365.5,60.5 1366.0,57.1 1366.5,55.6 1367.0,56.4 1367.5,56.9 1368.0,55.8 1368.5,55.6 1369.0,56.4 1369.5,55.7 1370.0,54.2 1370.5,54.6 1371.0,56.0 1371.5,55.6 1372.0,53.6 1372.5,53.1 1373.0,56.1 1373.5,56.9 1374.0,54.4 1374.5,53.5 1375.0,51.9 1375.5,51.1 1376.0,52.4 1376.5,52.4 1377.0,50.9 1377.5,50.4 1378.0,52.4 1378.5,53.0 1379.0,49.9 1379.5,47.6 1380.0,47.9 1380.5,48.6 1381.0,49.9 1381.5,51.9 1382.0,54.7 1382.5,55.7 1383.0,52.8 1383.5,49.5 1384.0,49.2 1384.5,51.5 1385.0,51.6 1385.5,50.2 1386.0,50.7 1386.5,51.8 1387.0,50.8 1387.5,50.0 1388.0,51.0 1388.5,52.0 1389.0,51.9 1389.5,50.7 1390.0,49.0 1390.5,49.2" fill="none" stroke="#3a2a80" stroke-width="1.6" stroke-dasharray="2,4.5" stroke-linejoin="round"/>
<path d="M808.0,49.9 808.5,49.6 809.0,49.4 809.5,49.6 810.0,50.5 810.5,51.5 811.0,51.6 811.5,50.0 812.0,49.8 812.5,50.2 813.0,48.9 813.5,49.2 814.0,50.9 814.5,51.3 815.0,50.8 815.5,50.2 816.0,50.5 816.5,52.1 817.0,54.1 817.5,53.8 818.0,53.9 818.5,55.6 819.0,53.6 819.5,49.6 820.0,47.6 820.5,48.0 821.0,48.9 821.5,49.7 822.0,50.4 822.5,51.3 823.0,52.6 823.5,52.5 824.0,50.7 824.5,48.2 825.0,46.7 825.5,47.5 826.0,47.4 826.5,47.6 827.0,48.3 827.5,47.4 828.0,46.7 828.5,48.2 829.0,50.1 829.5,50.9 830.0,51.7 830.5,51.7 831.0,50.7 831.5,50.0 832.0,49.7 832.5,50.2 833.0,51.0 833.5,51.8 834.0,51.6 834.5,51.0 835.0,51.8 835.5,53.2 836.0,54.0 836.5,52.5 837.0,49.9 837.5,49.8 838.0,50.6 838.5,51.6 839.0,51.9 839.5,51.7 840.0,53.4 840.5,55.0 841.0,54.5 841.5,53.4 842.0,53.1 842.5,53.2 843.0,54.3 843.5,56.1 844.0,56.3 844.5,54.3 845.0,53.8 845.5,54.4 846.0,54.3 846.5,55.2 847.0,55.4 847.5,54.0 848.0,53.1 848.5,53.8 849.0,54.6 849.5,53.8 850.0,51.5 850.5,49.8 851.0,49.7 851.5,49.7 852.0,49.1 852.5,49.8 853.0,51.8 853.5,53.4 854.0,52.8 854.5,50.7 855.0,50.8 855.5,52.5 856.0,52.5 856.5,52.5 857.0,53.4 857.5,52.9 858.0,51.9 858.5,52.9 859.0,54.4 859.5,55.5 860.0,56.3 860.5,55.6 861.0,53.7 861.5,51.3 862.0,48.9 862.5,47.6 863.0,48.5 863.5,49.3 864.0,48.9 864.5,50.9 865.0,53.6 865.5,53.6 866.0,52.9 866.5,52.2 867.0,51.3 867.5,50.2 868.0,50.3 868.5,51.8 869.0,52.7 869.5,52.4 870.0,51.5 870.5,50.9 871.0,50.3 871.5,49.9 872.0,51.5 872.5,52.7 873.0,52.0 873.5,52.1 874.0,54.4 874.5,55.3 875.0,52.7 875.5,50.1 876.0,50.6 876.5,52.3 877.0,53.6 877.5,54.4 878.0,54.3 878.5,54.2 879.0,55.0 879.5,56.2 880.0,56.0 880.5,54.4 881.0,51.7 881.5,51.9 882.0,53.7 882.5,52.9 883.0,52.6 883.5,54.4 884.0,53.8 884.5,52.3 885.0,52.5 885.5,53.5 886.0,54.0 886.5,52.8 887.0,52.0 887.5,54.3 888.0,57.1 888.5,58.9 889.0,59.7 889.5,57.7 890.0,55.5 890.5,55.5 891.0,55.5 891.5,55.3 892.0,55.7 892.5,56.1 893.0,57.7 893.5,58.5 894.0,57.1 894.5,57.2 895.0,59.2 895.5,61.2 896.0,62.0 896.5,60.9 897.0,58.3 897.5,57.7 898.0,59.2 898.5,58.9 899.0,58.3 899.5,58.9 900.0,60.9 900.5,63.0 901.0,61.5 901.5,59.8 902.0,60.9 902.5,63.3 903.0,64.0 903.5,64.0 904.0,64.7 904.5,64.8 905.0,64.3 905.5,62.6 906.0,59.2 906.5,58.3 907.0,59.8 907.5,61.3 908.0,62.7 908.5,63.2 909.0,62.3 909.5,61.6 910.0,61.3 910.5,60.8 911.0,60.3 911.5,60.0 912.0,60.2 912.5,61.8 913.0,63.2 913.5,63.5 914.0,63.2 914.5,61.9 915.0,62.0 915.5,62.8 916.0,60.5 916.5,57.5 917.0,57.4 917.5,59.0 918.0,61.9 918.5,63.6 919.0,61.1 919.5,58.3 920.0,57.5 920.5,58.4 921.0,60.0 921.5,61.2 922.0,61.6 922.5,60.9 923.0,61.3 923.5,61.8 924.0,61.7 924.5,62.5 925.0,63.0 925.5,62.7 926.0,62.3 926.5,62.3 927.0,63.6 927.5,67.3 928.0,69.3 928.5,67.4 929.0,64.9 929.5,64.1 930.0,63.8 930.5,62.4 931.0,61.1 931.5,61.5 932.0,61.9 932.5,62.5 933.0,63.1 933.5,62.6 934.0,61.2 934.5,59.9 935.0,60.3 935.5,61.9 936.0,64.1 936.5,65.2 937.0,65.0 937.5,64.3 938.0,63.1 938.5,62.7 939.0,63.3 939.5,64.4 940.0,65.4 940.5,64.8 941.0,63.5 941.5,63.7 942.0,64.4 942.5,64.5 943.0,63.4 943.5,63.1 944.0,64.1 944.5,63.0 945.0,61.9 945.5,63.3 946.0,64.1 946.5,62.4 947.0,61.6 947.5,62.4 948.0,62.6 948.5,61.9 949.0,62.0 949.5,63.6 950.0,66.2 950.5,65.6 951.0,61.9 951.5,59.5 952.0,60.0 952.5,61.1 953.0,61.0 953.5,61.4 954.0,62.8 954.5,64.5 955.0,66.7 955.5,67.3 956.0,65.2 956.5,64.1 957.0,64.4 957.5,65.4 958.0,67.1 958.5,67.9 959.0,66.5 959.5,64.8 960.0,63.0 960.5,63.0 961.0,65.5 961.5,66.6 962.0,64.6 962.5,63.1 963.0,63.0 963.5,63.5 964.0,63.6 964.5,62.6 965.0,60.4 965.5,59.6 966.0,61.0 966.5,63.5 967.0,64.8 967.5,63.9 968.0,62.5 968.5,62.9 969.0,63.0 969.5,61.3 970.0,61.9 970.5,65.4 971.0,67.5 971.5,66.9 972.0,66.2 972.5,66.0 973.0,66.7 973.5,66.8 974.0,66.9 974.5,67.7 975.0,66.5 975.5,65.8 976.0,67.1 976.5,68.1 977.0,67.7 977.5,68.5 978.0,71.7 978.5,73.9 979.0,75.7 979.5,76.4 980.0,75.9 980.5,76.8 981.0,78.4 981.5,79.5 982.0,80.8 982.5,83.2 983.0,86.3 983.5,90.8 984.0,95.1 984.5,100.4 985.0,107.6 985.5,116.4 986.0,124.3 986.5,133.8 987.0,150.1 987.5,179.2 988.0,227.2 988.5,292.7 989.0,355.7 989.5,395.7 990.0,413.3 990.5,418.1 991.0,415.4 991.5,403.8 992.0,379.1 992.5,344.7 993.0,319.2 993.5,322.2 994.0,352.5 994.5,389.5 995.0,414.2 995.5,424.5 996.0,427.7 996.5,428.2 997.0,427.4 997.5,423.6 998.0,412.3 998.5,388.7 999.0,358.8 999.5,338.8 1000.0,333.8 1000.5,331.0 1001.0,319.7 1001.5,308.9 1002.0,312.5 1002.5,326.4 1003.0,332.6 1003.5,327.8 1004.0,331.6 1004.5,348.8 1005.0,360.4 1005.5,351.2 1006.0,318.2 1006.5,270.6 1007.0,229.7 1007.5,209.6 1008.0,213.2 1008.5,246.0 1009.0,299.8 1009.5,344.5 1010.0,360.2 1010.5,341.9 1011.0,287.7 1011.5,213.4 1012.0,154.8 1012.5,124.7 1013.0,110.8 1013.5,102.8 1014.0,97.5 1014.5,93.5 1015.0,91.6 1015.5,91.7 1016.0,91.0 1016.5,88.1 1017.0,84.6 1017.5,80.6 1018.0,76.5 1018.5,73.4 1019.0,72.5 1019.5,72.2 1020.0,71.5 1020.5,70.3 1021.0,69.4 1021.5,70.4 1022.0,71.6 1022.5,71.5 1023.0,71.9 1023.5,70.8 1024.0,67.7 1024.5,67.2 1025.0,70.2 1025.5,74.6 1026.0,77.3 1026.5,75.0 1027.0,72.4 1027.5,72.2 1028.0,72.7 1028.5,74.1 1029.0,77.7 1029.5,81.6 1030.0,83.7 1030.5,80.6 1031.0,74.5 1031.5,71.2 1032.0,72.6 1032.5,75.2 1033.0,76.2 1033.5,74.7 1034.0,72.9 1034.5,74.5 1035.0,75.5 1035.5,72.8 1036.0,70.7 1036.5,70.2 1037.0,70.7 1037.5,72.8 1038.0,74.9 1038.5,73.9 1039.0,71.4 1039.5,70.8 1040.0,71.7 1040.5,70.7 1041.0,70.4 1041.5,71.8 1042.0,72.8 1042.5,73.0 1043.0,71.9 1043.5,71.2 1044.0,71.7 1044.5,71.9 1045.0,70.0 1045.5,66.9 1046.0,65.7 1046.5,67.5 1047.0,70.2 1047.5,71.2 1048.0,70.7 1048.5,68.5 1049.0,66.1 1049.5,64.6 1050.0,65.0 1050.5,66.7 1051.0,67.7 1051.5,67.0 1052.0,66.2 1052.5,66.9 1053.0,66.0 1053.5,63.2 1054.0,63.5 1054.5,64.7 1055.0,65.0 1055.5,65.6 1056.0,65.9 1056.5,66.5 1057.0,65.2 1057.5,62.6 1058.0,62.4 1058.5,63.9 1059.0,63.9 1059.5,62.4 1060.0,61.6 1060.5,62.6 1061.0,64.5 1061.5,64.6 1062.0,61.9 1062.5,58.8 1063.0,58.2 1063.5,60.4 1064.0,61.8 1064.5,60.8 1065.0,60.1 1065.5,60.1 1066.0,60.3 1066.5,60.3 1067.0,57.6 1067.5,54.4 1068.0,53.8 1068.5,56.8 1069.0,61.0 1069.5,63.1 1070.0,64.1 1070.5,65.4 1071.0,64.7 1071.5,60.7 1072.0,57.9 1072.5,58.5 1073.0,59.4 1073.5,59.0 1074.0,58.3 1074.5,58.6 1075.0,58.6 1075.5,58.6 1076.0,60.6 1076.5,62.2 1077.0,60.3 1077.5,58.9 1078.0,59.1 1078.5,59.2 1079.0,59.7 1079.5,59.7 1080.0,59.3 1080.5,58.8 1081.0,58.6 1081.5,58.9 1082.0,58.5 1082.5,57.9 1083.0,59.0 1083.5,60.4 1084.0,60.5 1084.5,58.3 1085.0,56.7 1085.5,57.1 1086.0,57.1 1086.5,58.3 1087.0,60.2 1087.5,59.6 1088.0,56.4 1088.5,54.3 1089.0,57.4 1089.5,61.5 1090.0,62.7 1090.5,62.5 1091.0,62.8 1091.5,62.8 1092.0,61.8 1092.5,61.2 1093.0,61.8 1093.5,61.9 1094.0,61.3 1094.5,59.9 1095.0,58.4 1095.5,57.7 1096.0,58.2 1096.5,58.4 1097.0,58.1 1097.5,58.3 1098.0,59.3 1098.5,61.5 1099.0,63.3 1099.5,61.9 1100.0,57.2 1100.5,52.8 1101.0,52.7 1101.5,55.8 1102.0,58.4 1102.5,60.0 1103.0,62.2 1103.5,64.5 1104.0,64.9 1104.5,62.9 1105.0,61.4 1105.5,61.1 1106.0,59.6 1106.5,57.7 1107.0,55.5 1107.5,54.8 1108.0,57.3 1108.5,62.1 1109.0,65.0 1109.5,63.4 1110.0,60.0 1110.5,58.2 1111.0,57.9 1111.5,57.6 1112.0,56.7 1112.5,56.4 1113.0,56.6 1113.5,56.6 1114.0,58.2 1114.5,60.3 1115.0,61.3 1115.5,62.4 1116.0,63.0 1116.5,63.2 1117.0,64.9 1117.5,65.9 1118.0,64.1 1118.5,61.8 1119.0,61.7 1119.5,62.7 1120.0,61.9 1120.5,60.7 1121.0,61.7 1121.5,62.7 1122.0,61.9 1122.5,60.6 1123.0,59.8 1123.5,60.7 1124.0,61.4 1124.5,59.7 1125.0,59.1 1125.5,59.3 1126.0,56.5 1126.5,53.8 1127.0,51.1 1127.5,50.7 1128.0,52.0 1128.5,51.8 1129.0,50.0 1129.5,48.5 1130.0,48.9 1130.5,49.3 1131.0,49.3 1131.5,49.3 1132.0,49.5 1132.5,51.0 1133.0,52.8 1133.5,53.3 1134.0,52.7 1134.5,51.0 1135.0,50.5 1135.5,50.3 1136.0,48.6 1136.5,47.3 1137.0,48.4 1137.5,51.2 1138.0,51.5 1138.5,49.7 1139.0,49.6 1139.5,51.1 1140.0,50.8 1140.5,49.5 1141.0,48.9 1141.5,47.6 1142.0,45.7 1142.5,47.2 1143.0,50.8 1143.5,51.7 1144.0,52.3 1144.5,52.6 1145.0,51.8 1145.5,52.0 1146.0,52.4 1146.5,52.7 1147.0,51.9 1147.5,51.8 1148.0,51.9 1148.5,50.5 1149.0,50.9 1149.5,54.4 1150.0,56.5 1150.5,55.7 1151.0,53.1 1151.5,50.1 1152.0,49.2 1152.5,51.1 1153.0,52.4 1153.5,50.8 1154.0,49.7 1154.5,50.3 1155.0,50.1 1155.5,48.7 1156.0,49.0 1156.5,50.8 1157.0,51.8 1157.5,51.3 1158.0,49.5 1158.5,49.3 1159.0,50.9 1159.5,52.4 1160.0,52.3 1160.5,51.7 1161.0,51.4 1161.5,50.7 1162.0,51.3 1162.5,53.6 1163.0,55.0 1163.5,54.3 1164.0,53.2 1164.5,53.7 1165.0,55.3 1165.5,55.3 1166.0,52.5 1166.5,50.2 1167.0,50.8 1167.5,51.6 1168.0,51.9 1168.5,52.1 1169.0,52.3 1169.5,51.7 1170.0,49.7 1170.5,50.8 1171.0,53.7 1171.5,54.3 1172.0,52.7 1172.5,52.8 1173.0,53.7 1173.5,53.6 1174.0,53.2 1174.5,53.2 1175.0,54.7 1175.5,55.8 1176.0,55.1 1176.5,54.4 1177.0,54.5 1177.5,53.8 1178.0,52.6 1178.5,51.8 1179.0,50.8 1179.5,50.3 1180.0,51.1 1180.5,53.5 1181.0,56.7 1181.5,58.8 1182.0,58.8 1182.5,57.1 1183.0,54.7 1183.5,55.2 1184.0,58.1 1184.5,58.3 1185.0,55.9 1185.5,55.1 1186.0,56.4 1186.5,56.7 1187.0,56.9 1187.5,58.1 1188.0,57.7 1188.5,57.3 1189.0,57.0 1189.5,55.2 1190.0,54.9 1190.5,56.7 1191.0,58.2 1191.5,58.0 1192.0,58.0 1192.5,59.6 1193.0,59.3 1193.5,57.7 1194.0,56.5 1194.5,57.7 1195.0,60.0 1195.5,60.9 1196.0,60.6 1196.5,60.3 1197.0,58.8 1197.5,58.2 1198.0,62.7 1198.5,69.7 1199.0,76.5 1199.5,82.5 1200.0,84.5 1200.5,84.8 1201.0,87.9 1201.5,91.9 1202.0,90.9 1202.5,90.6 1203.0,89.2 1203.5,85.4 1204.0,80.6 1204.5,76.7 1205.0,74.4 1205.5,70.7 1206.0,66.5 1206.5,68.6 1207.0,70.5 1207.5,69.3 1208.0,67.8 1208.5,67.9 1209.0,67.5 1209.5,65.9 1210.0,65.8 1210.5,66.9 1211.0,68.0 1211.5,68.8 1212.0,69.9 1212.5,71.2 1213.0,73.3 1213.5,75.8 1214.0,76.5 1214.5,75.5 1215.0,74.7 1215.5,73.6 1216.0,73.4 1216.5,74.7 1217.0,75.0 1217.5,73.9 1218.0,72.5 1218.5,72.3 1219.0,71.7 1219.5,71.3 1220.0,71.2 1220.5,70.0 1221.0,67.5 1221.5,64.5 1222.0,63.2 1222.5,65.0 1223.0,67.9 1223.5,68.7 1224.0,68.0 1224.5,68.6 1225.0,71.4 1225.5,72.0 1226.0,69.7 1226.5,68.2 1227.0,67.3 1227.5,66.1 1228.0,66.8 1228.5,67.2 1229.0,65.0 1229.5,64.2 1230.0,66.0 1230.5,67.7 1231.0,68.8 1231.5,69.1 1232.0,68.5 1232.5,68.0 1233.0,68.8 1233.5,68.7 1234.0,66.6 1234.5,66.2 1235.0,68.5 1235.5,70.0 1236.0,69.1 1236.5,68.0 1237.0,69.3 1237.5,72.4 1238.0,72.5 1238.5,69.5 1239.0,68.7 1239.5,70.6 1240.0,71.9 1240.5,69.9 1241.0,68.8 1241.5,71.4 1242.0,75.5 1242.5,77.5 1243.0,78.2 1243.5,79.8 1244.0,84.8 1244.5,97.9 1245.0,132.1 1245.5,197.2 1246.0,272.5 1246.5,322.0 1247.0,331.7 1247.5,304.9 1248.0,258.4 1248.5,232.0 1249.0,249.6 1249.5,290.5 1250.0,327.7 1250.5,348.8 1251.0,351.2 1251.5,334.3 1252.0,299.3 1252.5,250.2 1253.0,198.4 1253.5,155.3 1254.0,127.2 1254.5,112.5 1255.0,105.6 1255.5,102.7 1256.0,101.6 1256.5,102.1 1257.0,104.3 1257.5,107.0 1258.0,104.8 1258.5,100.5 1259.0,96.6 1259.5,94.9 1260.0,94.9 1260.5,95.8 1261.0,99.6 1261.5,116.7 1262.0,160.8 1262.5,228.8 1263.0,288.4 1263.5,312.7 1264.0,294.2 1264.5,240.2 1265.0,181.3 1265.5,163.0 1266.0,192.6 1266.5,225.1 1267.0,214.4 1267.5,165.9 1268.0,118.8 1268.5,94.4 1269.0,85.8 1269.5,82.4 1270.0,82.3 1270.5,85.8 1271.0,88.5 1271.5,93.3 1272.0,102.3 1272.5,108.9 1273.0,107.4 1273.5,100.6 1274.0,93.7 1274.5,87.1 1275.0,81.9 1275.5,81.5 1276.0,90.0 1276.5,109.7 1277.0,130.1 1277.5,130.5 1278.0,112.0 1278.5,94.7 1279.0,84.9 1279.5,81.2 1280.0,81.0 1280.5,80.3 1281.0,79.1 1281.5,79.5 1282.0,80.5 1282.5,81.8 1283.0,85.4 1283.5,92.3 1284.0,106.3 1284.5,123.0 1285.0,129.2 1285.5,119.9 1286.0,104.4 1286.5,90.6 1287.0,82.9 1287.5,82.0 1288.0,84.0 1288.5,85.8 1289.0,85.3 1289.5,84.0 1290.0,85.1 1290.5,88.3 1291.0,94.2 1291.5,102.7 1292.0,107.5 1292.5,104.1 1293.0,95.5 1293.5,87.6 1294.0,84.2 1294.5,83.9 1295.0,83.9 1295.5,83.4 1296.0,82.9 1296.5,83.1 1297.0,82.7 1297.5,83.2 1298.0,89.2 1298.5,102.8 1299.0,125.1 1299.5,156.8 1300.0,191.0 1300.5,215.7 1301.0,217.5 1301.5,194.1 1302.0,159.0 1302.5,126.1 1303.0,103.7 1303.5,91.1 1304.0,84.4 1304.5,82.9 1305.0,82.1 1305.5,79.9 1306.0,79.3 1306.5,80.3 1307.0,80.2 1307.5,79.2 1308.0,79.0 1308.5,79.6 1309.0,80.3 1309.5,82.2 1310.0,87.3 1310.5,93.1 1311.0,101.9 1311.5,113.9 1312.0,119.8 1312.5,113.0 1313.0,99.6 1313.5,88.0 1314.0,80.9 1314.5,76.0 1315.0,74.0 1315.5,76.0 1316.0,77.9 1316.5,77.2 1317.0,73.9 1317.5,71.7 1318.0,73.0 1318.5,75.5 1319.0,76.4 1319.5,76.4 1320.0,77.0 1320.5,79.4 1321.0,85.5 1321.5,93.1 1322.0,98.7 1322.5,98.6 1323.0,92.1 1323.5,84.5 1324.0,79.3 1324.5,76.9 1325.0,77.0 1325.5,78.6 1326.0,79.4 1326.5,79.5 1327.0,79.3 1327.5,81.2 1328.0,91.6 1328.5,118.9 1329.0,163.0 1329.5,207.7 1330.0,227.9 1330.5,209.5 1331.0,166.9 1331.5,125.5 1332.0,101.0 1332.5,96.9 1333.0,115.8 1333.5,158.7 1334.0,210.7 1334.5,245.2 1335.0,241.0 1335.5,200.5 1336.0,148.3 1336.5,108.3 1337.0,86.9 1337.5,78.2 1338.0,75.3 1338.5,73.6 1339.0,72.5 1339.5,69.3 1340.0,64.3 1340.5,63.7 1341.0,66.1 1341.5,66.2 1342.0,63.6 1342.5,62.7 1343.0,66.2 1343.5,70.5 1344.0,70.7 1344.5,68.1 1345.0,67.5 1345.5,71.7 1346.0,83.6 1346.5,104.9 1347.0,128.7 1347.5,141.8 1348.0,133.9 1348.5,110.8 1349.0,87.1 1349.5,72.3 1350.0,67.3 1350.5,68.0 1351.0,68.7 1351.5,67.6 1352.0,66.6 1352.5,66.4 1353.0,65.8 1353.5,66.4 1354.0,67.9 1354.5,70.3 1355.0,76.9 1355.5,91.8 1356.0,118.9 1356.5,157.7 1357.0,197.1 1357.5,220.4 1358.0,215.3 1358.5,185.3 1359.0,145.2 1359.5,111.1 1360.0,89.0 1360.5,79.1 1361.0,81.9 1361.5,97.3 1362.0,124.1 1362.5,150.3 1363.0,156.5 1363.5,136.9 1364.0,107.5 1364.5,84.6 1365.0,71.8 1365.5,66.6 1366.0,64.9 1366.5,62.7 1367.0,61.7 1367.5,61.6 1368.0,59.5 1368.5,58.1 1369.0,59.0 1369.5,59.4 1370.0,59.1 1370.5,60.2 1371.0,61.7 1371.5,60.4 1372.0,59.3 1372.5,58.6 1373.0,58.1 1373.5,58.2 1374.0,58.4 1374.5,57.0 1375.0,54.9 1375.5,56.0 1376.0,58.6 1376.5,58.3 1377.0,55.3 1377.5,53.1 1378.0,53.0 1378.5,55.8 1379.0,58.4 1379.5,60.0 1380.0,60.6 1380.5,58.3 1381.0,56.5 1381.5,56.0 1382.0,54.5 1382.5,53.6 1383.0,54.6 1383.5,55.8 1384.0,54.9 1384.5,52.9 1385.0,53.0 1385.5,55.3 1386.0,56.3 1386.5,55.2 1387.0,55.3 1387.5,55.7 1388.0,54.2 1388.5,53.6 1389.0,54.4 1389.5,54.4 1390.0,54.8 1390.5,55.7" fill="none" stroke="#2a8a98" stroke-width="1.6" stroke-dasharray="6.5,3,2,3" stroke-linejoin="round"/>
<path d="M808.0,53.2 808.5,54.1 809.0,55.4 809.5,55.2 810.0,54.0 810.5,54.1 811.0,55.8 811.5,58.5 812.0,59.4 812.5,57.6 813.0,55.4 813.5,55.4 814.0,54.1 814.5,50.7 815.0,50.0 815.5,52.2 816.0,54.0 816.5,53.9 817.0,54.2 817.5,54.6 818.0,55.1 818.5,56.6 819.0,57.3 819.5,55.8 820.0,52.9 820.5,51.1 821.0,52.8 821.5,54.3 822.0,53.8 822.5,52.4 823.0,51.7 823.5,51.9 824.0,52.2 824.5,51.9 825.0,52.9 825.5,53.7 826.0,53.0 826.5,52.8 827.0,53.5 827.5,53.5 828.0,50.9 828.5,49.4 829.0,51.7 829.5,53.2 830.0,53.1 830.5,53.5 831.0,53.7 831.5,53.3 832.0,53.8 832.5,53.5 833.0,51.8 833.5,50.6 834.0,50.4 834.5,50.6 835.0,51.6 835.5,52.2 836.0,52.1 836.5,52.3 837.0,53.1 837.5,54.7 838.0,55.5 838.5,53.7 839.0,52.1 839.5,52.4 840.0,51.6 840.5,51.6 841.0,53.1 841.5,52.9 842.0,52.7 842.5,54.7 843.0,55.8 843.5,56.0 844.0,55.9 844.5,54.8 845.0,54.4 845.5,52.5 846.0,51.3 846.5,51.2 847.0,51.3 847.5,52.7 848.0,53.4 848.5,54.2 849.0,54.7 849.5,54.5 850.0,54.0 850.5,53.1 851.0,53.7 851.5,54.3 852.0,53.3 852.5,53.1 853.0,54.8 853.5,55.8 854.0,55.5 854.5,55.0 855.0,53.1 855.5,51.0 856.0,52.2 856.5,54.5 857.0,55.0 857.5,54.3 858.0,54.1 858.5,53.5 859.0,52.6 859.5,54.0 860.0,55.9 860.5,56.4 861.0,55.7 861.5,55.6 862.0,56.1 862.5,57.1 863.0,55.9 863.5,54.1 864.0,54.0 864.5,53.3 865.0,52.6 865.5,52.3 866.0,52.0 866.5,52.9 867.0,54.3 867.5,54.9 868.0,54.3 868.5,53.9 869.0,53.7 869.5,54.7 870.0,56.8 870.5,58.5 871.0,58.8 871.5,56.7 872.0,55.0 872.5,55.0 873.0,54.8 873.5,53.9 874.0,52.4 874.5,52.8 875.0,53.8 875.5,54.1 876.0,54.6 876.5,55.2 877.0,55.7 877.5,55.4 878.0,53.9 878.5,52.6 879.0,52.4 879.5,53.0 880.0,54.7 880.5,56.4 881.0,57.5 881.5,57.6 882.0,58.1 882.5,58.5 883.0,57.5 883.5,56.8 884.0,57.3 884.5,57.5 885.0,57.1 885.5,56.5 886.0,56.2 886.5,56.6 887.0,58.1 887.5,60.3 888.0,61.1 888.5,61.0 889.0,61.3 889.5,60.9 890.0,59.7 890.5,59.2 891.0,59.0 891.5,58.7 892.0,58.1 892.5,59.0 893.0,60.4 893.5,59.5 894.0,56.4 894.5,54.4 895.0,56.0 895.5,58.6 896.0,59.9 896.5,61.3 897.0,62.1 897.5,63.0 898.0,63.7 898.5,63.2 899.0,62.1 899.5,60.2 900.0,58.4 900.5,58.9 901.0,61.3 901.5,62.0 902.0,62.8 902.5,63.5 903.0,62.5 903.5,62.5 904.0,64.3 904.5,66.2 905.0,66.4 905.5,66.3 906.0,66.9 906.5,67.5 907.0,66.7 907.5,65.3 908.0,64.7 908.5,64.9 909.0,66.3 909.5,68.7 910.0,68.3 910.5,66.2 911.0,66.5 911.5,68.4 912.0,69.6 912.5,69.5 913.0,67.7 913.5,66.1 914.0,65.7 914.5,64.3 915.0,63.2 915.5,63.0 916.0,63.5 916.5,63.3 917.0,62.6 917.5,63.5 918.0,65.8 918.5,67.6 919.0,67.7 919.5,67.2 920.0,67.7 920.5,66.1 921.0,62.3 921.5,61.9 922.0,63.3 922.5,62.9 923.0,64.0 923.5,67.8 924.0,70.2 924.5,68.8 925.0,67.2 925.5,65.5 926.0,64.1 926.5,63.4 927.0,63.9 927.5,65.0 928.0,65.8 928.5,67.2 929.0,68.3 929.5,68.0 930.0,66.6 930.5,65.5 931.0,64.9 931.5,64.5 932.0,62.8 932.5,61.4 933.0,62.2 933.5,61.5 934.0,59.2 934.5,59.0 935.0,60.5 935.5,61.6 936.0,62.6 936.5,64.0 937.0,65.7 937.5,68.2 938.0,68.9 938.5,67.1 939.0,65.0 939.5,62.5 940.0,61.6 940.5,62.6 941.0,63.8 941.5,65.6 942.0,66.9 942.5,67.7 943.0,70.0 943.5,71.4 944.0,69.6 944.5,68.1 945.0,66.8 945.5,65.0 946.0,64.2 946.5,65.7 947.0,67.3 947.5,68.3 948.0,69.1 948.5,68.7 949.0,66.4 949.5,65.6 950.0,65.4 950.5,65.5 951.0,67.7 951.5,68.9 952.0,68.1 952.5,66.9 953.0,64.3 953.5,63.1 954.0,64.8 954.5,67.2 955.0,68.0 955.5,66.4 956.0,64.3 956.5,65.4 957.0,67.4 957.5,67.7 958.0,67.7 958.5,65.7 959.0,63.8 959.5,65.6 960.0,68.3 960.5,70.1 961.0,69.8 961.5,68.0 962.0,67.8 962.5,68.5 963.0,68.3 963.5,68.0 964.0,69.1 964.5,70.1 965.0,68.1 965.5,65.0 966.0,63.3 966.5,62.4 967.0,63.2 967.5,64.8 968.0,65.1 968.5,65.7 969.0,66.4 969.5,64.9 970.0,62.9 970.5,63.2 971.0,66.3 971.5,67.5 972.0,66.6 972.5,66.6 973.0,67.1 973.5,68.1 974.0,69.3 974.5,70.4 975.0,70.6 975.5,70.8 976.0,72.0 976.5,72.9 977.0,73.2 977.5,74.0 978.0,75.2 978.5,75.4 979.0,76.0 979.5,77.3 980.0,79.2 980.5,80.2 981.0,81.2 981.5,84.1 982.0,87.4 982.5,90.1 983.0,92.4 983.5,95.0 984.0,97.5 984.5,100.9 985.0,107.4 985.5,116.2 986.0,125.7 986.5,137.0 987.0,154.3 987.5,182.9 988.0,230.8 988.5,295.9 989.0,357.6 989.5,396.3 990.0,413.3 990.5,418.1 991.0,415.4 991.5,403.6 992.0,378.6 992.5,344.4 993.0,319.6 993.5,322.6 994.0,352.9 994.5,389.9 995.0,414.4 995.5,424.6 996.0,427.7 996.5,428.3 997.0,427.4 997.5,423.7 998.0,412.5 998.5,389.4 999.0,360.1 999.5,340.3 1000.0,335.7 1000.5,333.4 1001.0,322.1 1001.5,311.0 1002.0,314.2 1002.5,327.6 1003.0,332.8 1003.5,327.1 1004.0,330.6 1004.5,348.4 1005.0,360.7 1005.5,351.6 1006.0,318.1 1006.5,270.0 1007.0,228.4 1007.5,208.2 1008.0,212.2 1008.5,245.7 1009.0,299.7 1009.5,344.3 1010.0,360.0 1010.5,341.4 1011.0,287.4 1011.5,213.7 1012.0,155.6 1012.5,126.0 1013.0,113.1 1013.5,106.1 1014.0,101.5 1014.5,97.8 1015.0,94.1 1015.5,92.2 1016.0,91.8 1016.5,89.4 1017.0,85.7 1017.5,82.8 1018.0,80.5 1018.5,78.5 1019.0,77.6 1019.5,77.6 1020.0,78.3 1020.5,77.5 1021.0,75.8 1021.5,74.9 1022.0,75.4 1022.5,76.0 1023.0,75.6 1023.5,74.5 1024.0,73.1 1024.5,74.0 1025.0,76.9 1025.5,78.9 1026.0,77.2 1026.5,74.5 1027.0,74.9 1027.5,76.2 1028.0,76.4 1028.5,78.1 1029.0,82.0 1029.5,88.2 1030.0,90.9 1030.5,86.1 1031.0,79.7 1031.5,76.2 1032.0,75.5 1032.5,74.7 1033.0,74.0 1033.5,74.9 1034.0,76.0 1034.5,76.3 1035.0,76.9 1035.5,76.8 1036.0,76.2 1036.5,76.6 1037.0,77.6 1037.5,78.5 1038.0,76.9 1038.5,73.6 1039.0,72.3 1039.5,73.3 1040.0,74.5 1040.5,74.0 1041.0,71.4 1041.5,69.4 1042.0,69.8 1042.5,72.5 1043.0,74.0 1043.5,73.5 1044.0,72.4 1044.5,72.9 1045.0,74.4 1045.5,75.3 1046.0,75.6 1046.5,74.0 1047.0,71.6 1047.5,70.8 1048.0,70.1 1048.5,68.3 1049.0,67.5 1049.5,69.6 1050.0,70.5 1050.5,68.2 1051.0,66.7 1051.5,67.9 1052.0,68.6 1052.5,67.6 1053.0,65.8 1053.5,66.3 1054.0,68.0 1054.5,69.3 1055.0,68.1 1055.5,65.3 1056.0,65.0 1056.5,66.5 1057.0,67.0 1057.5,68.0 1058.0,69.1 1058.5,69.9 1059.0,69.6 1059.5,67.4 1060.0,65.8 1060.5,67.4 1061.0,68.8 1061.5,67.3 1062.0,66.4 1062.5,67.2 1063.0,66.9 1063.5,64.1 1064.0,61.4 1064.5,62.3 1065.0,63.9 1065.5,63.1 1066.0,61.0 1066.5,60.3 1067.0,61.2 1067.5,60.7 1068.0,60.0 1068.5,62.1 1069.0,64.2 1069.5,63.6 1070.0,61.6 1070.5,61.4 1071.0,62.9 1071.5,63.8 1072.0,62.8 1072.5,60.9 1073.0,60.5 1073.5,61.5 1074.0,63.1 1074.5,64.8 1075.0,64.9 1075.5,65.1 1076.0,64.8 1076.5,63.8 1077.0,62.7 1077.5,61.5 1078.0,60.8 1078.5,61.0 1079.0,59.8 1079.5,58.6 1080.0,59.8 1080.5,61.4 1081.0,61.4 1081.5,61.0 1082.0,60.6 1082.5,60.7 1083.0,61.6 1083.5,62.0 1084.0,61.1 1084.5,60.8 1085.0,60.0 1085.5,60.7 1086.0,62.3 1086.5,61.5 1087.0,59.3 1087.5,58.3 1088.0,59.9 1088.5,62.4 1089.0,63.9 1089.5,64.4 1090.0,65.2 1090.5,66.6 1091.0,67.2 1091.5,66.0 1092.0,62.5 1092.5,60.7 1093.0,60.5 1093.5,59.7 1094.0,58.2 1094.5,57.2 1095.0,57.5 1095.5,57.1 1096.0,57.1 1096.5,57.9 1097.0,58.4 1097.5,58.3 1098.0,58.4 1098.5,58.7 1099.0,60.7 1099.5,63.7 1100.0,66.3 1100.5,66.0 1101.0,63.8 1101.5,62.2 1102.0,62.0 1102.5,62.0 1103.0,61.9 1103.5,62.3 1104.0,62.2 1104.5,61.1 1105.0,59.7 1105.5,59.6 1106.0,61.7 1106.5,64.1 1107.0,63.0 1107.5,60.7 1108.0,60.5 1108.5,60.9 1109.0,61.7 1109.5,63.1 1110.0,65.4 1110.5,66.0 1111.0,64.3 1111.5,63.2 1112.0,63.3 1112.5,63.4 1113.0,62.6 1113.5,62.5 1114.0,63.2 1114.5,62.9 1115.0,62.1 1115.5,61.7 1116.0,62.4 1116.5,63.9 1117.0,64.2 1117.5,63.7 1118.0,63.0 1118.5,62.2 1119.0,60.9 1119.5,60.3 1120.0,60.6 1120.5,60.0 1121.0,58.6 1121.5,60.2 1122.0,63.7 1122.5,64.6 1123.0,63.5 1123.5,63.9 1124.0,63.9 1124.5,61.1 1125.0,59.7 1125.5,61.2 1126.0,61.2 1126.5,60.4 1127.0,56.8 1127.5,53.6 1128.0,52.6 1128.5,52.8 1129.0,54.6 1129.5,55.2 1130.0,53.2 1130.5,53.4 1131.0,55.6 1131.5,57.1 1132.0,57.9 1132.5,58.6 1133.0,57.6 1133.5,54.5 1134.0,53.4 1134.5,55.5 1135.0,56.6 1135.5,56.2 1136.0,55.6 1136.5,54.2 1137.0,53.6 1137.5,54.3 1138.0,55.9 1138.5,56.2 1139.0,56.2 1139.5,57.0 1140.0,54.7 1140.5,51.7 1141.0,49.4 1141.5,47.4 1142.0,47.0 1142.5,49.1 1143.0,52.6 1143.5,55.9 1144.0,56.1 1144.5,54.3 1145.0,53.1 1145.5,52.5 1146.0,52.7 1146.5,52.7 1147.0,53.3 1147.5,55.7 1148.0,56.0 1148.5,54.4 1149.0,53.2 1149.5,54.6 1150.0,55.9 1150.5,54.2 1151.0,52.0 1151.5,52.5 1152.0,54.0 1152.5,53.5 1153.0,52.0 1153.5,52.0 1154.0,52.0 1154.5,52.5 1155.0,55.3 1155.5,54.9 1156.0,51.3 1156.5,51.1 1157.0,53.1 1157.5,53.6 1158.0,53.9 1158.5,54.5 1159.0,53.6 1159.5,52.4 1160.0,55.0 1160.5,59.2 1161.0,59.2 1161.5,56.3 1162.0,53.8 1162.5,52.4 1163.0,52.2 1163.5,54.1 1164.0,55.1 1164.5,54.2 1165.0,53.7 1165.5,53.9 1166.0,55.7 1166.5,57.7 1167.0,56.8 1167.5,54.5 1168.0,54.5 1168.5,55.3 1169.0,54.5 1169.5,54.3 1170.0,54.2 1170.5,53.5 1171.0,53.8 1171.5,54.3 1172.0,54.5 1172.5,53.8 1173.0,53.8 1173.5,54.1 1174.0,52.6 1174.5,51.9 1175.0,52.5 1175.5,53.3 1176.0,55.0 1176.5,57.1 1177.0,57.0 1177.5,55.0 1178.0,55.4 1178.5,58.6 1179.0,61.2 1179.5,60.9 1180.0,57.8 1180.5,56.0 1181.0,56.9 1181.5,58.1 1182.0,58.4 1182.5,57.7 1183.0,57.1 1183.5,57.3 1184.0,56.2 1184.5,55.6 1185.0,56.6 1185.5,57.9 1186.0,57.1 1186.5,57.3 1187.0,58.4 1187.5,58.7 1188.0,58.3 1188.5,57.4 1189.0,54.9 1189.5,53.3 1190.0,53.5 1190.5,53.6 1191.0,53.7 1191.5,52.9 1192.0,51.2 1192.5,51.3 1193.0,53.1 1193.5,55.0 1194.0,56.0 1194.5,56.9 1195.0,58.1 1195.5,59.0 1196.0,58.2 1196.5,57.5 1197.0,59.4 1197.5,63.8 1198.0,66.2 1198.5,67.9 1199.0,71.5 1199.5,77.3 1200.0,83.1 1200.5,90.3 1201.0,98.8 1201.5,104.0 1202.0,102.1 1202.5,98.8 1203.0,97.5 1203.5,94.7 1204.0,89.6 1204.5,86.8 1205.0,85.5 1205.5,82.1 1206.0,75.7 1206.5,70.1 1207.0,65.9 1207.5,63.6 1208.0,63.5 1208.5,63.5 1209.0,64.1 1209.5,64.3 1210.0,63.6 1210.5,62.4 1211.0,62.0 1211.5,63.0 1212.0,62.3 1212.5,59.7 1213.0,58.3 1213.5,60.0 1214.0,63.9 1214.5,66.4 1215.0,67.5 1215.5,68.4 1216.0,67.0 1216.5,64.2 1217.0,63.2 1217.5,65.5 1218.0,67.3 1218.5,67.9 1219.0,67.2 1219.5,65.7 1220.0,64.5 1220.5,64.8 1221.0,66.8 1221.5,69.4 1222.0,70.9 1222.5,71.6 1223.0,72.9 1223.5,75.5 1224.0,76.9 1224.5,74.2 1225.0,70.9 1225.5,70.8 1226.0,72.1 1226.5,72.2 1227.0,72.8 1227.5,73.4 1228.0,73.4 1228.5,73.3 1229.0,73.7 1229.5,73.6 1230.0,73.1 1230.5,74.3 1231.0,75.6 1231.5,74.4 1232.0,72.4 1232.5,71.3 1233.0,70.7 1233.5,70.7 1234.0,70.2 1234.5,71.4 1235.0,73.0 1235.5,73.7 1236.0,75.1 1236.5,75.9 1237.0,75.2 1237.5,74.2 1238.0,73.1 1238.5,72.9 1239.0,73.2 1239.5,73.9 1240.0,74.3 1240.5,73.7 1241.0,73.9 1241.5,76.6 1242.0,79.8 1242.5,80.6 1243.0,81.8 1243.5,86.9 1244.0,93.1 1244.5,105.9 1245.0,141.1 1245.5,203.8 1246.0,275.8 1246.5,323.7 1247.0,332.3 1247.5,304.5 1248.0,258.4 1248.5,233.7 1249.0,251.9 1249.5,292.1 1250.0,328.4 1250.5,349.3 1251.0,352.0 1251.5,336.2 1252.0,302.9 1252.5,255.7 1253.0,205.3 1253.5,165.0 1254.0,138.5 1254.5,121.6 1255.0,112.9 1255.5,110.2 1256.0,110.4 1256.5,111.5 1257.0,112.4 1257.5,112.1 1258.0,108.4 1258.5,105.6 1259.0,104.3 1259.5,103.1 1260.0,102.3 1260.5,102.9 1261.0,107.4 1261.5,124.5 1262.0,166.4 1262.5,230.9 1263.0,289.0 1263.5,313.4 1264.0,295.7 1264.5,244.1 1265.0,188.7 1265.5,171.6 1266.0,199.0 1266.5,229.4 1267.0,218.9 1267.5,173.2 1268.0,128.4 1268.5,104.7 1269.0,95.9 1269.5,91.2 1270.0,89.5 1270.5,90.6 1271.0,94.4 1271.5,100.8 1272.0,108.5 1272.5,115.1 1273.0,113.7 1273.5,105.5 1274.0,98.2 1274.5,95.4 1275.0,95.0 1275.5,97.0 1276.0,105.1 1276.5,120.4 1277.0,134.5 1277.5,132.1 1278.0,116.4 1278.5,103.5 1279.0,98.2 1279.5,96.1 1280.0,94.7 1280.5,95.0 1281.0,96.3 1281.5,96.2 1282.0,94.6 1282.5,94.7 1283.0,97.7 1283.5,105.3 1284.0,118.0 1284.5,131.7 1285.0,136.8 1285.5,128.8 1286.0,115.0 1286.5,104.1 1287.0,98.6 1287.5,96.7 1288.0,96.4 1288.5,95.7 1289.0,94.7 1289.5,93.7 1290.0,94.0 1290.5,96.5 1291.0,101.0 1291.5,107.3 1292.0,112.1 1292.5,111.3 1293.0,107.0 1293.5,102.4 1294.0,98.5 1294.5,94.4 1295.0,90.8 1295.5,90.8 1296.0,93.1 1296.5,94.5 1297.0,96.2 1297.5,100.0 1298.0,106.3 1298.5,116.9 1299.0,135.3 1299.5,162.8 1300.0,195.9 1300.5,219.6 1301.0,220.7 1301.5,198.6 1302.0,164.0 1302.5,131.0 1303.0,109.5 1303.5,98.8 1304.0,95.2 1304.5,93.4 1305.0,92.1 1305.5,91.3 1306.0,90.9 1306.5,91.9 1307.0,91.0 1307.5,88.9 1308.0,89.3 1308.5,90.8 1309.0,92.2 1309.5,92.7 1310.0,94.2 1310.5,101.1 1311.0,110.7 1311.5,118.1 1312.0,120.0 1312.5,114.7 1313.0,107.0 1313.5,99.3 1314.0,93.2 1314.5,91.7 1315.0,92.7 1315.5,93.7 1316.0,92.6 1316.5,90.2 1317.0,88.1 1317.5,86.9 1318.0,86.8 1318.5,88.1 1319.0,89.7 1319.5,90.2 1320.0,90.4 1320.5,92.5 1321.0,95.6 1321.5,99.2 1322.0,101.4 1322.5,101.4 1323.0,98.3 1323.5,93.7 1324.0,90.3 1324.5,89.0 1325.0,88.8 1325.5,89.5 1326.0,89.2 1326.5,89.8 1327.0,93.1 1327.5,98.0 1328.0,109.0 1328.5,132.8 1329.0,171.9 1329.5,213.6 1330.0,233.0 1330.5,215.7 1331.0,175.8 1331.5,137.4 1332.0,116.0 1332.5,114.2 1333.0,132.4 1333.5,171.1 1334.0,217.8 1334.5,249.4 1335.0,244.4 1335.5,204.7 1336.0,154.7 1336.5,118.1 1337.0,99.7 1337.5,91.0 1338.0,86.2 1338.5,83.9 1339.0,83.5 1339.5,83.4 1340.0,84.4 1340.5,85.7 1341.0,84.1 1341.5,82.9 1342.0,83.6 1342.5,82.9 1343.0,82.0 1343.5,83.8 1344.0,86.3 1344.5,86.1 1345.0,85.4 1345.5,88.5 1346.0,98.7 1346.5,115.2 1347.0,134.7 1347.5,145.7 1348.0,137.7 1348.5,118.0 1349.0,99.9 1349.5,89.8 1350.0,84.5 1350.5,81.4 1351.0,80.3 1351.5,80.4 1352.0,80.1 1352.5,80.5 1353.0,83.5 1353.5,86.9 1354.0,88.7 1354.5,89.7 1355.0,94.0 1355.5,105.6 1356.0,128.3 1356.5,162.7 1357.0,200.0 1357.5,222.9 1358.0,218.5 1358.5,190.5 1359.0,154.7 1359.5,125.1 1360.0,105.6 1360.5,95.2 1361.0,97.4 1361.5,112.5 1362.0,135.2 1362.5,154.5 1363.0,158.2 1363.5,143.3 1364.0,120.7 1364.5,100.8 1365.0,90.8 1365.5,87.8 1366.0,84.5 1366.5,81.0 1367.0,79.4 1367.5,78.6 1368.0,77.4 1368.5,77.3 1369.0,77.4 1369.5,77.8 1370.0,79.2 1370.5,81.1 1371.0,83.1 1371.5,84.6 1372.0,83.7 1372.5,80.0 1373.0,80.3 1373.5,84.2 1374.0,85.3 1374.5,82.6 1375.0,80.6 1375.5,82.5 1376.0,85.2 1376.5,84.3 1377.0,80.0 1377.5,76.8 1378.0,78.4 1378.5,79.8 1379.0,78.5 1379.5,78.0 1380.0,79.7 1380.5,81.3 1381.0,81.4 1381.5,82.8 1382.0,84.7 1382.5,84.3 1383.0,82.0 1383.5,81.1 1384.0,81.6 1384.5,83.7 1385.0,85.8 1385.5,84.5 1386.0,83.3 1386.5,83.8 1387.0,83.1 1387.5,81.8 1388.0,81.2 1388.5,80.7 1389.0,81.5 1389.5,83.9 1390.0,86.3 1390.5,86.2" fill="none" stroke="#cc30b8" stroke-width="1.6" stroke-dasharray="5,2.5,2,2.5,2,2.5" stroke-linejoin="round"/>
<path d="M808.0,40.3 V436.8 M808.0,433.6 H1390.9" fill="none" stroke="#1a1a1a" stroke-width="1.9"/>
<path d="M801.0,429.8 H808.0 M803.5,391.1 H808.0 M801.0,352.3 H808.0 M803.5,313.6 H808.0 M801.0,274.8 H808.0 M803.5,236.1 H808.0 M801.0,197.3 H808.0 M803.5,158.6 H808.0 M801.0,119.8 H808.0 M803.5,81.1 H808.0 M801.0,42.3 H808.0 M808.0,433.6 V440.6 M851.5,433.6 V438.1 M895.0,433.6 V440.6 M938.5,433.6 V438.1 M982.0,433.6 V440.6 M1025.5,433.6 V438.1 M1069.0,433.6 V440.6 M1112.5,433.6 V438.1 M1156.0,433.6 V440.6 M1199.5,433.6 V438.1 M1243.0,433.6 V440.6 M1286.5,433.6 V438.1 M1330.0,433.6 V440.6 M1373.5,433.6 V438.1" fill="none" stroke="#1a1a1a" stroke-width="1.8"/>
<text x="796.5" y="436.90000000000003" font-size="20" text-anchor="end" font-weight="normal" fill="#222" >0.0</text>
<text x="796.5" y="359.40000000000003" font-size="20" text-anchor="end" font-weight="normal" fill="#222" >0.2</text>
<text x="796.5" y="281.90000000000003" font-size="20" text-anchor="end" font-weight="normal" fill="#222" >0.4</text>
<text x="796.5" y="204.4" font-size="20" text-anchor="end" font-weight="normal" fill="#222" >0.6</text>
<text x="796.5" y="126.9" font-size="20" text-anchor="end" font-weight="normal" fill="#222" >0.8</text>
<text x="796.5" y="49.40000000000001" font-size="20" text-anchor="end" font-weight="normal" fill="#222" >1.0</text>
<text x="808.0" y="460.8" font-size="20" text-anchor="middle" font-weight="normal" fill="#222" >4000</text>
<text x="895.0" y="460.8" font-size="20" text-anchor="middle" font-weight="normal" fill="#222" >3500</text>
<text x="982.0" y="460.8" font-size="20" text-anchor="middle" font-weight="normal" fill="#222" >3000</text>
<text x="1069.0" y="460.8" font-size="20" text-anchor="middle" font-weight="normal" fill="#222" >2500</text>
<text x="1156.0" y="460.8" font-size="20" text-anchor="middle" font-weight="normal" fill="#222" >2000</text>
<text x="1243.0" y="460.8" font-size="20" text-anchor="middle" font-weight="normal" fill="#222" >1500</text>
<text x="1330.0" y="460.8" font-size="20" text-anchor="middle" font-weight="normal" fill="#222" >1000</text>
<rect x="104.7" y="127.2" width="240.3" height="168.8" fill="#fff" stroke="#a8a8a8" stroke-width="1.3"/>
<path d="M132.2,163.7 133.5,159.7 134.7,160.0 136.0,163.8 137.3,162.7 138.5,165.5 139.8,164.4 141.1,162.8 142.3,160.8 143.6,163.2 144.9,164.8 146.1,164.0 147.4,164.6 148.7,164.5 149.9,166.4 151.2,168.2 152.5,165.1 153.7,167.6 155.0,165.7 156.3,166.9 157.5,163.5 158.8,165.8 160.1,168.3 161.3,165.7 162.6,167.5 163.9,166.0 165.1,169.1 166.4,171.3 167.6,170.2 168.9,170.1 170.2,171.3 171.4,171.2 172.7,170.8 174.0,173.6 175.2,173.3 176.5,172.2 177.8,170.7 179.0,172.4 180.3,171.8 181.6,173.9 182.8,173.6 184.1,174.2 185.4,176.8 186.6,173.6 187.9,179.4 189.2,177.6 190.4,171.3 191.7,170.6 193.0,171.7 194.2,176.6 195.5,177.8 196.8,175.3 198.0,176.3 199.3,176.0 200.6,176.9 201.8,176.7 203.1,173.7 204.4,176.4 205.6,176.8 206.9,176.8 208.2,181.2 209.4,175.4 210.7,180.5 212.0,181.3 213.2,179.8 214.5,184.7 215.8,182.0 217.0,179.8 218.3,183.4 219.6,182.2 220.8,182.8 222.1,182.9 223.4,179.6 224.6,181.2 225.9,182.0 227.2,182.4 228.4,185.0 229.7,186.3 231.0,184.5 232.2,178.4 233.5,182.8 234.7,181.7 236.0,183.6 237.3,181.7 238.5,183.9 239.8,183.4 241.1,186.7 242.3,181.6 243.6,188.2 244.9,187.0 246.1,190.5 247.4,188.9 248.7,188.7 249.9,185.6 251.2,187.5 252.5,185.6 253.7,185.0 255.0,184.4 256.3,189.0 257.5,187.4 258.8,187.8 260.1,189.5 261.3,192.5 262.6,193.4 263.9,188.9 265.1,188.9 266.4,193.5 267.7,197.4 268.9,194.1 270.2,195.0 271.5,196.1 272.7,194.2 274.0,192.0 275.3,192.1 276.5,191.6 277.8,195.2 279.1,194.7 280.3,193.6 281.6,195.8 282.9,191.1 284.1,192.4 285.4,193.7 286.7,192.8 287.9,196.4 289.2,195.2 290.5,194.0 291.7,194.5 293.0,194.2 294.3,196.1 295.5,192.1 296.8,193.9 298.1,197.1 299.3,196.9 300.6,195.2 301.8,190.9 303.1,196.1 304.4,197.9 305.6,197.3 306.9,193.7 308.2,193.1 309.4,191.6 310.7,189.9 312.0,188.0 313.2,191.6 314.5,191.2 315.8,190.5 317.0,194.6 318.3,190.6 319.6,191.6 320.8,188.5 322.1,189.6 323.4,190.0 324.6,186.8 325.9,182.1 327.2,184.2 328.4,185.8 329.7,187.3 331.0,188.6 332.2,183.6 333.5,180.1" fill="none" stroke="#f090dc" stroke-width="1.0" stroke-dasharray="3,1"/>
<path d="M132.2,160.8 133.5,162.8 134.7,159.3 136.0,159.7 137.3,162.1 138.5,162.5 139.8,161.6 141.1,164.7 142.3,166.2 143.6,169.6 144.9,167.4 146.1,163.4 147.4,166.8 148.7,165.2 149.9,163.6 151.2,168.6 152.5,169.4 153.7,164.3 155.0,164.0 156.3,170.3 157.5,168.4 158.8,168.2 160.1,166.1 161.3,168.3 162.6,171.1 163.9,172.1 165.1,170.0 166.4,169.0 167.6,170.3 168.9,171.7 170.2,170.0 171.4,173.3 172.7,173.0 174.0,178.3 175.2,173.3 176.5,170.4 177.8,174.3 179.0,178.0 180.3,173.4 181.6,174.9 182.8,177.2 184.1,177.9 185.4,179.6 186.6,174.8 187.9,178.9 189.2,177.6 190.4,178.2 191.7,173.8 193.0,178.0 194.2,176.5 195.5,175.0 196.8,178.8 198.0,178.9 199.3,172.7 200.6,174.3 201.8,180.7 203.1,178.5 204.4,176.6 205.6,181.7 206.9,181.2 208.2,179.6 209.4,177.9 210.7,177.3 212.0,181.0 213.2,173.8 214.5,180.6 215.8,182.3 217.0,183.8 218.3,182.6 219.6,180.8 220.8,178.0 222.1,180.3 223.4,178.2 224.6,183.6 225.9,181.5 227.2,181.8 228.4,181.5 229.7,178.1 231.0,176.5 232.2,180.0 233.5,183.2 234.7,181.7 236.0,181.5 237.3,181.8 238.5,181.0 239.8,180.3 241.1,178.2 242.3,181.0 243.6,177.7 244.9,181.6 246.1,177.8 247.4,182.3 248.7,179.0 249.9,184.8 251.2,183.3 252.5,180.0 253.7,181.3 255.0,180.3 256.3,180.8 257.5,180.3 258.8,179.3 260.1,183.4 261.3,181.0 262.6,180.8 263.9,180.3 265.1,176.9 266.4,180.5 267.7,180.6 268.9,182.7 270.2,183.4 271.5,183.0 272.7,180.6 274.0,179.9 275.3,180.4 276.5,180.2 277.8,182.5 279.1,180.7 280.3,181.5 281.6,183.2 282.9,177.1 284.1,179.6 285.4,181.9 286.7,182.9 287.9,180.7 289.2,181.9 290.5,177.2 291.7,177.3 293.0,184.3 294.3,183.3 295.5,179.2 296.8,178.7 298.1,182.7 299.3,179.2 300.6,179.4 301.8,177.8 303.1,179.4 304.4,175.8 305.6,181.2 306.9,178.1 308.2,181.4 309.4,183.3 310.7,179.7 312.0,178.5 313.2,177.3 314.5,179.9 315.8,181.8 317.0,180.2 318.3,176.0 319.6,175.0 320.8,179.1 322.1,177.0 323.4,178.3 324.6,178.9 325.9,181.6 327.2,176.8 328.4,182.3 329.7,182.9 331.0,177.9 332.2,179.4 333.5,177.3" fill="none" stroke="#50a0b0" stroke-width="1.1" stroke-dasharray="3,1.5"/>
<path d="M132.2,159.2 133.5,156.3 134.7,159.9 136.0,161.0 137.3,161.5 138.5,161.4 139.8,160.6 141.1,161.5 142.3,158.9 143.6,164.1 144.9,159.5 146.1,161.0 147.4,164.2 148.7,166.5 149.9,167.5 151.2,163.2 152.5,166.0 153.7,164.1 155.0,166.3 156.3,165.9 157.5,164.9 158.8,167.6 160.1,166.8 161.3,163.0 162.6,169.5 163.9,171.5 165.1,170.0 166.4,166.1 167.6,166.3 168.9,172.5 170.2,170.6 171.4,172.4 172.7,172.2 174.0,168.6 175.2,167.2 176.5,165.2 177.8,169.2 179.0,174.1 180.3,172.8 181.6,171.4 182.8,172.9 184.1,172.4 185.4,171.5 186.6,171.0 187.9,172.3 189.2,173.8 190.4,173.1 191.7,174.9 193.0,173.4 194.2,170.9 195.5,171.7 196.8,176.2 198.0,179.0 199.3,173.5 200.6,173.9 201.8,173.0 203.1,169.6 204.4,174.2 205.6,176.2 206.9,175.4 208.2,180.5 209.4,179.7 210.7,180.0 212.0,175.6 213.2,180.6 214.5,180.0 215.8,178.3 217.0,176.1 218.3,180.0 219.6,178.5 220.8,179.2 222.1,177.6 223.4,181.1 224.6,178.6 225.9,177.6 227.2,178.4 228.4,177.4 229.7,179.2 231.0,180.0 232.2,179.0 233.5,179.5 234.7,179.1 236.0,175.1 237.3,176.6 238.5,175.9 239.8,174.8 241.1,180.4 242.3,178.8 243.6,179.4 244.9,179.3 246.1,176.4 247.4,179.3 248.7,175.4 249.9,179.7 251.2,177.6 252.5,179.4 253.7,175.3 255.0,175.9 256.3,179.2 257.5,177.1 258.8,182.8 260.1,182.0 261.3,177.6 262.6,179.5 263.9,181.7 265.1,181.0 266.4,178.2 267.7,175.9 268.9,171.2 270.2,174.7 271.5,174.4 272.7,175.7 274.0,177.9 275.3,178.4 276.5,178.6 277.8,178.8 279.1,179.3 280.3,182.1 281.6,182.5 282.9,183.0 284.1,178.5 285.4,177.3 286.7,178.2 287.9,178.1 289.2,177.7 290.5,177.1 291.7,178.1 293.0,179.5 294.3,179.3 295.5,178.7 296.8,176.9 298.1,175.6 299.3,176.2 300.6,178.4 301.8,179.5 303.1,177.6 304.4,177.1 305.6,177.0 306.9,177.0 308.2,179.3 309.4,175.1 310.7,179.8 312.0,176.3 313.2,178.4 314.5,176.6 315.8,174.4 317.0,179.9 318.3,175.7 319.6,176.9 320.8,173.0 322.1,174.1 323.4,177.5 324.6,175.6 325.9,178.4 327.2,178.8 328.4,181.3 329.7,178.3 331.0,176.1 332.2,177.5 333.5,173.8" fill="none" stroke="#a0a8e0" stroke-width="1.0" stroke-dasharray="1.2,1.2"/>
<path d="M132.2,158.3 133.5,160.4 134.7,159.6 136.0,158.9 137.3,154.7 138.5,162.3 139.8,165.8 141.1,161.5 142.3,159.2 143.6,163.5 144.9,163.2 146.1,162.0 147.4,163.6 148.7,162.6 149.9,164.7 151.2,166.6 152.5,168.3 153.7,167.1 155.0,162.1 156.3,171.0 157.5,167.8 158.8,168.9 160.1,169.9 161.3,166.1 162.6,169.1 163.9,171.2 165.1,169.7 166.4,167.5 167.6,164.9 168.9,168.7 170.2,166.7 171.4,167.4 172.7,169.4 174.0,168.9 175.2,167.2 176.5,166.8 177.8,168.3 179.0,169.1 180.3,170.4 181.6,173.9 182.8,171.3 184.1,173.0 185.4,173.6 186.6,172.5 187.9,171.4 189.2,170.6 190.4,168.8 191.7,174.3 193.0,175.3 194.2,174.8 195.5,176.5 196.8,173.7 198.0,171.2 199.3,173.2 200.6,173.1 201.8,178.5 203.1,173.6 204.4,173.7 205.6,173.1 206.9,173.8 208.2,174.5 209.4,175.0 210.7,173.5 212.0,174.8 213.2,175.6 214.5,174.9 215.8,175.3 217.0,176.2 218.3,179.4 219.6,176.5 220.8,176.0 222.1,177.5 223.4,178.1 224.6,178.1 225.9,177.5 227.2,177.9 228.4,175.0 229.7,174.1 231.0,176.4 232.2,177.4 233.5,178.3 234.7,178.0 236.0,180.0 237.3,178.8 238.5,178.6 239.8,171.6 241.1,176.5 242.3,176.8 243.6,177.9 244.9,178.4 246.1,177.4 247.4,177.0 248.7,175.8 249.9,174.9 251.2,175.4 252.5,176.0 253.7,171.8 255.0,173.2 256.3,178.9 257.5,176.4 258.8,176.6 260.1,176.9 261.3,173.7 262.6,176.3 263.9,173.1 265.1,175.2 266.4,176.0 267.7,175.2 268.9,170.9 270.2,174.0 271.5,174.2 272.7,175.7 274.0,176.5 275.3,175.1 276.5,171.7 277.8,171.4 279.1,174.2 280.3,175.2 281.6,170.7 282.9,171.5 284.1,177.5 285.4,174.8 286.7,174.2 287.9,172.2 289.2,173.5 290.5,175.6 291.7,172.4 293.0,167.0 294.3,168.9 295.5,173.9 296.8,175.8 298.1,173.5 299.3,173.0 300.6,171.4 301.8,172.2 303.1,172.9 304.4,173.0 305.6,173.9 306.9,175.9 308.2,176.4 309.4,178.2 310.7,171.1 312.0,175.1 313.2,173.1 314.5,170.4 315.8,175.4 317.0,174.3 318.3,172.2 319.6,167.8 320.8,174.7 322.1,175.6 323.4,174.7 324.6,178.6 325.9,169.7 327.2,175.9 328.4,175.9 329.7,173.5 331.0,174.0 332.2,173.1 333.5,169.6" fill="none" stroke="#e0706a" stroke-width="1.2" stroke-dasharray="1.6,1.6"/>
<path d="M132.2,203.8 133.5,197.7 134.7,198.6 136.0,198.4 137.3,193.5 138.5,193.4 139.8,193.3 141.1,193.8 142.3,194.6 143.6,196.0 144.9,199.6 146.1,195.4 147.4,194.5 148.7,195.1 149.9,199.7 151.2,199.5 152.5,202.4 153.7,200.4 155.0,202.3 156.3,198.3 157.5,200.1 158.8,205.1 160.1,201.5 161.3,202.1 162.6,202.5 163.9,204.4 165.1,206.2 166.4,206.7 167.6,204.5 168.9,204.0 170.2,205.9 171.4,209.0 172.7,206.9 174.0,205.0 175.2,209.1 176.5,210.4 177.8,209.1 179.0,207.4 180.3,210.5 181.6,211.0 182.8,209.9 184.1,214.0 185.4,214.9 186.6,207.2 187.9,207.5 189.2,211.0 190.4,210.4 191.7,213.1 193.0,214.6 194.2,212.0 195.5,213.6 196.8,214.5 198.0,217.4 199.3,218.5 200.6,216.2 201.8,211.8 203.1,210.7 204.4,214.7 205.6,219.1 206.9,217.2 208.2,216.5 209.4,213.2 210.7,222.4 212.0,217.5 213.2,221.0 214.5,223.0 215.8,214.9 217.0,213.6 218.3,221.4 219.6,221.1 220.8,219.6 222.1,219.2 223.4,219.6 224.6,219.9 225.9,216.6 227.2,214.7 228.4,220.3 229.7,221.9 231.0,223.0 232.2,218.1 233.5,217.9 234.7,222.2 236.0,221.0 237.3,218.2 238.5,216.5 239.8,219.3 241.1,218.2 242.3,219.1 243.6,220.8 244.9,219.1 246.1,218.1 247.4,217.4 248.7,220.2 249.9,218.3 251.2,222.7 252.5,221.5 253.7,219.1 255.0,215.8 256.3,216.3 257.5,218.4 258.8,215.8 260.1,214.2 261.3,211.5 262.6,213.1 263.9,213.1 265.1,209.7 266.4,212.9 267.7,212.8 268.9,216.4 270.2,214.2 271.5,214.2 272.7,212.1 274.0,208.4 275.3,210.1 276.5,213.8 277.8,211.1 279.1,208.5 280.3,212.8 281.6,214.5 282.9,216.4 284.1,210.9 285.4,218.3 286.7,216.2 287.9,216.8 289.2,215.0 290.5,217.0 291.7,216.0 293.0,219.4 294.3,222.1 295.5,224.8 296.8,222.4 298.1,219.7 299.3,218.3 300.6,223.0 301.8,221.4 303.1,223.5 304.4,227.0 305.6,227.8 306.9,226.7 308.2,228.9 309.4,231.1 310.7,221.2 312.0,228.8 313.2,226.3 314.5,225.7 315.8,227.6 317.0,227.3 318.3,231.2 319.6,225.2 320.8,223.1 322.1,219.4 323.4,221.1 324.6,213.6 325.9,220.9 327.2,223.8 328.4,218.7 329.7,219.7 331.0,219.1 332.2,220.9 333.5,223.4" fill="none" stroke="#2a2a2a" stroke-width="1.1"/>
<path d="M132.2,136.6 V269.8 H333.5" fill="none" stroke="#444" stroke-width="1.1"/>
<path d="M129.7,269.8 H132.2 M129.7,247.6 H132.2 M129.7,225.4 H132.2 M129.7,203.2 H132.2 M129.7,181.0 H132.2 M129.7,158.8 H132.2 M129.7,136.6 H132.2 M132.2,269.8 V271.8 M142.3,269.8 V271.8 M152.3,269.8 V271.8 M162.4,269.8 V271.8 M172.5,269.8 V271.8 M182.5,269.8 V271.8 M192.6,269.8 V271.8 M202.7,269.8 V271.8 M212.7,269.8 V271.8 M222.8,269.8 V271.8 M232.8,269.8 V271.8 M242.9,269.8 V271.8 M253.0,269.8 V271.8 M263.0,269.8 V271.8 M273.1,269.8 V271.8 M283.2,269.8 V271.8 M293.2,269.8 V271.8 M303.3,269.8 V271.8 M313.4,269.8 V271.8 M323.4,269.8 V271.8 M333.5,269.8 V271.8" fill="none" stroke="#555" stroke-width="0.9"/>
<text x="128.7" y="272.1" font-size="6.8" text-anchor="end" font-weight="normal" fill="#1a1a1a" stroke="#1a1a1a" stroke-width="0.25">0.85</text>
<text x="128.7" y="227.7" font-size="6.8" text-anchor="end" font-weight="normal" fill="#1a1a1a" stroke="#1a1a1a" stroke-width="0.25">0.90</text>
<text x="128.7" y="183.30000000000004" font-size="6.8" text-anchor="end" font-weight="normal" fill="#1a1a1a" stroke="#1a1a1a" stroke-width="0.25">0.95</text>
<text x="128.7" y="138.9" font-size="6.8" text-anchor="end" font-weight="normal" fill="#1a1a1a" stroke="#1a1a1a" stroke-width="0.25">1.00</text>
<text x="132.2" y="279.8" font-size="6.8" text-anchor="middle" font-weight="normal" fill="#1a1a1a" stroke="#1a1a1a" stroke-width="0.25">3600</text>
<text x="152.32999999999998" y="279.8" font-size="6.8" text-anchor="middle" font-weight="normal" fill="#1a1a1a" stroke="#1a1a1a" stroke-width="0.25">3550</text>
<text x="172.45999999999998" y="279.8" font-size="6.8" text-anchor="middle" font-weight="normal" fill="#1a1a1a" stroke="#1a1a1a" stroke-width="0.25">3500</text>
<text x="192.58999999999997" y="279.8" font-size="6.8" text-anchor="middle" font-weight="normal" fill="#1a1a1a" stroke="#1a1a1a" stroke-width="0.25">3450</text>
<text x="212.71999999999997" y="279.8" font-size="6.8" text-anchor="middle" font-weight="normal" fill="#1a1a1a" stroke="#1a1a1a" stroke-width="0.25">3400</text>
<text x="232.85" y="279.8" font-size="6.8" text-anchor="middle" font-weight="normal" fill="#1a1a1a" stroke="#1a1a1a" stroke-width="0.25">3350</text>
<text x="252.98" y="279.8" font-size="6.8" text-anchor="middle" font-weight="normal" fill="#1a1a1a" stroke="#1a1a1a" stroke-width="0.25">3300</text>
<text x="273.11" y="279.8" font-size="6.8" text-anchor="middle" font-weight="normal" fill="#1a1a1a" stroke="#1a1a1a" stroke-width="0.25">3250</text>
<text x="293.24" y="279.8" font-size="6.8" text-anchor="middle" font-weight="normal" fill="#1a1a1a" stroke="#1a1a1a" stroke-width="0.25">3200</text>
<text x="313.37" y="279.8" font-size="6.8" text-anchor="middle" font-weight="normal" fill="#1a1a1a" stroke="#1a1a1a" stroke-width="0.25">3150</text>
<text x="333.5" y="279.8" font-size="6.8" text-anchor="middle" font-weight="normal" fill="#1a1a1a" stroke="#1a1a1a" stroke-width="0.25">3100</text>
<text x="226.2" y="292.6" font-size="7.5" fill="#1a1a1a" stroke="#1a1a1a" stroke-width="0.2">cm<tspan dy="-3" font-size="4.8">-1</tspan></text>
<path d="M136.7,226.3 H153.9" stroke="#2a2a2a" stroke-width="1.3"/>
<text x="156.3" y="228.9" font-size="7.3" text-anchor="start" font-weight="normal" fill="#111" stroke="#111" stroke-width="0.3">144 h</text>
<path d="M136.7,235.4 H153.9" stroke="#e0706a" stroke-width="1.4" stroke-dasharray="1.6,1.6"/>
<text x="156.3" y="238.0" font-size="7.3" text-anchor="start" font-weight="normal" fill="#111" stroke="#111" stroke-width="0.3">256 h</text>
<path d="M136.7,244.5 H153.9" stroke="#a0a8e0" stroke-width="1.2" stroke-dasharray="1.2,1.2"/>
<text x="156.3" y="247.1" font-size="7.3" text-anchor="start" font-weight="normal" fill="#111" stroke="#111" stroke-width="0.3">288 h</text>
<path d="M136.7,253.6 H153.9" stroke="#50a0b0" stroke-width="1.3" stroke-dasharray="3,1.5"/>
<text x="156.3" y="256.20000000000005" font-size="7.3" text-anchor="start" font-weight="normal" fill="#111" stroke="#111" stroke-width="0.3">384 h</text>
<path d="M136.7,262.7 H153.9" stroke="#f090dc" stroke-width="1.2" stroke-dasharray="3,1"/>
<text x="156.3" y="265.3" font-size="7.3" text-anchor="start" font-weight="normal" fill="#111" stroke="#111" stroke-width="0.3">720 h</text>
<rect x="385.3" y="254.2" width="240.2" height="169.3" fill="#fff" stroke="#a8a8a8" stroke-width="1.3"/>
<path d="M405.8,283.7 408.2,282.8 410.6,282.3 413.0,282.7 415.3,283.1 417.7,283.2 420.1,283.6 422.5,283.5 424.9,283.6 427.3,283.4 429.6,283.8 432.0,283.9 434.4,284.9 436.8,285.7 439.2,286.0 441.6,285.6 443.9,287.0 446.3,287.7 448.7,287.9 451.1,288.5 453.5,289.0 455.9,290.2 458.2,291.2 460.6,292.1 463.0,294.6 465.4,296.4 467.8,299.4 470.2,302.0 472.5,306.3 474.9,310.8 477.3,316.0 479.7,320.9 482.1,324.8 484.5,330.4 486.8,334.6 489.2,339.2 491.6,343.3 494.0,345.8 496.4,344.8 498.8,344.2 501.1,344.3 503.5,342.8 505.9,342.3 508.3,341.0 510.7,340.6 513.1,341.1 515.4,340.5 517.8,336.5 520.2,323.1 522.6,308.7 525.0,299.2 527.4,297.3 529.7,297.7 532.1,297.4 534.5,297.0 536.9,298.3 539.3,300.1 541.7,302.8 544.1,304.0 546.4,304.3 548.8,305.5 551.2,305.7 553.6,305.4 556.0,305.0 558.4,305.3 560.7,306.7 563.1,308.1 565.5,307.8 567.9,307.7 570.3,307.7 572.7,307.8 575.0,307.0 577.4,307.1 579.8,308.5 582.2,310.2 584.6,309.7 587.0,309.5 589.3,309.3 591.7,311.0 594.1,311.2 596.5,310.8 598.9,310.7 601.3,310.8 603.6,311.6 606.0,311.8 608.4,311.7 610.8,312.2 613.2,313.3 615.6,313.8 617.9,314.3" fill="none" stroke="#f090dc" stroke-width="1.0" stroke-dasharray="3,1"/>
<path d="M405.8,281.7 408.2,281.4 410.6,282.9 413.0,283.1 415.3,282.6 417.7,283.4 420.1,283.7 422.5,282.8 424.9,283.7 427.3,283.6 429.6,284.1 432.0,284.7 434.4,285.1 436.8,284.8 439.2,285.4 441.6,286.9 443.9,287.2 446.3,287.7 448.7,287.8 451.1,287.0 453.5,289.1 455.9,289.4 458.2,291.2 460.6,292.1 463.0,295.4 465.4,297.3 467.8,299.7 470.2,301.8 472.5,306.0 474.9,308.7 477.3,313.2 479.7,319.2 482.1,323.4 484.5,327.6 486.8,333.0 489.2,337.0 491.6,339.4 494.0,339.6 496.4,337.1 498.8,336.0 501.1,332.5 503.5,329.5 505.9,326.9 508.3,324.0 510.7,321.1 513.1,318.3 515.4,314.9 517.8,312.3 520.2,310.9 522.6,310.7 525.0,309.8 527.4,308.9 529.7,308.8 532.1,308.3 534.5,308.3 536.9,307.8 539.3,307.1 541.7,307.4 544.1,307.0 546.4,307.4 548.8,307.7 551.2,307.6 553.6,307.7 556.0,308.4 558.4,308.4 560.7,309.2 563.1,309.1 565.5,309.7 567.9,311.3 570.3,312.0 572.7,312.1 575.0,312.2 577.4,312.7 579.8,313.2 582.2,314.0 584.6,314.8 587.0,315.9 589.3,315.2 591.7,314.7 594.1,316.1 596.5,316.9 598.9,317.4 601.3,318.0 603.6,318.7 606.0,319.2 608.4,319.4 610.8,320.3 613.2,321.6 615.6,320.5 617.9,321.3" fill="none" stroke="#50a0b0" stroke-width="1.1" stroke-dasharray="3,1.5"/>
<path d="M405.8,280.7 408.2,280.3 410.6,280.1 413.0,281.5 415.3,281.4 417.7,281.7 420.1,280.9 422.5,281.4 424.9,280.9 427.3,281.6 429.6,282.8 432.0,283.0 434.4,283.8 436.8,284.3 439.2,284.6 441.6,285.4 443.9,284.8 446.3,285.7 448.7,285.9 451.1,287.6 453.5,287.9 455.9,289.3 458.2,289.6 460.6,288.4 463.0,289.2 465.4,289.7 467.8,292.1 470.2,291.2 472.5,292.4 474.9,293.5 477.3,295.2 479.7,296.5 482.1,299.3 484.5,302.4 486.8,305.0 489.2,309.0 491.6,309.6 494.0,309.8 496.4,310.0 498.8,308.0 501.1,306.7 503.5,304.7 505.9,300.9 508.3,298.3 510.7,297.1 513.1,294.6 515.4,292.2 517.8,290.0 520.2,290.4 522.6,291.3 525.0,292.3 527.4,293.6 529.7,294.3 532.1,293.8 534.5,294.2 536.9,294.7 539.3,294.5 541.7,294.5 544.1,295.0 546.4,295.1 548.8,294.9 551.2,294.6 553.6,294.4 556.0,294.5 558.4,294.3 560.7,295.4 563.1,294.3 565.5,296.1 567.9,296.0 570.3,295.6 572.7,295.6 575.0,295.6 577.4,296.0 579.8,296.7 582.2,296.7 584.6,296.5 587.0,297.2 589.3,297.1 591.7,297.8 594.1,298.2 596.5,297.5 598.9,297.7 601.3,298.2 603.6,299.2 606.0,298.7 608.4,299.1 610.8,299.6 613.2,299.9 615.6,300.3 617.9,300.7" fill="none" stroke="#a0a8e0" stroke-width="1.0" stroke-dasharray="1.2,1.2"/>
<path d="M405.8,281.2 408.2,282.0 410.6,281.7 413.0,281.5 415.3,281.3 417.7,283.0 420.1,282.2 422.5,282.5 424.9,282.9 427.3,283.4 429.6,282.4 432.0,284.3 434.4,284.2 436.8,284.2 439.2,285.3 441.6,285.7 443.9,285.4 446.3,287.2 448.7,287.3 451.1,286.7 453.5,287.0 455.9,286.2 458.2,287.0 460.6,288.9 463.0,288.7 465.4,288.7 467.8,289.0 470.2,291.1 472.5,291.6 474.9,293.6 477.3,293.6 479.7,293.7 482.1,294.2 484.5,295.0 486.8,295.7 489.2,296.1 491.6,295.9 494.0,294.9 496.4,293.5 498.8,291.9 501.1,289.5 503.5,288.7 505.9,286.8 508.3,285.8 510.7,282.5 513.1,280.5 515.4,280.4 517.8,280.0 520.2,280.2 522.6,280.9 525.0,288.0 527.4,293.0 529.7,294.3 532.1,294.4 534.5,293.9 536.9,294.6 539.3,295.0 541.7,293.8 544.1,292.2 546.4,291.0 548.8,290.4 551.2,290.6 553.6,291.5 556.0,292.3 558.4,293.0 560.7,292.0 563.1,291.0 565.5,292.0 567.9,291.8 570.3,292.7 572.7,292.2 575.0,291.6 577.4,290.9 579.8,291.2 582.2,290.6 584.6,290.3 587.0,290.9 589.3,291.0 591.7,291.1 594.1,290.9 596.5,290.6 598.9,290.9 601.3,290.3 603.6,289.9 606.0,290.2 608.4,291.0 610.8,290.4 613.2,291.6 615.6,290.4 617.9,290.9" fill="none" stroke="#e0706a" stroke-width="1.2" stroke-dasharray="1.6,1.6"/>
<path d="M405.8,317.5 408.2,315.8 410.6,317.3 413.0,318.1 415.3,315.6 417.7,315.1 420.1,315.6 422.5,316.1 424.9,319.1 427.3,319.6 429.6,317.6 432.0,317.5 434.4,318.8 436.8,319.3 439.2,320.6 441.6,321.8 443.9,321.2 446.3,320.6 448.7,322.5 451.1,322.0 453.5,323.0 455.9,322.1 458.2,322.2 460.6,323.8 463.0,324.0 465.4,323.4 467.8,322.5 470.2,321.7 472.5,320.5 474.9,320.2 477.3,320.7 479.7,323.3 482.1,326.9 484.5,329.5 486.8,329.8 489.2,327.9 491.6,325.0 494.0,326.1 496.4,325.1 498.8,324.5 501.1,323.6 503.5,327.0 505.9,324.8 508.3,324.5 510.7,324.1 513.1,324.6 515.4,324.8 517.8,326.4 520.2,327.7 522.6,329.0 525.0,328.3 527.4,327.3 529.7,325.3 532.1,327.9 534.5,328.2 536.9,328.6 539.3,328.4 541.7,329.2 544.1,328.4 546.4,330.2 548.8,329.0 551.2,329.5 553.6,328.9 556.0,329.7 558.4,329.6 560.7,330.0 563.1,328.9 565.5,327.9 567.9,330.8 570.3,329.9 572.7,329.6 575.0,328.8 577.4,332.7 579.8,332.7 582.2,331.8 584.6,330.6 587.0,330.7 589.3,331.5 591.7,331.7 594.1,332.2 596.5,333.7 598.9,331.7 601.3,333.3 603.6,333.3 606.0,333.6 608.4,333.3 610.8,333.8 613.2,333.7 615.6,335.2 617.9,334.7" fill="none" stroke="#2a2a2a" stroke-width="1.1"/>
<path d="M405.8,263.5 V400.3 H617.9" fill="none" stroke="#444" stroke-width="1.1"/>
<path d="M403.3,400.3 H405.8 M403.3,383.2 H405.8 M403.3,366.1 H405.8 M403.3,349.0 H405.8 M403.3,331.9 H405.8 M403.3,314.8 H405.8 M403.3,297.7 H405.8 M403.3,280.6 H405.8 M403.3,263.5 H405.8 M405.8,400.3 V402.3 M419.9,400.3 V402.3 M434.1,400.3 V402.3 M448.2,400.3 V402.3 M462.4,400.3 V402.3 M476.5,400.3 V402.3 M490.7,400.3 V402.3 M504.8,400.3 V402.3 M518.9,400.3 V402.3 M533.1,400.3 V402.3 M547.2,400.3 V402.3 M561.4,400.3 V402.3 M575.5,400.3 V402.3 M589.7,400.3 V402.3 M603.8,400.3 V402.3 M617.9,400.3 V402.3" fill="none" stroke="#555" stroke-width="0.9"/>
<text x="402.3" y="402.6" font-size="6.8" text-anchor="end" font-weight="normal" fill="#1a1a1a" stroke="#1a1a1a" stroke-width="0.25">0.80</text>
<text x="402.3" y="368.4000000000001" font-size="6.8" text-anchor="end" font-weight="normal" fill="#1a1a1a" stroke="#1a1a1a" stroke-width="0.25">0.85</text>
<text x="402.3" y="334.20000000000005" font-size="6.8" text-anchor="end" font-weight="normal" fill="#1a1a1a" stroke="#1a1a1a" stroke-width="0.25">0.90</text>
<text x="402.3" y="300.00000000000006" font-size="6.8" text-anchor="end" font-weight="normal" fill="#1a1a1a" stroke="#1a1a1a" stroke-width="0.25">0.95</text>
<text x="402.3" y="265.8" font-size="6.8" text-anchor="end" font-weight="normal" fill="#1a1a1a" stroke="#1a1a1a" stroke-width="0.25">1.00</text>
<text x="405.8" y="410.3" font-size="6.8" text-anchor="middle" font-weight="normal" fill="#1a1a1a" stroke="#1a1a1a" stroke-width="0.25">1800</text>
<text x="434.086" y="410.3" font-size="6.8" text-anchor="middle" font-weight="normal" fill="#1a1a1a" stroke="#1a1a1a" stroke-width="0.25">1780</text>
<text x="462.372" y="410.3" font-size="6.8" text-anchor="middle" font-weight="normal" fill="#1a1a1a" stroke="#1a1a1a" stroke-width="0.25">1760</text>
<text x="490.658" y="410.3" font-size="6.8" text-anchor="middle" font-weight="normal" fill="#1a1a1a" stroke="#1a1a1a" stroke-width="0.25">1740</text>
<text x="518.944" y="410.3" font-size="6.8" text-anchor="middle" font-weight="normal" fill="#1a1a1a" stroke="#1a1a1a" stroke-width="0.25">1720</text>
<text x="547.23" y="410.3" font-size="6.8" text-anchor="middle" font-weight="normal" fill="#1a1a1a" stroke="#1a1a1a" stroke-width="0.25">1700</text>
<text x="575.516" y="410.3" font-size="6.8" text-anchor="middle" font-weight="normal" fill="#1a1a1a" stroke="#1a1a1a" stroke-width="0.25">1680</text>
<text x="603.802" y="410.3" font-size="6.8" text-anchor="middle" font-weight="normal" fill="#1a1a1a" stroke="#1a1a1a" stroke-width="0.25">1660</text>
<text x="504" y="421" font-size="7.5" fill="#1a1a1a" stroke="#1a1a1a" stroke-width="0.2">cm<tspan dy="-3" font-size="4.8">-1</tspan></text>
<path d="M410,355.2 H426.7" stroke="#2a2a2a" stroke-width="1.3"/>
<text x="429.2" y="357.8" font-size="7.3" text-anchor="start" font-weight="normal" fill="#111" stroke="#111" stroke-width="0.3">144 h</text>
<path d="M410,364.4 H426.7" stroke="#e0706a" stroke-width="1.4" stroke-dasharray="1.6,1.6"/>
<text x="429.2" y="367.05" font-size="7.3" text-anchor="start" font-weight="normal" fill="#111" stroke="#111" stroke-width="0.3">256 h</text>
<path d="M410,373.7 H426.7" stroke="#a0a8e0" stroke-width="1.2" stroke-dasharray="1.2,1.2"/>
<text x="429.2" y="376.3" font-size="7.3" text-anchor="start" font-weight="normal" fill="#111" stroke="#111" stroke-width="0.3">288 h</text>
<path d="M410,382.9 H426.7" stroke="#50a0b0" stroke-width="1.3" stroke-dasharray="3,1.5"/>
<text x="429.2" y="385.55" font-size="7.3" text-anchor="start" font-weight="normal" fill="#111" stroke="#111" stroke-width="0.3">384 h</text>
<path d="M410,392.2 H426.7" stroke="#f090dc" stroke-width="1.2" stroke-dasharray="3,1"/>
<text x="429.2" y="394.8" font-size="7.3" text-anchor="start" font-weight="normal" fill="#111" stroke="#111" stroke-width="0.3">720 h</text>
<rect x="816.5" y="123.8" width="239.5" height="169.2" fill="#fff" stroke="#a8a8a8" stroke-width="1.3"/>
<path d="M835.2,156.7 836.5,154.2 837.7,157.9 839.0,164.8 840.3,160.7 841.5,163.0 842.8,162.0 844.1,164.9 845.4,164.9 846.6,166.2 847.9,165.9 849.2,164.4 850.4,169.3 851.7,169.1 853.0,164.7 854.2,171.3 855.5,166.0 856.8,170.0 858.0,165.6 859.3,167.3 860.6,173.0 861.9,170.6 863.1,170.8 864.4,172.3 865.7,175.5 866.9,175.1 868.2,175.2 869.5,170.9 870.7,171.5 872.0,178.4 873.3,177.7 874.5,174.8 875.8,178.5 877.1,179.6 878.4,174.0 879.6,178.3 880.9,178.7 882.2,178.2 883.4,180.9 884.7,179.4 886.0,180.0 887.2,178.6 888.5,183.3 889.8,179.5 891.0,178.4 892.3,180.9 893.6,181.2 894.9,182.0 896.1,181.3 897.4,185.9 898.7,181.9 899.9,177.9 901.2,179.0 902.5,186.8 903.7,186.6 905.0,185.9 906.3,188.3 907.5,185.2 908.8,184.9 910.1,183.2 911.4,181.2 912.6,185.5 913.9,188.4 915.2,184.7 916.4,188.2 917.7,192.7 919.0,188.3 920.2,189.5 921.5,189.2 922.8,186.7 924.0,192.0 925.3,189.6 926.6,187.0 927.9,189.6 929.1,186.4 930.4,189.0 931.7,186.2 932.9,187.6 934.2,189.2 935.5,185.9 936.7,186.0 938.0,185.5 939.3,188.0 940.5,189.2 941.8,189.7 943.1,186.6 944.4,187.9 945.6,186.8 946.9,183.7 948.2,187.6 949.4,182.1 950.7,184.0 952.0,183.0 953.2,189.2 954.5,184.5 955.8,184.8 957.0,182.4 958.3,185.6 959.6,185.4 960.9,187.0 962.1,187.8 963.4,184.6 964.7,187.5 965.9,188.4 967.2,187.5 968.5,186.4 969.7,185.5 971.0,187.7 972.3,186.6 973.5,186.1 974.8,186.5 976.1,185.7 977.4,188.0 978.6,186.3 979.9,187.6 981.2,185.0 982.4,189.8 983.7,190.4 985.0,190.1 986.2,187.6 987.5,190.1 988.8,188.8 990.0,187.6 991.3,189.8 992.6,186.7 993.9,187.0 995.1,186.0 996.4,187.6 997.7,189.4 998.9,188.7 1000.2,188.7 1001.5,189.0 1002.7,185.6 1004.0,187.5 1005.3,188.0 1006.5,188.5 1007.8,192.0 1009.1,188.5 1010.4,187.2 1011.6,187.7 1012.9,191.6 1014.2,190.5 1015.4,189.9 1016.7,186.3 1018.0,186.5 1019.2,189.4 1020.5,193.4 1021.8,187.7 1023.0,185.9 1024.3,189.4 1025.6,187.4 1026.9,186.5 1028.1,192.0 1029.4,194.5 1030.7,187.2 1031.9,184.3 1033.2,185.2 1034.5,187.3 1035.7,188.0 1037.0,185.8 1038.3,186.1 1039.5,190.8 1040.8,183.5 1042.1,182.1 1043.4,182.6 1044.6,181.2 1045.9,182.3 1047.2,184.5 1048.4,182.8 1049.7,183.2" fill="none" stroke="#f090dc" stroke-width="1.0" stroke-dasharray="3,1"/>
<path d="M835.2,155.6 836.5,154.7 837.7,154.3 839.0,155.4 840.3,156.3 841.5,156.2 842.8,159.2 844.1,159.2 845.4,157.8 846.6,158.8 847.9,163.4 849.2,166.9 850.4,163.8 851.7,168.2 853.0,165.0 854.2,162.5 855.5,164.5 856.8,165.1 858.0,167.2 859.3,172.6 860.6,166.8 861.9,169.1 863.1,167.0 864.4,167.7 865.7,169.6 866.9,169.5 868.2,171.4 869.5,174.5 870.7,172.3 872.0,170.5 873.3,173.5 874.5,169.5 875.8,174.1 877.1,175.4 878.4,175.4 879.6,175.1 880.9,173.1 882.2,170.8 883.4,171.7 884.7,172.2 886.0,174.8 887.2,179.2 888.5,174.9 889.8,175.2 891.0,179.3 892.3,176.8 893.6,176.2 894.9,176.8 896.1,176.0 897.4,182.0 898.7,178.3 899.9,181.3 901.2,177.0 902.5,182.2 903.7,181.7 905.0,180.1 906.3,181.0 907.5,182.4 908.8,181.3 910.1,188.5 911.4,177.7 912.6,180.1 913.9,179.8 915.2,178.3 916.4,181.4 917.7,181.3 919.0,181.8 920.2,181.1 921.5,180.6 922.8,184.1 924.0,181.7 925.3,181.5 926.6,183.3 927.9,179.3 929.1,180.3 930.4,178.7 931.7,184.2 932.9,178.6 934.2,179.5 935.5,181.2 936.7,182.0 938.0,183.3 939.3,181.1 940.5,179.6 941.8,177.7 943.1,178.9 944.4,181.4 945.6,176.5 946.9,180.2 948.2,177.3 949.4,178.6 950.7,176.5 952.0,177.5 953.2,178.9 954.5,178.5 955.8,179.2 957.0,178.5 958.3,176.8 959.6,181.2 960.9,176.7 962.1,176.9 963.4,174.4 964.7,173.4 965.9,172.9 967.2,175.7 968.5,178.5 969.7,175.8 971.0,178.0 972.3,177.3 973.5,175.8 974.8,178.0 976.1,178.0 977.4,180.5 978.6,182.1 979.9,184.0 981.2,178.9 982.4,176.4 983.7,174.7 985.0,178.3 986.2,182.0 987.5,180.8 988.8,175.7 990.0,180.1 991.3,177.4 992.6,178.5 993.9,176.0 995.1,180.0 996.4,178.3 997.7,178.8 998.9,179.2 1000.2,180.4 1001.5,185.5 1002.7,179.5 1004.0,178.0 1005.3,180.6 1006.5,183.2 1007.8,182.7 1009.1,183.7 1010.4,181.0 1011.6,179.4 1012.9,180.7 1014.2,181.7 1015.4,182.6 1016.7,178.3 1018.0,182.5 1019.2,186.2 1020.5,181.1 1021.8,176.7 1023.0,182.2 1024.3,185.8 1025.6,183.2 1026.9,181.8 1028.1,178.6 1029.4,181.1 1030.7,177.4 1031.9,180.7 1033.2,182.0 1034.5,179.3 1035.7,177.3 1037.0,182.5 1038.3,184.0 1039.5,181.3 1040.8,181.7 1042.1,180.7 1043.4,176.3 1044.6,176.5 1045.9,178.4 1047.2,179.7 1048.4,178.8 1049.7,177.0" fill="none" stroke="#50a0b0" stroke-width="1.1" stroke-dasharray="3,1.5"/>
<path d="M835.2,160.1 836.5,158.6 837.7,158.7 839.0,160.1 840.3,161.7 841.5,162.5 842.8,162.2 844.1,161.8 845.4,164.4 846.6,163.2 847.9,161.3 849.2,163.3 850.4,165.7 851.7,169.1 853.0,164.0 854.2,163.0 855.5,164.9 856.8,170.4 858.0,172.2 859.3,164.5 860.6,163.6 861.9,168.0 863.1,171.8 864.4,169.8 865.7,173.0 866.9,168.9 868.2,168.0 869.5,173.6 870.7,170.8 872.0,170.9 873.3,172.1 874.5,174.7 875.8,173.5 877.1,172.0 878.4,176.6 879.6,174.8 880.9,171.7 882.2,172.2 883.4,172.7 884.7,174.2 886.0,172.0 887.2,173.4 888.5,175.1 889.8,177.5 891.0,181.7 892.3,179.4 893.6,179.5 894.9,179.8 896.1,181.5 897.4,185.1 898.7,182.1 899.9,182.1 901.2,180.3 902.5,179.9 903.7,178.9 905.0,179.5 906.3,182.8 907.5,181.6 908.8,179.1 910.1,184.3 911.4,181.5 912.6,182.7 913.9,179.5 915.2,182.0 916.4,185.2 917.7,186.3 919.0,188.9 920.2,181.3 921.5,178.7 922.8,184.6 924.0,183.2 925.3,183.9 926.6,186.1 927.9,181.0 929.1,183.1 930.4,183.0 931.7,180.5 932.9,180.8 934.2,179.2 935.5,181.9 936.7,185.6 938.0,181.9 939.3,180.4 940.5,177.7 941.8,179.6 943.1,180.2 944.4,178.1 945.6,181.0 946.9,178.3 948.2,180.4 949.4,181.0 950.7,180.0 952.0,181.6 953.2,181.8 954.5,181.9 955.8,177.3 957.0,183.3 958.3,181.4 959.6,182.7 960.9,182.1 962.1,183.1 963.4,183.5 964.7,180.6 965.9,182.5 967.2,182.3 968.5,184.0 969.7,181.4 971.0,177.7 972.3,182.0 973.5,186.6 974.8,181.2 976.1,181.9 977.4,184.0 978.6,181.5 979.9,182.1 981.2,183.9 982.4,181.2 983.7,180.6 985.0,182.9 986.2,184.8 987.5,180.8 988.8,182.3 990.0,180.6 991.3,182.0 992.6,184.8 993.9,182.2 995.1,181.8 996.4,182.6 997.7,181.2 998.9,181.1 1000.2,181.4 1001.5,178.4 1002.7,179.8 1004.0,179.2 1005.3,183.5 1006.5,185.7 1007.8,182.7 1009.1,184.7 1010.4,184.3 1011.6,182.8 1012.9,182.5 1014.2,185.1 1015.4,180.6 1016.7,181.9 1018.0,182.7 1019.2,181.1 1020.5,183.7 1021.8,180.7 1023.0,182.5 1024.3,182.5 1025.6,187.6 1026.9,187.2 1028.1,184.5 1029.4,184.1 1030.7,179.1 1031.9,178.7 1033.2,185.3 1034.5,183.6 1035.7,185.2 1037.0,186.1 1038.3,180.6 1039.5,179.4 1040.8,182.8 1042.1,181.7 1043.4,179.4 1044.6,177.6 1045.9,178.2 1047.2,180.3 1048.4,179.4 1049.7,177.1" fill="none" stroke="#a0a8e0" stroke-width="1.0" stroke-dasharray="1.2,1.2"/>
<path d="M835.2,145.7 836.5,148.6 837.7,146.9 839.0,147.5 840.3,151.0 841.5,149.0 842.8,148.1 844.1,145.5 845.4,146.7 846.6,150.7 847.9,149.2 849.2,149.4 850.4,148.7 851.7,151.5 853.0,151.0 854.2,149.4 855.5,149.1 856.8,149.5 858.0,151.8 859.3,151.3 860.6,151.7 861.9,149.3 863.1,152.9 864.4,151.8 865.7,151.3 866.9,154.2 868.2,153.9 869.5,155.2 870.7,158.4 872.0,154.1 873.3,157.9 874.5,158.3 875.8,158.9 877.1,159.4 878.4,158.4 879.6,159.8 880.9,156.0 882.2,161.8 883.4,161.5 884.7,158.6 886.0,161.2 887.2,164.1 888.5,159.5 889.8,162.6 891.0,160.1 892.3,159.3 893.6,162.5 894.9,160.8 896.1,162.4 897.4,164.3 898.7,163.1 899.9,164.5 901.2,167.5 902.5,165.1 903.7,163.1 905.0,160.6 906.3,166.0 907.5,166.8 908.8,166.7 910.1,166.4 911.4,169.5 912.6,164.1 913.9,164.2 915.2,165.9 916.4,165.6 917.7,169.6 919.0,165.5 920.2,171.6 921.5,172.1 922.8,168.4 924.0,169.4 925.3,172.6 926.6,166.8 927.9,169.0 929.1,172.6 930.4,168.3 931.7,168.9 932.9,168.4 934.2,167.8 935.5,169.3 936.7,166.4 938.0,170.9 939.3,169.9 940.5,167.5 941.8,169.1 943.1,166.0 944.4,164.2 945.6,169.7 946.9,164.2 948.2,169.1 949.4,166.7 950.7,165.8 952.0,168.3 953.2,167.2 954.5,168.2 955.8,166.0 957.0,171.9 958.3,169.9 959.6,165.7 960.9,170.3 962.1,169.6 963.4,171.3 964.7,172.5 965.9,171.4 967.2,172.3 968.5,170.6 969.7,169.4 971.0,165.0 972.3,167.2 973.5,168.2 974.8,167.0 976.1,166.8 977.4,167.5 978.6,168.9 979.9,168.8 981.2,170.8 982.4,168.7 983.7,172.6 985.0,165.9 986.2,170.1 987.5,170.5 988.8,164.4 990.0,165.0 991.3,170.6 992.6,170.8 993.9,164.5 995.1,166.4 996.4,169.9 997.7,165.2 998.9,167.4 1000.2,170.2 1001.5,171.5 1002.7,173.4 1004.0,177.3 1005.3,174.1 1006.5,173.5 1007.8,171.1 1009.1,170.3 1010.4,172.8 1011.6,173.5 1012.9,169.1 1014.2,170.0 1015.4,168.9 1016.7,170.3 1018.0,165.8 1019.2,173.3 1020.5,171.2 1021.8,168.6 1023.0,172.8 1024.3,169.9 1025.6,171.3 1026.9,167.2 1028.1,170.4 1029.4,172.1 1030.7,172.6 1031.9,171.0 1033.2,168.1 1034.5,168.3 1035.7,170.5 1037.0,168.2 1038.3,173.4 1039.5,172.3 1040.8,171.2 1042.1,170.3 1043.4,172.1 1044.6,169.8 1045.9,168.1 1047.2,170.6 1048.4,170.0 1049.7,169.0" fill="none" stroke="#e0706a" stroke-width="1.2" stroke-dasharray="1.6,1.6"/>
<path d="M835.2,199.0 836.5,197.2 837.7,198.7 839.0,196.4 840.3,198.9 841.5,205.0 842.8,197.7 844.1,196.1 845.4,196.7 846.6,197.3 847.9,196.6 849.2,194.9 850.4,199.5 851.7,201.2 853.0,201.0 854.2,200.3 855.5,200.7 856.8,197.8 858.0,202.2 859.3,198.5 860.6,200.5 861.9,198.0 863.1,199.1 864.4,198.4 865.7,196.2 866.9,198.8 868.2,200.3 869.5,202.9 870.7,203.9 872.0,204.7 873.3,207.0 874.5,205.1 875.8,201.3 877.1,202.9 878.4,204.0 879.6,204.8 880.9,200.9 882.2,199.1 883.4,201.5 884.7,197.3 886.0,203.8 887.2,206.2 888.5,202.6 889.8,208.4 891.0,206.9 892.3,208.8 893.6,205.7 894.9,202.8 896.1,207.2 897.4,206.0 898.7,203.4 899.9,204.5 901.2,206.4 902.5,205.9 903.7,206.4 905.0,204.0 906.3,201.3 907.5,203.0 908.8,209.2 910.1,209.5 911.4,204.1 912.6,206.5 913.9,206.3 915.2,207.8 916.4,210.7 917.7,208.5 919.0,212.5 920.2,215.7 921.5,216.3 922.8,214.1 924.0,205.9 925.3,208.0 926.6,208.4 927.9,209.3 929.1,209.7 930.4,208.0 931.7,207.0 932.9,203.8 934.2,208.5 935.5,211.5 936.7,213.0 938.0,208.2 939.3,210.0 940.5,208.7 941.8,206.0 943.1,207.6 944.4,209.5 945.6,208.2 946.9,207.5 948.2,203.2 949.4,206.1 950.7,206.3 952.0,209.1 953.2,212.8 954.5,208.9 955.8,206.0 957.0,208.2 958.3,205.5 959.6,204.5 960.9,210.0 962.1,210.7 963.4,209.9 964.7,207.2 965.9,206.3 967.2,203.9 968.5,202.9 969.7,201.8 971.0,202.4 972.3,207.4 973.5,203.0 974.8,206.0 976.1,206.3 977.4,205.4 978.6,202.7 979.9,206.3 981.2,205.3 982.4,200.9 983.7,205.3 985.0,204.3 986.2,202.0 987.5,205.7 988.8,203.7 990.0,204.5 991.3,205.8 992.6,211.9 993.9,205.6 995.1,201.6 996.4,204.2 997.7,209.1 998.9,211.7 1000.2,215.1 1001.5,212.1 1002.7,214.0 1004.0,216.1 1005.3,215.1 1006.5,209.6 1007.8,212.3 1009.1,213.0 1010.4,215.3 1011.6,217.4 1012.9,221.1 1014.2,217.1 1015.4,215.9 1016.7,215.9 1018.0,214.0 1019.2,218.6 1020.5,213.7 1021.8,219.4 1023.0,220.9 1024.3,217.1 1025.6,216.4 1026.9,216.4 1028.1,221.0 1029.4,221.9 1030.7,215.2 1031.9,211.5 1033.2,217.2 1034.5,216.2 1035.7,219.5 1037.0,219.1 1038.3,210.5 1039.5,211.0 1040.8,214.7 1042.1,215.6 1043.4,212.8 1044.6,211.7 1045.9,211.9 1047.2,213.8 1048.4,210.7 1049.7,210.1" fill="none" stroke="#2a2a2a" stroke-width="1.1"/>
<path d="M835.2,132.8 V270.2 H1049.7" fill="none" stroke="#444" stroke-width="1.1"/>
<path d="M832.7,270.2 H835.2 M832.7,247.3 H835.2 M832.7,224.4 H835.2 M832.7,201.5 H835.2 M832.7,178.6 H835.2 M832.7,155.7 H835.2 M832.7,132.8 H835.2 M835.2,270.2 V272.2 M856.7,270.2 V272.2 M878.1,270.2 V272.2 M899.6,270.2 V272.2 M921.0,270.2 V272.2 M942.5,270.2 V272.2 M963.9,270.2 V272.2 M985.4,270.2 V272.2 M1006.8,270.2 V272.2 M1028.2,270.2 V272.2 M1049.7,270.2 V272.2" fill="none" stroke="#555" stroke-width="0.9"/>
<text x="831.7" y="272.5" font-size="6.8" text-anchor="end" font-weight="normal" fill="#1a1a1a" stroke="#1a1a1a" stroke-width="0.25">0.85</text>
<text x="831.7" y="226.69999999999996" font-size="6.8" text-anchor="end" font-weight="normal" fill="#1a1a1a" stroke="#1a1a1a" stroke-width="0.25">0.90</text>
<text x="831.7" y="180.90000000000003" font-size="6.8" text-anchor="end" font-weight="normal" fill="#1a1a1a" stroke="#1a1a1a" stroke-width="0.25">0.95</text>
<text x="831.7" y="135.09999999999997" font-size="6.8" text-anchor="end" font-weight="normal" fill="#1a1a1a" stroke="#1a1a1a" stroke-width="0.25">1.00</text>
<text x="835.2" y="280.2" font-size="6.8" text-anchor="middle" font-weight="normal" fill="#1a1a1a" stroke="#1a1a1a" stroke-width="0.25">3600</text>
<text x="878.1" y="280.2" font-size="6.8" text-anchor="middle" font-weight="normal" fill="#1a1a1a" stroke="#1a1a1a" stroke-width="0.25">3500</text>
<text x="921.0" y="280.2" font-size="6.8" text-anchor="middle" font-weight="normal" fill="#1a1a1a" stroke="#1a1a1a" stroke-width="0.25">3400</text>
<text x="963.9000000000001" y="280.2" font-size="6.8" text-anchor="middle" font-weight="normal" fill="#1a1a1a" stroke="#1a1a1a" stroke-width="0.25">3300</text>
<text x="1006.8000000000001" y="280.2" font-size="6.8" text-anchor="middle" font-weight="normal" fill="#1a1a1a" stroke="#1a1a1a" stroke-width="0.25">3200</text>
<text x="1049.7" y="280.2" font-size="6.8" text-anchor="middle" font-weight="normal" fill="#1a1a1a" stroke="#1a1a1a" stroke-width="0.25">3100</text>
<text x="935.9" y="291.8" font-size="7.5" fill="#1a1a1a" stroke="#1a1a1a" stroke-width="0.2">cm<tspan dy="-3" font-size="4.8">-1</tspan></text>
<path d="M845.3,228.2 H861.5" stroke="#2a2a2a" stroke-width="1.3"/>
<text x="864.4" y="230.79999999999998" font-size="7.3" text-anchor="start" font-weight="normal" fill="#111" stroke="#111" stroke-width="0.3">144 h</text>
<path d="M845.3,237.2 H861.5" stroke="#e0706a" stroke-width="1.4" stroke-dasharray="1.6,1.6"/>
<text x="864.4" y="239.85" font-size="7.3" text-anchor="start" font-weight="normal" fill="#111" stroke="#111" stroke-width="0.3">256 h</text>
<path d="M845.3,246.3 H861.5" stroke="#a0a8e0" stroke-width="1.2" stroke-dasharray="1.2,1.2"/>
<text x="864.4" y="248.89999999999998" font-size="7.3" text-anchor="start" font-weight="normal" fill="#111" stroke="#111" stroke-width="0.3">288 h</text>
<path d="M845.3,255.3 H861.5" stroke="#50a0b0" stroke-width="1.3" stroke-dasharray="3,1.5"/>
<text x="864.4" y="257.95" font-size="7.3" text-anchor="start" font-weight="normal" fill="#111" stroke="#111" stroke-width="0.3">384 h</text>
<path d="M845.3,264.4 H861.5" stroke="#f090dc" stroke-width="1.2" stroke-dasharray="3,1"/>
<text x="864.4" y="267.0" font-size="7.3" text-anchor="start" font-weight="normal" fill="#111" stroke="#111" stroke-width="0.3">720 h</text>
<rect x="1122.5" y="256.7" width="239.70000000000005" height="168.5" fill="#fff" stroke="#a8a8a8" stroke-width="1.3"/>
<path d="M1149.7,275.1 1152.0,274.9 1154.3,276.1 1156.6,276.5 1158.8,275.8 1161.1,276.1 1163.4,277.0 1165.7,277.8 1168.0,278.2 1170.3,279.5 1172.5,278.9 1174.8,280.9 1177.1,281.9 1179.4,282.0 1181.7,282.5 1184.0,284.2 1186.2,283.8 1188.5,285.3 1190.8,286.6 1193.1,287.7 1195.4,287.4 1197.7,290.3 1199.9,291.7 1202.2,293.2 1204.5,294.8 1206.8,296.6 1209.1,300.3 1211.4,305.1 1213.6,312.2 1215.9,319.3 1218.2,326.3 1220.5,334.4 1222.8,341.7 1225.1,348.1 1227.3,353.9 1229.6,358.8 1231.9,359.6 1234.2,359.5 1236.5,358.9 1238.8,359.8 1241.0,359.3 1243.3,359.9 1245.6,360.3 1247.9,359.0 1250.2,357.3 1252.5,355.3 1254.8,350.4 1257.0,345.2 1259.3,339.0 1261.6,333.2 1263.9,325.8 1266.2,319.5 1268.5,313.5 1270.7,306.8 1273.0,302.0 1275.3,300.1 1277.6,297.4 1279.9,297.8 1282.2,296.9 1284.4,295.8 1286.7,295.0 1289.0,295.2 1291.3,296.2 1293.6,295.3 1295.9,295.3 1298.1,295.1 1300.4,295.1 1302.7,293.7 1305.0,294.3 1307.3,294.5 1309.6,294.4 1311.8,294.7 1314.1,295.3 1316.4,295.3 1318.7,295.9 1321.0,295.0 1323.3,295.3 1325.5,295.4 1327.8,296.0 1330.1,296.8 1332.4,295.6 1334.7,295.5 1337.0,296.2 1339.2,296.6 1341.5,297.1 1343.8,296.0 1346.1,296.6 1348.4,296.9 1350.7,298.3 1353.0,298.6" fill="none" stroke="#f090dc" stroke-width="1.0" stroke-dasharray="3,1"/>
<path d="M1149.7,286.0 1152.0,285.6 1154.3,287.4 1156.6,287.4 1158.8,287.8 1161.1,287.7 1163.4,287.7 1165.7,287.7 1168.0,288.5 1170.3,289.4 1172.5,290.2 1174.8,289.9 1177.1,289.5 1179.4,291.7 1181.7,291.8 1184.0,292.2 1186.2,292.9 1188.5,294.0 1190.8,295.4 1193.1,295.0 1195.4,295.9 1197.7,297.7 1199.9,299.1 1202.2,299.5 1204.5,301.0 1206.8,302.5 1209.1,307.1 1211.4,311.5 1213.6,317.3 1215.9,323.3 1218.2,329.3 1220.5,334.6 1222.8,341.6 1225.1,346.7 1227.3,351.4 1229.6,355.0 1231.9,356.3 1234.2,357.2 1236.5,357.7 1238.8,356.1 1241.0,352.2 1243.3,349.1 1245.6,345.7 1247.9,340.5 1250.2,336.7 1252.5,332.2 1254.8,327.6 1257.0,322.5 1259.3,319.8 1261.6,316.8 1263.9,313.7 1266.2,312.1 1268.5,308.5 1270.7,309.3 1273.0,308.8 1275.3,308.5 1277.6,308.3 1279.9,307.3 1282.2,306.9 1284.4,306.4 1286.7,306.7 1289.0,307.2 1291.3,308.0 1293.6,308.1 1295.9,306.4 1298.1,306.9 1300.4,307.0 1302.7,307.3 1305.0,307.6 1307.3,308.1 1309.6,307.5 1311.8,306.8 1314.1,308.9 1316.4,308.6 1318.7,308.7 1321.0,309.5 1323.3,309.2 1325.5,309.7 1327.8,310.8 1330.1,310.5 1332.4,312.8 1334.7,312.2 1337.0,313.0 1339.2,314.3 1341.5,315.3 1343.8,316.1 1346.1,317.6 1348.4,318.3 1350.7,319.1 1353.0,320.3" fill="none" stroke="#50a0b0" stroke-width="1.1" stroke-dasharray="3,1.5"/>
<path d="M1149.7,287.1 1152.0,287.3 1154.3,287.2 1156.6,287.0 1158.8,287.3 1161.1,287.8 1163.4,288.0 1165.7,288.8 1168.0,290.2 1170.3,290.4 1172.5,289.6 1174.8,289.9 1177.1,290.6 1179.4,291.8 1181.7,292.3 1184.0,293.6 1186.2,294.7 1188.5,295.2 1190.8,294.9 1193.1,295.0 1195.4,296.1 1197.7,297.4 1199.9,298.3 1202.2,299.9 1204.5,304.7 1206.8,315.9 1209.1,328.1 1211.4,342.3 1213.6,353.0 1215.9,356.8 1218.2,358.4 1220.5,359.0 1222.8,358.4 1225.1,358.8 1227.3,358.2 1229.6,358.0 1231.9,357.9 1234.2,354.3 1236.5,350.8 1238.8,343.9 1241.0,336.5 1243.3,327.9 1245.6,320.0 1247.9,313.0 1250.2,307.0 1252.5,302.7 1254.8,301.7 1257.0,301.0 1259.3,299.5 1261.6,298.6 1263.9,298.1 1266.2,298.2 1268.5,298.0 1270.7,298.6 1273.0,299.3 1275.3,300.0 1277.6,298.8 1279.9,298.0 1282.2,297.6 1284.4,298.5 1286.7,298.6 1289.0,299.6 1291.3,299.3 1293.6,299.8 1295.9,298.8 1298.1,298.3 1300.4,297.7 1302.7,298.0 1305.0,298.8 1307.3,298.4 1309.6,297.9 1311.8,299.0 1314.1,298.5 1316.4,298.6 1318.7,298.0 1321.0,299.1 1323.3,298.7 1325.5,298.2 1327.8,298.4 1330.1,299.1 1332.4,298.8 1334.7,298.3 1337.0,299.2 1339.2,298.4 1341.5,298.1 1343.8,298.4 1346.1,298.3 1348.4,298.5 1350.7,298.6 1353.0,298.9" fill="none" stroke="#a0a8e0" stroke-width="1.0" stroke-dasharray="1.2,1.2"/>
<path d="M1149.7,282.8 1152.0,283.1 1154.3,282.3 1156.6,282.4 1158.8,282.6 1161.1,282.6 1163.4,283.3 1165.7,284.1 1168.0,284.3 1170.3,284.2 1172.5,284.5 1174.8,284.4 1177.1,284.2 1179.4,285.4 1181.7,285.8 1184.0,285.6 1186.2,286.1 1188.5,287.4 1190.8,288.6 1193.1,290.1 1195.4,291.2 1197.7,291.6 1199.9,291.4 1202.2,292.7 1204.5,294.4 1206.8,296.5 1209.1,297.2 1211.4,300.0 1213.6,301.2 1215.9,302.9 1218.2,305.4 1220.5,308.7 1222.8,308.9 1225.1,309.0 1227.3,309.0 1229.6,308.7 1231.9,307.1 1234.2,305.9 1236.5,304.6 1238.8,303.8 1241.0,300.9 1243.3,299.2 1245.6,296.7 1247.9,293.5 1250.2,292.7 1252.5,292.2 1254.8,292.1 1257.0,294.3 1259.3,298.0 1261.6,301.6 1263.9,305.2 1266.2,309.0 1268.5,310.8 1270.7,312.4 1273.0,310.9 1275.3,310.5 1277.6,309.1 1279.9,305.1 1282.2,302.4 1284.4,299.7 1286.7,297.8 1289.0,297.4 1291.3,297.6 1293.6,298.0 1295.9,297.4 1298.1,297.3 1300.4,297.5 1302.7,297.2 1305.0,297.2 1307.3,296.9 1309.6,296.6 1311.8,296.6 1314.1,295.9 1316.4,295.5 1318.7,297.2 1321.0,296.9 1323.3,297.8 1325.5,297.4 1327.8,297.1 1330.1,297.0 1332.4,297.4 1334.7,297.8 1337.0,298.1 1339.2,298.4 1341.5,298.2 1343.8,298.4 1346.1,298.9 1348.4,298.8 1350.7,298.2 1353.0,298.9" fill="none" stroke="#e0706a" stroke-width="1.2" stroke-dasharray="1.6,1.6"/>
<path d="M1149.7,312.0 1152.0,310.8 1154.3,310.6 1156.6,311.3 1158.8,310.1 1161.1,309.4 1163.4,311.5 1165.7,311.4 1168.0,311.7 1170.3,313.6 1172.5,313.0 1174.8,315.1 1177.1,315.5 1179.4,317.0 1181.7,316.6 1184.0,318.3 1186.2,317.3 1188.5,318.8 1190.8,317.8 1193.1,315.7 1195.4,318.6 1197.7,318.0 1199.9,317.9 1202.2,317.1 1204.5,318.2 1206.8,320.2 1209.1,318.8 1211.4,320.3 1213.6,320.9 1215.9,320.0 1218.2,320.3 1220.5,322.0 1222.8,321.8 1225.1,322.5 1227.3,325.4 1229.6,322.5 1231.9,320.3 1234.2,320.2 1236.5,318.4 1238.8,316.9 1241.0,319.1 1243.3,323.7 1245.6,323.9 1247.9,323.6 1250.2,321.1 1252.5,320.7 1254.8,318.4 1257.0,317.9 1259.3,317.2 1261.6,317.8 1263.9,316.0 1266.2,320.2 1268.5,320.0 1270.7,321.7 1273.0,322.4 1275.3,323.8 1277.6,325.9 1279.9,325.6 1282.2,325.5 1284.4,323.6 1286.7,323.5 1289.0,324.6 1291.3,324.0 1293.6,322.4 1295.9,320.3 1298.1,321.7 1300.4,321.5 1302.7,322.0 1305.0,323.9 1307.3,321.5 1309.6,324.7 1311.8,324.6 1314.1,323.3 1316.4,322.3 1318.7,322.8 1321.0,320.1 1323.3,321.6 1325.5,319.2 1327.8,320.8 1330.1,320.4 1332.4,322.6 1334.7,324.4 1337.0,324.3 1339.2,324.1 1341.5,324.3 1343.8,324.9 1346.1,323.9 1348.4,325.9 1350.7,327.5 1353.0,327.7" fill="none" stroke="#2a2a2a" stroke-width="1.1"/>
<path d="M1149.7,262.6 V400.4 H1353.0" fill="none" stroke="#444" stroke-width="1.1"/>
<path d="M1147.2,400.4 H1149.7 M1147.2,383.2 H1149.7 M1147.2,366.0 H1149.7 M1147.2,348.7 H1149.7 M1147.2,331.5 H1149.7 M1147.2,314.3 H1149.7 M1147.2,297.1 H1149.7 M1147.2,279.8 H1149.7 M1147.2,262.6 H1149.7 M1149.7,400.4 V402.4 M1163.2,400.4 V402.4 M1176.8,400.4 V402.4 M1190.4,400.4 V402.4 M1203.9,400.4 V402.4 M1217.5,400.4 V402.4 M1231.0,400.4 V402.4 M1244.5,400.4 V402.4 M1258.1,400.4 V402.4 M1271.7,400.4 V402.4 M1285.2,400.4 V402.4 M1298.8,400.4 V402.4 M1312.3,400.4 V402.4 M1325.9,400.4 V402.4 M1339.4,400.4 V402.4 M1353.0,400.4 V402.4" fill="none" stroke="#555" stroke-width="0.9"/>
<text x="1146.2" y="402.7" font-size="6.8" text-anchor="end" font-weight="normal" fill="#1a1a1a" stroke="#1a1a1a" stroke-width="0.25">0.80</text>
<text x="1146.2" y="368.25000000000006" font-size="6.8" text-anchor="end" font-weight="normal" fill="#1a1a1a" stroke="#1a1a1a" stroke-width="0.25">0.85</text>
<text x="1146.2" y="333.8" font-size="6.8" text-anchor="end" font-weight="normal" fill="#1a1a1a" stroke="#1a1a1a" stroke-width="0.25">0.90</text>
<text x="1146.2" y="299.3500000000001" font-size="6.8" text-anchor="end" font-weight="normal" fill="#1a1a1a" stroke="#1a1a1a" stroke-width="0.25">0.95</text>
<text x="1146.2" y="264.90000000000003" font-size="6.8" text-anchor="end" font-weight="normal" fill="#1a1a1a" stroke="#1a1a1a" stroke-width="0.25">1.00</text>
<text x="1149.7" y="410.4" font-size="6.8" text-anchor="middle" font-weight="normal" fill="#1a1a1a" stroke="#1a1a1a" stroke-width="0.25">1800</text>
<text x="1176.8" y="410.4" font-size="6.8" text-anchor="middle" font-weight="normal" fill="#1a1a1a" stroke="#1a1a1a" stroke-width="0.25">1780</text>
<text x="1203.9" y="410.4" font-size="6.8" text-anchor="middle" font-weight="normal" fill="#1a1a1a" stroke="#1a1a1a" stroke-width="0.25">1760</text>
<text x="1231.0" y="410.4" font-size="6.8" text-anchor="middle" font-weight="normal" fill="#1a1a1a" stroke="#1a1a1a" stroke-width="0.25">1740</text>
<text x="1258.1000000000001" y="410.4" font-size="6.8" text-anchor="middle" font-weight="normal" fill="#1a1a1a" stroke="#1a1a1a" stroke-width="0.25">1720</text>
<text x="1285.2" y="410.4" font-size="6.8" text-anchor="middle" font-weight="normal" fill="#1a1a1a" stroke="#1a1a1a" stroke-width="0.25">1700</text>
<text x="1312.3" y="410.4" font-size="6.8" text-anchor="middle" font-weight="normal" fill="#1a1a1a" stroke="#1a1a1a" stroke-width="0.25">1680</text>
<text x="1339.4" y="410.4" font-size="6.8" text-anchor="middle" font-weight="normal" fill="#1a1a1a" stroke="#1a1a1a" stroke-width="0.25">1660</text>
<text x="1245" y="422.7" font-size="7.5" fill="#1a1a1a" stroke="#1a1a1a" stroke-width="0.2">cm<tspan dy="-3" font-size="4.8">-1</tspan></text>
<path d="M1151.3,355.8 H1168.5" stroke="#2a2a2a" stroke-width="1.3"/>
<text x="1171" y="358.40000000000003" font-size="7.3" text-anchor="start" font-weight="normal" fill="#111" stroke="#111" stroke-width="0.3">144 h</text>
<path d="M1151.3,365.0 H1168.5" stroke="#e0706a" stroke-width="1.4" stroke-dasharray="1.6,1.6"/>
<text x="1171" y="367.6" font-size="7.3" text-anchor="start" font-weight="normal" fill="#111" stroke="#111" stroke-width="0.3">256 h</text>
<path d="M1151.3,374.2 H1168.5" stroke="#a0a8e0" stroke-width="1.2" stroke-dasharray="1.2,1.2"/>
<text x="1171" y="376.8" font-size="7.3" text-anchor="start" font-weight="normal" fill="#111" stroke="#111" stroke-width="0.3">288 h</text>
<path d="M1151.3,383.4 H1168.5" stroke="#50a0b0" stroke-width="1.3" stroke-dasharray="3,1.5"/>
<text x="1171" y="386.00000000000006" font-size="7.3" text-anchor="start" font-weight="normal" fill="#111" stroke="#111" stroke-width="0.3">384 h</text>
<path d="M1151.3,392.6 H1168.5" stroke="#f090dc" stroke-width="1.2" stroke-dasharray="3,1"/>
<text x="1171" y="395.20000000000005" font-size="7.3" text-anchor="start" font-weight="normal" fill="#111" stroke="#111" stroke-width="0.3">720 h</text>
<path d="M120.1,315.0 H169.3" stroke="#111" stroke-width="1.8"/>
<text x="176.2" y="322.5" font-size="20.6" text-anchor="start" font-weight="normal" fill="#222" >144 h</text>
<path d="M120.1,341.2 H169.3" stroke="#c82050" stroke-width="1.8" stroke-dasharray="5.5,4.5"/>
<text x="176.2" y="348.75" font-size="20.6" text-anchor="start" font-weight="normal" fill="#222" >256 h</text>
<path d="M120.1,367.5 H169.3" stroke="#3a2a80" stroke-width="1.8" stroke-dasharray="2,4.5"/>
<text x="176.2" y="375.0" font-size="20.6" text-anchor="start" font-weight="normal" fill="#222" >288 h</text>
<path d="M120.1,393.8 H169.3" stroke="#2a8a98" stroke-width="1.8" stroke-dasharray="6.5,3,2,3"/>
<text x="176.2" y="401.25" font-size="20.6" text-anchor="start" font-weight="normal" fill="#222" >384 h</text>
<path d="M120.1,420.0 H169.3" stroke="#cc30b8" stroke-width="1.8" stroke-dasharray="5,2.5,2,2.5,2,2.5"/>
<text x="176.2" y="427.5" font-size="20.6" text-anchor="start" font-weight="normal" fill="#222" >720 h</text>
<path d="M832.9,310.0 H881.0" stroke="#111" stroke-width="1.8"/>
<text x="887.9" y="317.5" font-size="20.6" text-anchor="start" font-weight="normal" fill="#222" >144 h</text>
<path d="M832.9,336.3 H881.0" stroke="#c82050" stroke-width="1.8" stroke-dasharray="5.5,4.5"/>
<text x="887.9" y="343.8" font-size="20.6" text-anchor="start" font-weight="normal" fill="#222" >256 h</text>
<path d="M832.9,362.6 H881.0" stroke="#3a2a80" stroke-width="1.8" stroke-dasharray="2,4.5"/>
<text x="887.9" y="370.1" font-size="20.6" text-anchor="start" font-weight="normal" fill="#222" >288 h</text>
<path d="M832.9,388.9 H881.0" stroke="#2a8a98" stroke-width="1.8" stroke-dasharray="6.5,3,2,3"/>
<text x="887.9" y="396.4" font-size="20.6" text-anchor="start" font-weight="normal" fill="#222" >384 h</text>
<path d="M832.9,415.2 H881.0" stroke="#cc30b8" stroke-width="1.8" stroke-dasharray="5,2.5,2,2.5,2,2.5"/>
<text x="887.9" y="422.7" font-size="20.6" text-anchor="start" font-weight="normal" fill="#222" >720 h</text>
<path d="M171.4,64.5 L205.4,111.7" stroke="#000" stroke-width="2.3"/>
<path d="M214.8,124.7 L196.7,110.7 L205.4,111.7 L207.2,103.1 Z" fill="#000"/>
<path d="M487.9,96.0 L487.9,239.7" stroke="#000" stroke-width="2.3"/>
<path d="M487.9,255.7 L481.4,233.7 L487.9,239.7 L494.4,233.7 Z" fill="#000"/>
<path d="M909.2,62.4 L909.2,108.2" stroke="#000" stroke-width="2.3"/>
<path d="M909.2,124.2 L902.7,102.2 L909.2,108.2 L915.7,102.2 Z" fill="#000"/>
<path d="M1202.5,88.0 L1203.0,243.3" stroke="#000" stroke-width="2.3"/>
<path d="M1203.0,259.3 L1196.4,237.3 L1203.0,243.3 L1209.4,237.3 Z" fill="#000"/>
<text x="12" y="52.1" font-size="37" text-anchor="start" font-weight="bold" fill="#111" >(A)</text>
<text x="712" y="52.1" font-size="37" text-anchor="start" font-weight="bold" fill="#111" >(B)</text>
<text transform="translate(42.5,363.4) rotate(-90)" font-size="26" fill="#222">Normalized Intensity</text>
<text transform="translate(746,349) rotate(-90)" font-size="26" fill="#222">Normalized Intensity</text>
<text x="373" y="503" font-size="25" fill="#222">cm<tspan dx="1.5" dy="-14" font-size="13">-1</tspan></text>
<text x="1084" y="498.2" font-size="25" fill="#222">cm<tspan dx="1.5" dy="-14" font-size="13">-1</tspan></text>
</svg></body></html>
